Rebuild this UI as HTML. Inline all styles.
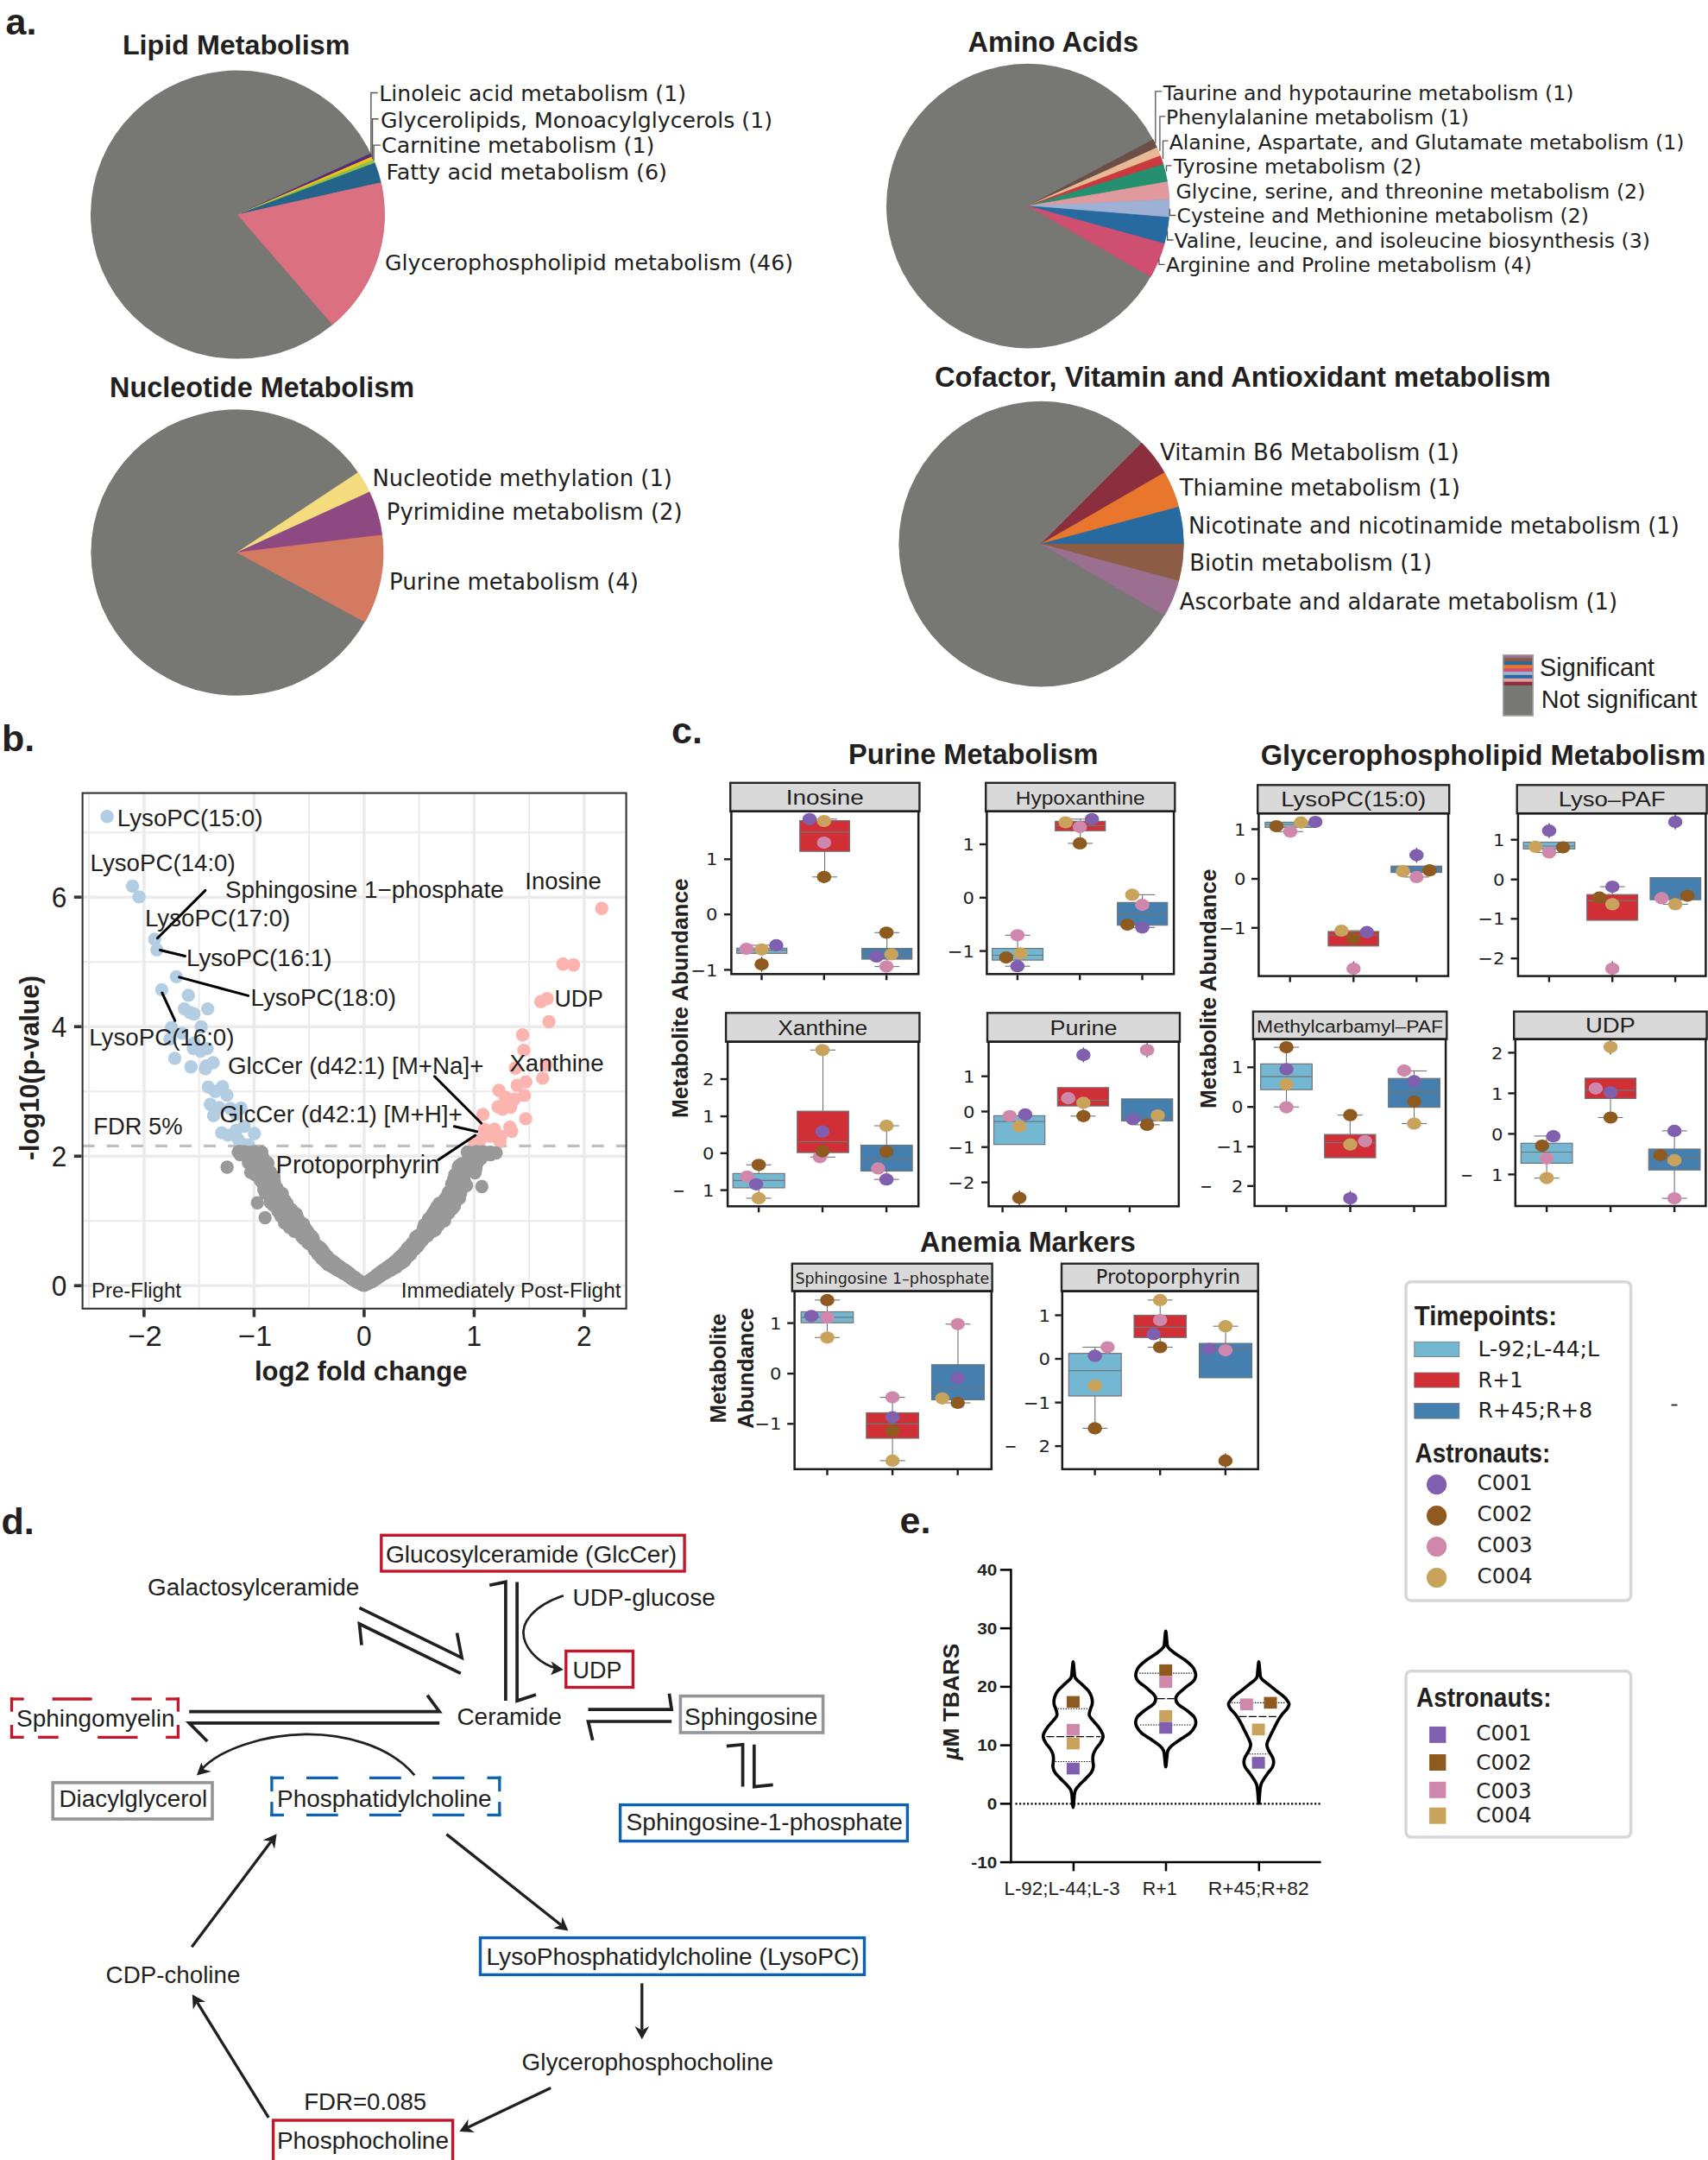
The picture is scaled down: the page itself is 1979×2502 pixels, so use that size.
<!DOCTYPE html>
<html lang="en"><head><meta charset="utf-8"><title>Figure</title>
<style>
html,body{margin:0;padding:0;background:#fff}
svg{display:block}
text{fill:#231f20}
.ls,.lsb,.lsi,.lsbi{font-family:"Liberation Sans",sans-serif}
.dv,.dvb{font-family:"DejaVu Sans",sans-serif}
.lsb,.dvb,.lsbi{font-weight:bold}
.lsi,.lsbi{font-style:italic}
</style></head><body>
<svg width="1979" height="2502" viewBox="0 0 1979 2502">
<rect width="1979" height="2502" fill="#ffffff"/>
<g id="panel-a">
<text class="lsb" x="6.5" y="39.5" font-size="43">a.</text>
<text class="lsb" x="141.9" y="62.8" font-size="32.26" textLength="263.5" lengthAdjust="spacingAndGlyphs">Lipid Metabolism</text>
<ellipse cx="275.3" cy="248.6" rx="170.3" ry="167" fill="#777773"/>
<path d="M275.3 248.6 L429.59 177.92 A170.3 167 0 0 1 431.26 181.53 Z" fill="#56287a" stroke="#56287a" stroke-width="0.6"/>
<path d="M275.3 248.6 L431.26 181.53 A170.3 167 0 0 1 432.84 185.18 Z" fill="#f0c419" stroke="#f0c419" stroke-width="0.6"/>
<path d="M275.3 248.6 L432.84 185.18 A170.3 167 0 0 1 434.33 188.86 Z" fill="#8bc34a" stroke="#8bc34a" stroke-width="0.6"/>
<path d="M275.3 248.6 L434.33 188.86 A170.3 167 0 0 1 441.37 211.6 Z" fill="#24638a" stroke="#24638a" stroke-width="0.6"/>
<path d="M275.3 248.6 L441.37 211.6 A170.3 167 0 0 1 385.31 376.08 Z" fill="#da7080" stroke="#da7080" stroke-width="0.6"/>
<path d="M437.7 107.5 H429.9 V180" fill="none" stroke="#555555" stroke-width="1.4"/>
<path d="M438.6 137.8 H431.5 V184" fill="none" stroke="#555555" stroke-width="1.4"/>
<path d="M440.9 168.1 H433.1 V186" fill="none" stroke="#555555" stroke-width="1.4"/>
<text class="dv" x="439.3" y="117.4" font-size="25.16" textLength="355.7" lengthAdjust="spacingAndGlyphs">Linoleic acid metabolism (1)</text>
<text class="dv" x="441" y="147.5" font-size="25.18" textLength="454" lengthAdjust="spacingAndGlyphs">Glycerolipids, Monoacylglycerols (1)</text>
<text class="dv" x="442" y="177.4" font-size="25.35" textLength="316.4" lengthAdjust="spacingAndGlyphs">Carnitine metabolism (1)</text>
<text class="dv" x="447.5" y="207.5" font-size="25.41" textLength="325.5" lengthAdjust="spacingAndGlyphs">Fatty acid metabolism (6)</text>
<text class="dv" x="446" y="313" font-size="25.19" textLength="473" lengthAdjust="spacingAndGlyphs">Glycerophospholipid metabolism (46)</text>
<text class="lsb" x="1121.5" y="60" font-size="32.51" textLength="197.5" lengthAdjust="spacingAndGlyphs">Amino Acids</text>
<ellipse cx="1191" cy="238.6" rx="164" ry="164.8" fill="#777773"/>
<path d="M1191 238.6 L1336.07 161.74 A164 164.8 0 0 1 1340.59 171.04 Z" fill="#6b4e45" stroke="#6b4e45" stroke-width="0.6"/>
<path d="M1191 238.6 L1340.59 171.04 A164 164.8 0 0 1 1344.51 180.62 Z" fill="#e8b994" stroke="#e8b994" stroke-width="0.6"/>
<path d="M1191 238.6 L1344.51 180.62 A164 164.8 0 0 1 1347.83 190.42 Z" fill="#c9393d" stroke="#c9393d" stroke-width="0.6"/>
<path d="M1191 238.6 L1347.83 190.42 A164 164.8 0 0 1 1352.61 210.55 Z" fill="#25906f" stroke="#25906f" stroke-width="0.6"/>
<path d="M1191 238.6 L1352.61 210.55 A164 164.8 0 0 1 1354.83 231.12 Z" fill="#e09a9e" stroke="#e09a9e" stroke-width="0.6"/>
<path d="M1191 238.6 L1354.83 231.12 A164 164.8 0 0 1 1354.47 251.82 Z" fill="#9eb0d3" stroke="#9eb0d3" stroke-width="0.6"/>
<path d="M1191 238.6 L1354.47 251.82 A164 164.8 0 0 1 1349.11 282.36 Z" fill="#266aa0" stroke="#266aa0" stroke-width="0.6"/>
<path d="M1191 238.6 L1349.11 282.36 A164 164.8 0 0 1 1333.31 320.5 Z" fill="#cf4f70" stroke="#cf4f70" stroke-width="0.6"/>
<text class="dv" x="1347.8" y="115.5" font-size="23.62" textLength="475.7" lengthAdjust="spacingAndGlyphs">Taurine and hypotaurine metabolism (1)</text>
<text class="dv" x="1351" y="144" font-size="23.46" textLength="351" lengthAdjust="spacingAndGlyphs">Phenylalanine metabolism (1)</text>
<text class="dv" x="1354.7" y="172.6" font-size="23.58" textLength="596.8" lengthAdjust="spacingAndGlyphs">Alanine, Aspartate, and Glutamate metabolism (1)</text>
<text class="dv" x="1359.7" y="201" font-size="23.86" textLength="287.3" lengthAdjust="spacingAndGlyphs">Tyrosine metabolism (2)</text>
<text class="dv" x="1362.4" y="229.7" font-size="23.64" textLength="544" lengthAdjust="spacingAndGlyphs">Glycine, serine, and threonine metabolism (2)</text>
<text class="dv" x="1363.6" y="258.3" font-size="23.44" textLength="477.2" lengthAdjust="spacingAndGlyphs">Cysteine and Methionine metabolism (2)</text>
<text class="dv" x="1360.5" y="286.8" font-size="23.57" textLength="551.5" lengthAdjust="spacingAndGlyphs">Valine, leucine, and isoleucine biosynthesis (3)</text>
<text class="dv" x="1351" y="315.4" font-size="23.55" textLength="424" lengthAdjust="spacingAndGlyphs">Arginine and Proline metabolism (4)</text>
<path d="M1346.3 105.9 H1338.8 V166.1" fill="none" stroke="#555555" stroke-width="1.3"/>
<path d="M1350.3 134.8 H1343.9 V175.1" fill="none" stroke="#555555" stroke-width="1.3"/>
<path d="M1353.6 163.1 H1347.5 V184.1" fill="none" stroke="#555555" stroke-width="1.3"/>
<path d="M1357.5 191.9 H1351.5 V198.6" fill="none" stroke="#555555" stroke-width="1.3"/>
<path d="M1362.3 249.5 H1355.4 V241.9" fill="none" stroke="#555555" stroke-width="1.3"/>
<path d="M1359.6 278 H1352.6 V267.8" fill="none" stroke="#555555" stroke-width="1.3"/>
<path d="M1349.6 306.3 H1343 V300.3" fill="none" stroke="#555555" stroke-width="1.3"/>
<text class="lsb" x="127" y="460" font-size="32.41" textLength="353" lengthAdjust="spacingAndGlyphs">Nucleotide Metabolism</text>
<ellipse cx="274.7" cy="640" rx="169.3" ry="165.8" fill="#777773"/>
<path d="M274.7 640 L415.06 547.29 A169.3 165.8 0 0 1 428.14 569.93 Z" fill="#f5dc7e" stroke="#f5dc7e" stroke-width="0.6"/>
<path d="M274.7 640 L428.14 569.93 A169.3 165.8 0 0 1 442.74 619.79 Z" fill="#8e4882" stroke="#8e4882" stroke-width="0.6"/>
<path d="M274.7 640 L442.74 619.79 A169.3 165.8 0 0 1 422.77 720.38 Z" fill="#d47a60" stroke="#d47a60" stroke-width="0.6"/>
<text class="dv" x="431.4" y="563" font-size="25.9" textLength="347.6" lengthAdjust="spacingAndGlyphs">Nucleotide methylation (1)</text>
<text class="dv" x="447.8" y="602" font-size="25.9" textLength="342.9" lengthAdjust="spacingAndGlyphs">Pyrimidine metabolism (2)</text>
<text class="dv" x="451" y="683" font-size="26.03" textLength="289" lengthAdjust="spacingAndGlyphs">Purine metabolism (4)</text>
<text class="lsb" x="1083" y="447.6" font-size="32.68" textLength="713.7" lengthAdjust="spacingAndGlyphs">Cofactor, Vitamin and Antioxidant metabolism</text>
<ellipse cx="1206.4" cy="630.1" rx="165" ry="165.4" fill="#777773"/>
<path d="M1206.4 630.1 L1323.07 513.14 A165 165.4 0 0 1 1349.29 547.4 Z" fill="#8b2e3d" stroke="#8b2e3d" stroke-width="0.6"/>
<path d="M1206.4 630.1 L1349.29 547.4 A165 165.4 0 0 1 1365.78 587.29 Z" fill="#e8762c" stroke="#e8762c" stroke-width="0.6"/>
<path d="M1206.4 630.1 L1365.78 587.29 A165 165.4 0 0 1 1371.4 630.1 Z" fill="#266aa0" stroke="#266aa0" stroke-width="0.6"/>
<path d="M1206.4 630.1 L1371.4 630.1 A165 165.4 0 0 1 1365.78 672.91 Z" fill="#8c5c44" stroke="#8c5c44" stroke-width="0.6"/>
<path d="M1206.4 630.1 L1365.78 672.91 A165 165.4 0 0 1 1349.29 712.8 Z" fill="#9b6f90" stroke="#9b6f90" stroke-width="0.6"/>
<text class="dv" x="1344" y="533" font-size="26.06" textLength="346.7" lengthAdjust="spacingAndGlyphs">Vitamin B6 Metabolism (1)</text>
<text class="dv" x="1366.8" y="573.7" font-size="25.83" textLength="325" lengthAdjust="spacingAndGlyphs">Thiamine metabolism (1)</text>
<text class="dv" x="1377" y="617.8" font-size="25.78" textLength="568.8" lengthAdjust="spacingAndGlyphs">Nicotinate and nicotinamide metabolism (1)</text>
<text class="dv" x="1378.3" y="660.8" font-size="25.93" textLength="280.7" lengthAdjust="spacingAndGlyphs">Biotin metabolism (1)</text>
<text class="dv" x="1366.8" y="705.5" font-size="25.79" textLength="507.2" lengthAdjust="spacingAndGlyphs">Ascorbate and aldarate metabolism (1)</text>
<rect x="1741.2" y="758" width="35.6" height="71.5" fill="#777773"/>
<rect x="1741.2" y="758.5" width="35.6" height="4.2" fill="#9b6f90"/>
<rect x="1741.2" y="762.4" width="35.6" height="4.2" fill="#8c5c44"/>
<rect x="1741.2" y="766.3" width="35.6" height="4.2" fill="#266aa0"/>
<rect x="1741.2" y="770.2" width="35.6" height="4.2" fill="#e8762c"/>
<rect x="1741.2" y="774.1" width="35.6" height="4.2" fill="#cf4f70"/>
<rect x="1741.2" y="778" width="35.6" height="4.2" fill="#9eb0d3"/>
<rect x="1741.2" y="781.9" width="35.6" height="4.2" fill="#266aa0"/>
<rect x="1741.2" y="785.8" width="35.6" height="4.2" fill="#e39da0"/>
<rect x="1741.2" y="789.7" width="35.6" height="4.2" fill="#8b2e3d"/>
<rect x="1741.9" y="758.7" width="34.2" height="70.1" fill="none" stroke="#a3a3a0" stroke-width="1.4"/>
<text class="ls" x="1784" y="782.8" font-size="28.83" textLength="133" lengthAdjust="spacingAndGlyphs">Significant</text>
<text class="ls" x="1785.8" y="820.4" font-size="28.79" textLength="180.8" lengthAdjust="spacingAndGlyphs">Not significant</text>
</g>
<g id="panel-b">
<text class="lsb" x="2" y="870" font-size="43">b.</text>
<line x1="103.15" y1="918.6" x2="103.15" y2="1515.8" stroke="#ebebeb" stroke-width="2"/>
<line x1="230.65" y1="918.6" x2="230.65" y2="1515.8" stroke="#ebebeb" stroke-width="2"/>
<line x1="358.15" y1="918.6" x2="358.15" y2="1515.8" stroke="#ebebeb" stroke-width="2"/>
<line x1="485.65" y1="918.6" x2="485.65" y2="1515.8" stroke="#ebebeb" stroke-width="2"/>
<line x1="613.15" y1="918.6" x2="613.15" y2="1515.8" stroke="#ebebeb" stroke-width="2"/>
<line x1="95.6" y1="1414.2" x2="725.6" y2="1414.2" stroke="#ebebeb" stroke-width="2"/>
<line x1="95.6" y1="1264.2" x2="725.6" y2="1264.2" stroke="#ebebeb" stroke-width="2"/>
<line x1="95.6" y1="1114.2" x2="725.6" y2="1114.2" stroke="#ebebeb" stroke-width="2"/>
<line x1="95.6" y1="964.2" x2="725.6" y2="964.2" stroke="#ebebeb" stroke-width="2"/>
<line x1="166.9" y1="918.6" x2="166.9" y2="1515.8" stroke="#ebebeb" stroke-width="3.6"/>
<line x1="294.4" y1="918.6" x2="294.4" y2="1515.8" stroke="#ebebeb" stroke-width="3.6"/>
<line x1="421.9" y1="918.6" x2="421.9" y2="1515.8" stroke="#ebebeb" stroke-width="3.6"/>
<line x1="549.4" y1="918.6" x2="549.4" y2="1515.8" stroke="#ebebeb" stroke-width="3.6"/>
<line x1="676.9" y1="918.6" x2="676.9" y2="1515.8" stroke="#ebebeb" stroke-width="3.6"/>
<line x1="95.6" y1="1489.2" x2="725.6" y2="1489.2" stroke="#ebebeb" stroke-width="3.6"/>
<line x1="95.6" y1="1339.2" x2="725.6" y2="1339.2" stroke="#ebebeb" stroke-width="3.6"/>
<line x1="95.6" y1="1189.2" x2="725.6" y2="1189.2" stroke="#ebebeb" stroke-width="3.6"/>
<line x1="95.6" y1="1039.2" x2="725.6" y2="1039.2" stroke="#ebebeb" stroke-width="3.6"/>
<line x1="95.6" y1="1327.4" x2="725.6" y2="1327.4" stroke="#bebebe" stroke-width="3.3" stroke-dasharray="14 14.1"/>
<circle cx="124.1" cy="945.7" r="7.7" fill="#b3cde3"/>
<circle cx="153.6" cy="1026.5" r="7.7" fill="#b3cde3"/>
<circle cx="161.1" cy="1038.9" r="7.7" fill="#b3cde3"/>
<circle cx="179.2" cy="1088" r="7.7" fill="#b3cde3"/>
<circle cx="181.7" cy="1100.2" r="7.7" fill="#b3cde3"/>
<circle cx="204.4" cy="1131.4" r="7.7" fill="#b3cde3"/>
<circle cx="187.4" cy="1146.4" r="7.7" fill="#b3cde3"/>
<circle cx="218.3" cy="1152.9" r="7.7" fill="#b3cde3"/>
<circle cx="213.6" cy="1168.6" r="7.7" fill="#b3cde3"/>
<circle cx="240.7" cy="1168.6" r="7.7" fill="#b3cde3"/>
<circle cx="220.1" cy="1172.8" r="7.7" fill="#b3cde3"/>
<circle cx="224.8" cy="1174.5" r="7.7" fill="#b3cde3"/>
<circle cx="198.74" cy="1190.3" r="7.7" fill="#b3cde3"/>
<circle cx="210.91" cy="1196.86" r="7.7" fill="#b3cde3"/>
<circle cx="196.86" cy="1203.42" r="7.7" fill="#b3cde3"/>
<circle cx="233.11" cy="1189.37" r="7.7" fill="#b3cde3"/>
<circle cx="224.03" cy="1214.66" r="7.7" fill="#b3cde3"/>
<circle cx="232.46" cy="1217.47" r="7.7" fill="#b3cde3"/>
<circle cx="239.95" cy="1214.66" r="7.7" fill="#b3cde3"/>
<circle cx="224.96" cy="1208.1" r="7.7" fill="#b3cde3"/>
<circle cx="202.48" cy="1225.9" r="7.7" fill="#b3cde3"/>
<circle cx="221.22" cy="1235.74" r="7.7" fill="#b3cde3"/>
<circle cx="239.02" cy="1234.8" r="7.7" fill="#b3cde3"/>
<circle cx="246.98" cy="1231.05" r="7.7" fill="#b3cde3"/>
<circle cx="238.08" cy="1238.08" r="7.7" fill="#b3cde3"/>
<circle cx="241.36" cy="1259.16" r="7.7" fill="#b3cde3"/>
<circle cx="257.75" cy="1258.69" r="7.7" fill="#b3cde3"/>
<circle cx="249.32" cy="1264.31" r="7.7" fill="#b3cde3"/>
<circle cx="262.9" cy="1268.52" r="7.7" fill="#b3cde3"/>
<circle cx="243.7" cy="1279.3" r="7.7" fill="#b3cde3"/>
<circle cx="247.45" cy="1292.41" r="7.7" fill="#b3cde3"/>
<circle cx="254" cy="1283.04" r="7.7" fill="#b3cde3"/>
<circle cx="267.12" cy="1283.98" r="7.7" fill="#b3cde3"/>
<circle cx="279.3" cy="1283.51" r="7.7" fill="#b3cde3"/>
<circle cx="273.68" cy="1290.54" r="7.7" fill="#b3cde3"/>
<circle cx="256.81" cy="1312.08" r="7.7" fill="#b3cde3"/>
<circle cx="264.31" cy="1314.89" r="7.7" fill="#b3cde3"/>
<circle cx="273.68" cy="1309.27" r="7.7" fill="#b3cde3"/>
<circle cx="283.04" cy="1304.59" r="7.7" fill="#b3cde3"/>
<circle cx="276.49" cy="1320.52" r="7.7" fill="#b3cde3"/>
<circle cx="287.73" cy="1326.14" r="7.7" fill="#b3cde3"/>
<circle cx="294.75" cy="1313.02" r="7.7" fill="#b3cde3"/>
<circle cx="283.04" cy="1326.14" r="7.7" fill="#b3cde3"/>
<circle cx="697.2" cy="1052.2" r="7.7" fill="#fbb4ae"/>
<circle cx="652.3" cy="1116.7" r="7.7" fill="#fbb4ae"/>
<circle cx="664.5" cy="1117.7" r="7.7" fill="#fbb4ae"/>
<circle cx="634" cy="1156.7" r="7.7" fill="#fbb4ae"/>
<circle cx="626.6" cy="1160.3" r="7.7" fill="#fbb4ae"/>
<circle cx="636.1" cy="1183.5" r="7.7" fill="#fbb4ae"/>
<circle cx="605.5" cy="1198.7" r="7.7" fill="#fbb4ae"/>
<circle cx="607" cy="1216.6" r="7.7" fill="#fbb4ae"/>
<circle cx="632.9" cy="1233.5" r="7.7" fill="#fbb4ae"/>
<circle cx="597.1" cy="1237.3" r="7.7" fill="#fbb4ae"/>
<circle cx="628.7" cy="1248.9" r="7.7" fill="#fbb4ae"/>
<circle cx="609.3" cy="1253.1" r="7.7" fill="#fbb4ae"/>
<circle cx="599.2" cy="1257.3" r="7.7" fill="#fbb4ae"/>
<circle cx="578.1" cy="1263" r="7.7" fill="#fbb4ae"/>
<circle cx="607.6" cy="1268.9" r="7.7" fill="#fbb4ae"/>
<circle cx="585.5" cy="1271" r="7.7" fill="#fbb4ae"/>
<circle cx="596" cy="1273.1" r="7.7" fill="#fbb4ae"/>
<circle cx="577.1" cy="1282" r="7.7" fill="#fbb4ae"/>
<circle cx="591.8" cy="1282.6" r="7.7" fill="#fbb4ae"/>
<circle cx="582.3" cy="1284.7" r="7.7" fill="#fbb4ae"/>
<circle cx="559.6" cy="1291" r="7.7" fill="#fbb4ae"/>
<circle cx="609.1" cy="1295.9" r="7.7" fill="#fbb4ae"/>
<circle cx="590.8" cy="1305.8" r="7.7" fill="#fbb4ae"/>
<circle cx="561.3" cy="1307.9" r="7.7" fill="#fbb4ae"/>
<circle cx="572.9" cy="1307.9" r="7.7" fill="#fbb4ae"/>
<circle cx="592.9" cy="1310.6" r="7.7" fill="#fbb4ae"/>
<circle cx="560.2" cy="1316.3" r="7.7" fill="#fbb4ae"/>
<circle cx="568.6" cy="1316.3" r="7.7" fill="#fbb4ae"/>
<circle cx="580.2" cy="1316.3" r="7.7" fill="#fbb4ae"/>
<circle cx="549.7" cy="1323.7" r="7.7" fill="#fbb4ae"/>
<circle cx="556" cy="1321.6" r="7.7" fill="#fbb4ae"/>
<circle cx="579.2" cy="1322.6" r="7.7" fill="#fbb4ae"/>
<circle cx="299.22" cy="1344.09" r="7.7" fill="#999999"/>
<circle cx="441.96" cy="1473.55" r="7.7" fill="#999999"/>
<circle cx="387.92" cy="1467.96" r="7.7" fill="#999999"/>
<circle cx="422.48" cy="1487.3" r="7.7" fill="#999999"/>
<circle cx="399.49" cy="1472.86" r="7.7" fill="#999999"/>
<circle cx="459.53" cy="1463.58" r="7.7" fill="#999999"/>
<circle cx="399.78" cy="1473.85" r="7.7" fill="#999999"/>
<circle cx="451.43" cy="1466.4" r="7.7" fill="#999999"/>
<circle cx="496.63" cy="1412.76" r="7.7" fill="#999999"/>
<circle cx="359.75" cy="1438.97" r="7.7" fill="#999999"/>
<circle cx="388.54" cy="1465.51" r="7.7" fill="#999999"/>
<circle cx="470.26" cy="1451.97" r="7.7" fill="#999999"/>
<circle cx="382.55" cy="1463.39" r="7.7" fill="#999999"/>
<circle cx="513.45" cy="1393.42" r="7.7" fill="#999999"/>
<circle cx="500.4" cy="1425.54" r="7.7" fill="#999999"/>
<circle cx="473.57" cy="1446.89" r="7.7" fill="#999999"/>
<circle cx="311.48" cy="1384.62" r="7.7" fill="#999999"/>
<circle cx="419.72" cy="1487.44" r="7.7" fill="#999999"/>
<circle cx="373.97" cy="1448.46" r="7.7" fill="#999999"/>
<circle cx="345.07" cy="1419.55" r="7.7" fill="#999999"/>
<circle cx="443.61" cy="1473.4" r="7.7" fill="#999999"/>
<circle cx="472.79" cy="1455.38" r="7.7" fill="#999999"/>
<circle cx="313.27" cy="1392.79" r="7.7" fill="#999999"/>
<circle cx="466.08" cy="1453.53" r="7.7" fill="#999999"/>
<circle cx="427.05" cy="1484.85" r="7.7" fill="#999999"/>
<circle cx="473.25" cy="1449.94" r="7.7" fill="#999999"/>
<circle cx="376.84" cy="1455.23" r="7.7" fill="#999999"/>
<circle cx="434.39" cy="1481.29" r="7.7" fill="#999999"/>
<circle cx="462.15" cy="1461.39" r="7.7" fill="#999999"/>
<circle cx="407.57" cy="1480.43" r="7.7" fill="#999999"/>
<circle cx="387.78" cy="1468.08" r="7.7" fill="#999999"/>
<circle cx="434.93" cy="1481.18" r="7.7" fill="#999999"/>
<circle cx="395.21" cy="1472.24" r="7.7" fill="#999999"/>
<circle cx="415.66" cy="1485.66" r="7.7" fill="#999999"/>
<circle cx="426.36" cy="1485.53" r="7.7" fill="#999999"/>
<circle cx="442.68" cy="1475.45" r="7.7" fill="#999999"/>
<circle cx="520.27" cy="1393.6" r="7.7" fill="#999999"/>
<circle cx="313.43" cy="1362.56" r="7.7" fill="#999999"/>
<circle cx="512.76" cy="1400.88" r="7.7" fill="#999999"/>
<circle cx="438.54" cy="1477.04" r="7.7" fill="#999999"/>
<circle cx="335.48" cy="1421.74" r="7.7" fill="#999999"/>
<circle cx="409.81" cy="1480.03" r="7.7" fill="#999999"/>
<circle cx="415.46" cy="1484" r="7.7" fill="#999999"/>
<circle cx="496.76" cy="1412.58" r="7.7" fill="#999999"/>
<circle cx="347.45" cy="1426.85" r="7.7" fill="#999999"/>
<circle cx="437.14" cy="1477.81" r="7.7" fill="#999999"/>
<circle cx="413.64" cy="1484.79" r="7.7" fill="#999999"/>
<circle cx="303.8" cy="1367.05" r="7.7" fill="#999999"/>
<circle cx="505.05" cy="1411.28" r="7.7" fill="#999999"/>
<circle cx="379.82" cy="1463.23" r="7.7" fill="#999999"/>
<circle cx="470.68" cy="1449.29" r="7.7" fill="#999999"/>
<circle cx="345.62" cy="1415.22" r="7.7" fill="#999999"/>
<circle cx="459.33" cy="1464.62" r="7.7" fill="#999999"/>
<circle cx="449.61" cy="1469.28" r="7.7" fill="#999999"/>
<circle cx="430.52" cy="1484.4" r="7.7" fill="#999999"/>
<circle cx="506.69" cy="1400.88" r="7.7" fill="#999999"/>
<circle cx="362.78" cy="1443.63" r="7.7" fill="#999999"/>
<circle cx="411.95" cy="1482.22" r="7.7" fill="#999999"/>
<circle cx="448.92" cy="1469.21" r="7.7" fill="#999999"/>
<circle cx="532.52" cy="1356.6" r="7.7" fill="#999999"/>
<circle cx="329.97" cy="1413.11" r="7.7" fill="#999999"/>
<circle cx="477.5" cy="1440.31" r="7.7" fill="#999999"/>
<circle cx="426.93" cy="1484.42" r="7.7" fill="#999999"/>
<circle cx="480.06" cy="1440.24" r="7.7" fill="#999999"/>
<circle cx="384.78" cy="1464.65" r="7.7" fill="#999999"/>
<circle cx="531.41" cy="1367.55" r="7.7" fill="#999999"/>
<circle cx="497.65" cy="1416.87" r="7.7" fill="#999999"/>
<circle cx="391.6" cy="1466.57" r="7.7" fill="#999999"/>
<circle cx="385.71" cy="1467.91" r="7.7" fill="#999999"/>
<circle cx="453.83" cy="1465.22" r="7.7" fill="#999999"/>
<circle cx="380.27" cy="1458.4" r="7.7" fill="#999999"/>
<circle cx="447.88" cy="1470.73" r="7.7" fill="#999999"/>
<circle cx="516.24" cy="1398.53" r="7.7" fill="#999999"/>
<circle cx="493.14" cy="1425.14" r="7.7" fill="#999999"/>
<circle cx="463.64" cy="1460.8" r="7.7" fill="#999999"/>
<circle cx="374.02" cy="1455.77" r="7.7" fill="#999999"/>
<circle cx="471.94" cy="1448.47" r="7.7" fill="#999999"/>
<circle cx="288.08" cy="1343.54" r="7.7" fill="#999999"/>
<circle cx="470.1" cy="1453.15" r="7.7" fill="#999999"/>
<circle cx="549.74" cy="1335.76" r="7.7" fill="#999999"/>
<circle cx="483.55" cy="1438.47" r="7.7" fill="#999999"/>
<circle cx="551.38" cy="1353.9" r="7.7" fill="#999999"/>
<circle cx="496.35" cy="1427.24" r="7.7" fill="#999999"/>
<circle cx="373.9" cy="1457.64" r="7.7" fill="#999999"/>
<circle cx="388.51" cy="1464.02" r="7.7" fill="#999999"/>
<circle cx="363.67" cy="1441.1" r="7.7" fill="#999999"/>
<circle cx="482.44" cy="1440.87" r="7.7" fill="#999999"/>
<circle cx="431.05" cy="1481.61" r="7.7" fill="#999999"/>
<circle cx="385.22" cy="1460.75" r="7.7" fill="#999999"/>
<circle cx="404.28" cy="1478.41" r="7.7" fill="#999999"/>
<circle cx="512.45" cy="1409.26" r="7.7" fill="#999999"/>
<circle cx="354.29" cy="1425.89" r="7.7" fill="#999999"/>
<circle cx="426.93" cy="1484.78" r="7.7" fill="#999999"/>
<circle cx="402.85" cy="1474.62" r="7.7" fill="#999999"/>
<circle cx="482.11" cy="1439.38" r="7.7" fill="#999999"/>
<circle cx="510.54" cy="1403.32" r="7.7" fill="#999999"/>
<circle cx="343.72" cy="1417" r="7.7" fill="#999999"/>
<circle cx="452.39" cy="1469.2" r="7.7" fill="#999999"/>
<circle cx="483.21" cy="1442.67" r="7.7" fill="#999999"/>
<circle cx="416.88" cy="1484.01" r="7.7" fill="#999999"/>
<circle cx="536.84" cy="1371.26" r="7.7" fill="#999999"/>
<circle cx="376.51" cy="1456.28" r="7.7" fill="#999999"/>
<circle cx="364.55" cy="1446.65" r="7.7" fill="#999999"/>
<circle cx="424.48" cy="1486.29" r="7.7" fill="#999999"/>
<circle cx="418.48" cy="1486.97" r="7.7" fill="#999999"/>
<circle cx="296.27" cy="1338.5" r="7.7" fill="#999999"/>
<circle cx="424.5" cy="1487.21" r="7.7" fill="#999999"/>
<circle cx="286.36" cy="1339.46" r="7.7" fill="#999999"/>
<circle cx="282.1" cy="1335.98" r="7.7" fill="#999999"/>
<circle cx="278.21" cy="1337.59" r="7.7" fill="#999999"/>
<circle cx="361.1" cy="1431.99" r="7.7" fill="#999999"/>
<circle cx="403.53" cy="1474.82" r="7.7" fill="#999999"/>
<circle cx="381.3" cy="1462.91" r="7.7" fill="#999999"/>
<circle cx="385.68" cy="1467.15" r="7.7" fill="#999999"/>
<circle cx="415.63" cy="1484.78" r="7.7" fill="#999999"/>
<circle cx="469.73" cy="1456.28" r="7.7" fill="#999999"/>
<circle cx="432.47" cy="1480.38" r="7.7" fill="#999999"/>
<circle cx="314.46" cy="1368.95" r="7.7" fill="#999999"/>
<circle cx="437.25" cy="1477.1" r="7.7" fill="#999999"/>
<circle cx="408.88" cy="1481.62" r="7.7" fill="#999999"/>
<circle cx="550.42" cy="1358.58" r="7.7" fill="#999999"/>
<circle cx="342.74" cy="1419.16" r="7.7" fill="#999999"/>
<circle cx="423.09" cy="1487.68" r="7.7" fill="#999999"/>
<circle cx="451.66" cy="1465.94" r="7.7" fill="#999999"/>
<circle cx="412.58" cy="1481.72" r="7.7" fill="#999999"/>
<circle cx="538.25" cy="1372.41" r="7.7" fill="#999999"/>
<circle cx="395.35" cy="1468.59" r="7.7" fill="#999999"/>
<circle cx="454.48" cy="1464.08" r="7.7" fill="#999999"/>
<circle cx="432.69" cy="1481.32" r="7.7" fill="#999999"/>
<circle cx="475.63" cy="1449.47" r="7.7" fill="#999999"/>
<circle cx="491.61" cy="1429.98" r="7.7" fill="#999999"/>
<circle cx="440.44" cy="1478.18" r="7.7" fill="#999999"/>
<circle cx="313.75" cy="1379.91" r="7.7" fill="#999999"/>
<circle cx="481.94" cy="1436.26" r="7.7" fill="#999999"/>
<circle cx="425.04" cy="1485.99" r="7.7" fill="#999999"/>
<circle cx="388.42" cy="1464.04" r="7.7" fill="#999999"/>
<circle cx="432.7" cy="1481.27" r="7.7" fill="#999999"/>
<circle cx="313.13" cy="1357.31" r="7.7" fill="#999999"/>
<circle cx="488.03" cy="1437.46" r="7.7" fill="#999999"/>
<circle cx="445.82" cy="1471.23" r="7.7" fill="#999999"/>
<circle cx="431.6" cy="1483.11" r="7.7" fill="#999999"/>
<circle cx="512.88" cy="1411.49" r="7.7" fill="#999999"/>
<circle cx="371.76" cy="1446.46" r="7.7" fill="#999999"/>
<circle cx="457.98" cy="1464.78" r="7.7" fill="#999999"/>
<circle cx="403.83" cy="1477.55" r="7.7" fill="#999999"/>
<circle cx="387.07" cy="1465.7" r="7.7" fill="#999999"/>
<circle cx="457.31" cy="1468.02" r="7.7" fill="#999999"/>
<circle cx="356.07" cy="1438.88" r="7.7" fill="#999999"/>
<circle cx="469.24" cy="1454.03" r="7.7" fill="#999999"/>
<circle cx="384.67" cy="1466.73" r="7.7" fill="#999999"/>
<circle cx="360.9" cy="1434.66" r="7.7" fill="#999999"/>
<circle cx="502.91" cy="1412.59" r="7.7" fill="#999999"/>
<circle cx="477.77" cy="1440.55" r="7.7" fill="#999999"/>
<circle cx="457.67" cy="1468.21" r="7.7" fill="#999999"/>
<circle cx="445.65" cy="1474.75" r="7.7" fill="#999999"/>
<circle cx="339.71" cy="1419.15" r="7.7" fill="#999999"/>
<circle cx="495.25" cy="1429.19" r="7.7" fill="#999999"/>
<circle cx="417.15" cy="1485.06" r="7.7" fill="#999999"/>
<circle cx="450.88" cy="1469.27" r="7.7" fill="#999999"/>
<circle cx="430.32" cy="1484.79" r="7.7" fill="#999999"/>
<circle cx="470.92" cy="1449.7" r="7.7" fill="#999999"/>
<circle cx="467.76" cy="1458.14" r="7.7" fill="#999999"/>
<circle cx="295.71" cy="1360.82" r="7.7" fill="#999999"/>
<circle cx="530.36" cy="1377.19" r="7.7" fill="#999999"/>
<circle cx="309.01" cy="1349.52" r="7.7" fill="#999999"/>
<circle cx="416.92" cy="1484.74" r="7.7" fill="#999999"/>
<circle cx="486.53" cy="1434.33" r="7.7" fill="#999999"/>
<circle cx="448.33" cy="1468.94" r="7.7" fill="#999999"/>
<circle cx="486.41" cy="1434.01" r="7.7" fill="#999999"/>
<circle cx="448.44" cy="1468.65" r="7.7" fill="#999999"/>
<circle cx="456.19" cy="1466.58" r="7.7" fill="#999999"/>
<circle cx="467.09" cy="1460.63" r="7.7" fill="#999999"/>
<circle cx="470.93" cy="1454.82" r="7.7" fill="#999999"/>
<circle cx="402.59" cy="1477.59" r="7.7" fill="#999999"/>
<circle cx="408.83" cy="1478.61" r="7.7" fill="#999999"/>
<circle cx="341.97" cy="1413.44" r="7.7" fill="#999999"/>
<circle cx="411.96" cy="1481.24" r="7.7" fill="#999999"/>
<circle cx="320.87" cy="1394.54" r="7.7" fill="#999999"/>
<circle cx="525.44" cy="1366.3" r="7.7" fill="#999999"/>
<circle cx="412.67" cy="1481.27" r="7.7" fill="#999999"/>
<circle cx="435.53" cy="1481" r="7.7" fill="#999999"/>
<circle cx="414.53" cy="1483.3" r="7.7" fill="#999999"/>
<circle cx="310.82" cy="1379.93" r="7.7" fill="#999999"/>
<circle cx="518.1" cy="1384.84" r="7.7" fill="#999999"/>
<circle cx="419.91" cy="1487.94" r="7.7" fill="#999999"/>
<circle cx="526.56" cy="1396.77" r="7.7" fill="#999999"/>
<circle cx="500.11" cy="1408.72" r="7.7" fill="#999999"/>
<circle cx="471.37" cy="1447.49" r="7.7" fill="#999999"/>
<circle cx="425.21" cy="1487.01" r="7.7" fill="#999999"/>
<circle cx="303.58" cy="1365.81" r="7.7" fill="#999999"/>
<circle cx="302.87" cy="1368.43" r="7.7" fill="#999999"/>
<circle cx="393.05" cy="1472.1" r="7.7" fill="#999999"/>
<circle cx="418.73" cy="1485.68" r="7.7" fill="#999999"/>
<circle cx="394.47" cy="1469.54" r="7.7" fill="#999999"/>
<circle cx="314.31" cy="1373.05" r="7.7" fill="#999999"/>
<circle cx="410.39" cy="1479.37" r="7.7" fill="#999999"/>
<circle cx="396.63" cy="1471.83" r="7.7" fill="#999999"/>
<circle cx="533.96" cy="1358.38" r="7.7" fill="#999999"/>
<circle cx="541.37" cy="1334.48" r="7.7" fill="#999999"/>
<circle cx="310.43" cy="1347.07" r="7.7" fill="#999999"/>
<circle cx="395.45" cy="1471.47" r="7.7" fill="#999999"/>
<circle cx="503.42" cy="1409.5" r="7.7" fill="#999999"/>
<circle cx="325.21" cy="1408.61" r="7.7" fill="#999999"/>
<circle cx="486.7" cy="1433.58" r="7.7" fill="#999999"/>
<circle cx="330.91" cy="1400.54" r="7.7" fill="#999999"/>
<circle cx="326.39" cy="1399.95" r="7.7" fill="#999999"/>
<circle cx="342.37" cy="1418.76" r="7.7" fill="#999999"/>
<circle cx="409.5" cy="1482.4" r="7.7" fill="#999999"/>
<circle cx="510.88" cy="1408.53" r="7.7" fill="#999999"/>
<circle cx="529.05" cy="1365.58" r="7.7" fill="#999999"/>
<circle cx="421.07" cy="1487.98" r="7.7" fill="#999999"/>
<circle cx="560.09" cy="1334.31" r="7.7" fill="#999999"/>
<circle cx="425.87" cy="1486.61" r="7.7" fill="#999999"/>
<circle cx="445.69" cy="1474.8" r="7.7" fill="#999999"/>
<circle cx="446.61" cy="1470.23" r="7.7" fill="#999999"/>
<circle cx="430.9" cy="1484.28" r="7.7" fill="#999999"/>
<circle cx="295.95" cy="1338.28" r="7.7" fill="#999999"/>
<circle cx="450.88" cy="1468.49" r="7.7" fill="#999999"/>
<circle cx="566.91" cy="1334.85" r="7.7" fill="#999999"/>
<circle cx="373.51" cy="1458.5" r="7.7" fill="#999999"/>
<circle cx="443.76" cy="1474.93" r="7.7" fill="#999999"/>
<circle cx="446.47" cy="1470.08" r="7.7" fill="#999999"/>
<circle cx="311.71" cy="1358.16" r="7.7" fill="#999999"/>
<circle cx="445.74" cy="1472.47" r="7.7" fill="#999999"/>
<circle cx="373.56" cy="1449.99" r="7.7" fill="#999999"/>
<circle cx="398.95" cy="1474.27" r="7.7" fill="#999999"/>
<circle cx="377.16" cy="1461.87" r="7.7" fill="#999999"/>
<circle cx="344.62" cy="1424.54" r="7.7" fill="#999999"/>
<circle cx="467.97" cy="1460.68" r="7.7" fill="#999999"/>
<circle cx="459.64" cy="1460.21" r="7.7" fill="#999999"/>
<circle cx="490.74" cy="1432.02" r="7.7" fill="#999999"/>
<circle cx="468.65" cy="1457.22" r="7.7" fill="#999999"/>
<circle cx="435.21" cy="1479.63" r="7.7" fill="#999999"/>
<circle cx="467.91" cy="1458.43" r="7.7" fill="#999999"/>
<circle cx="348.66" cy="1419.21" r="7.7" fill="#999999"/>
<circle cx="434.18" cy="1479.31" r="7.7" fill="#999999"/>
<circle cx="329.7" cy="1402.97" r="7.7" fill="#999999"/>
<circle cx="339.49" cy="1419.47" r="7.7" fill="#999999"/>
<circle cx="417.63" cy="1486.35" r="7.7" fill="#999999"/>
<circle cx="435.44" cy="1480.94" r="7.7" fill="#999999"/>
<circle cx="488.28" cy="1431.34" r="7.7" fill="#999999"/>
<circle cx="365.48" cy="1441.5" r="7.7" fill="#999999"/>
<circle cx="478.08" cy="1443.4" r="7.7" fill="#999999"/>
<circle cx="397.51" cy="1472.67" r="7.7" fill="#999999"/>
<circle cx="359.93" cy="1439.66" r="7.7" fill="#999999"/>
<circle cx="427.42" cy="1486.08" r="7.7" fill="#999999"/>
<circle cx="435.41" cy="1481.42" r="7.7" fill="#999999"/>
<circle cx="387.1" cy="1467.57" r="7.7" fill="#999999"/>
<circle cx="408.84" cy="1479.55" r="7.7" fill="#999999"/>
<circle cx="523.26" cy="1371.54" r="7.7" fill="#999999"/>
<circle cx="534.94" cy="1347.91" r="7.7" fill="#999999"/>
<circle cx="367.02" cy="1443.44" r="7.7" fill="#999999"/>
<circle cx="435.55" cy="1479.83" r="7.7" fill="#999999"/>
<circle cx="448" cy="1469.19" r="7.7" fill="#999999"/>
<circle cx="402.56" cy="1475.32" r="7.7" fill="#999999"/>
<circle cx="314.25" cy="1386.06" r="7.7" fill="#999999"/>
<circle cx="470.04" cy="1455.03" r="7.7" fill="#999999"/>
<circle cx="510.25" cy="1407.45" r="7.7" fill="#999999"/>
<circle cx="546.5" cy="1355.03" r="7.7" fill="#999999"/>
<circle cx="391.02" cy="1467.62" r="7.7" fill="#999999"/>
<circle cx="435.03" cy="1480.5" r="7.7" fill="#999999"/>
<circle cx="419.07" cy="1486.56" r="7.7" fill="#999999"/>
<circle cx="493.85" cy="1429.82" r="7.7" fill="#999999"/>
<circle cx="428.28" cy="1485.41" r="7.7" fill="#999999"/>
<circle cx="467.19" cy="1455.51" r="7.7" fill="#999999"/>
<circle cx="503.83" cy="1414.4" r="7.7" fill="#999999"/>
<circle cx="340.33" cy="1417.82" r="7.7" fill="#999999"/>
<circle cx="453.22" cy="1466.31" r="7.7" fill="#999999"/>
<circle cx="366.59" cy="1445.14" r="7.7" fill="#999999"/>
<circle cx="530.88" cy="1352.03" r="7.7" fill="#999999"/>
<circle cx="343.25" cy="1413.39" r="7.7" fill="#999999"/>
<circle cx="453.92" cy="1468.52" r="7.7" fill="#999999"/>
<circle cx="487.64" cy="1435.74" r="7.7" fill="#999999"/>
<circle cx="386.48" cy="1462.18" r="7.7" fill="#999999"/>
<circle cx="390.43" cy="1470.29" r="7.7" fill="#999999"/>
<circle cx="304.44" cy="1361.81" r="7.7" fill="#999999"/>
<circle cx="404.26" cy="1475.03" r="7.7" fill="#999999"/>
<circle cx="366.71" cy="1442.89" r="7.7" fill="#999999"/>
<circle cx="442.55" cy="1473.56" r="7.7" fill="#999999"/>
<circle cx="473.77" cy="1453.72" r="7.7" fill="#999999"/>
<circle cx="415.19" cy="1485.5" r="7.7" fill="#999999"/>
<circle cx="383.82" cy="1464.92" r="7.7" fill="#999999"/>
<circle cx="451.52" cy="1469.36" r="7.7" fill="#999999"/>
<circle cx="419.68" cy="1487.8" r="7.7" fill="#999999"/>
<circle cx="418.48" cy="1486.68" r="7.7" fill="#999999"/>
<circle cx="552.45" cy="1347.71" r="7.7" fill="#999999"/>
<circle cx="409.93" cy="1482.35" r="7.7" fill="#999999"/>
<circle cx="307.76" cy="1380.81" r="7.7" fill="#999999"/>
<circle cx="485.99" cy="1433.93" r="7.7" fill="#999999"/>
<circle cx="370.75" cy="1451.13" r="7.7" fill="#999999"/>
<circle cx="433.88" cy="1479.67" r="7.7" fill="#999999"/>
<circle cx="473.04" cy="1444.95" r="7.7" fill="#999999"/>
<circle cx="533.74" cy="1352.2" r="7.7" fill="#999999"/>
<circle cx="340.89" cy="1413.82" r="7.7" fill="#999999"/>
<circle cx="354.37" cy="1423.55" r="7.7" fill="#999999"/>
<circle cx="412.81" cy="1482.58" r="7.7" fill="#999999"/>
<circle cx="425.91" cy="1485.71" r="7.7" fill="#999999"/>
<circle cx="441.45" cy="1476.44" r="7.7" fill="#999999"/>
<circle cx="404.08" cy="1477.57" r="7.7" fill="#999999"/>
<circle cx="316.74" cy="1396.03" r="7.7" fill="#999999"/>
<circle cx="482.7" cy="1433.24" r="7.7" fill="#999999"/>
<circle cx="358.46" cy="1429.48" r="7.7" fill="#999999"/>
<circle cx="437.56" cy="1479.65" r="7.7" fill="#999999"/>
<circle cx="381.62" cy="1458.59" r="7.7" fill="#999999"/>
<circle cx="339" cy="1403.45" r="7.7" fill="#999999"/>
<circle cx="437.18" cy="1476.32" r="7.7" fill="#999999"/>
<circle cx="400.48" cy="1471.7" r="7.7" fill="#999999"/>
<circle cx="438.26" cy="1476.39" r="7.7" fill="#999999"/>
<circle cx="292.27" cy="1349.21" r="7.7" fill="#999999"/>
<circle cx="474.83" cy="1443.54" r="7.7" fill="#999999"/>
<circle cx="351.47" cy="1425.07" r="7.7" fill="#999999"/>
<circle cx="341.27" cy="1423.39" r="7.7" fill="#999999"/>
<circle cx="433.66" cy="1480.6" r="7.7" fill="#999999"/>
<circle cx="443.74" cy="1471.55" r="7.7" fill="#999999"/>
<circle cx="309.96" cy="1368.43" r="7.7" fill="#999999"/>
<circle cx="526.31" cy="1393.44" r="7.7" fill="#999999"/>
<circle cx="289.89" cy="1343.22" r="7.7" fill="#999999"/>
<circle cx="430.5" cy="1481.74" r="7.7" fill="#999999"/>
<circle cx="351.69" cy="1417.93" r="7.7" fill="#999999"/>
<circle cx="382.9" cy="1464.56" r="7.7" fill="#999999"/>
<circle cx="410.81" cy="1481.99" r="7.7" fill="#999999"/>
<circle cx="487.15" cy="1434.34" r="7.7" fill="#999999"/>
<circle cx="400.1" cy="1473.45" r="7.7" fill="#999999"/>
<circle cx="368.52" cy="1447.91" r="7.7" fill="#999999"/>
<circle cx="442.84" cy="1474.81" r="7.7" fill="#999999"/>
<circle cx="338.8" cy="1407.36" r="7.7" fill="#999999"/>
<circle cx="361.95" cy="1438.01" r="7.7" fill="#999999"/>
<circle cx="456.27" cy="1463.56" r="7.7" fill="#999999"/>
<circle cx="492.88" cy="1424.57" r="7.7" fill="#999999"/>
<circle cx="536.43" cy="1371.17" r="7.7" fill="#999999"/>
<circle cx="410.11" cy="1481.2" r="7.7" fill="#999999"/>
<circle cx="331.01" cy="1394.35" r="7.7" fill="#999999"/>
<circle cx="445.62" cy="1473.19" r="7.7" fill="#999999"/>
<circle cx="537.91" cy="1367.11" r="7.7" fill="#999999"/>
<circle cx="506.07" cy="1407.97" r="7.7" fill="#999999"/>
<circle cx="379.85" cy="1462.2" r="7.7" fill="#999999"/>
<circle cx="328.64" cy="1395.83" r="7.7" fill="#999999"/>
<circle cx="452.9" cy="1468.54" r="7.7" fill="#999999"/>
<circle cx="533.17" cy="1380.82" r="7.7" fill="#999999"/>
<circle cx="307.32" cy="1381.7" r="7.7" fill="#999999"/>
<circle cx="360.75" cy="1440.11" r="7.7" fill="#999999"/>
<circle cx="439.1" cy="1478.18" r="7.7" fill="#999999"/>
<circle cx="434.94" cy="1478.47" r="7.7" fill="#999999"/>
<circle cx="517.9" cy="1406.36" r="7.7" fill="#999999"/>
<circle cx="503.01" cy="1417.31" r="7.7" fill="#999999"/>
<circle cx="418.23" cy="1485.02" r="7.7" fill="#999999"/>
<circle cx="512.61" cy="1400.84" r="7.7" fill="#999999"/>
<circle cx="444.24" cy="1471.79" r="7.7" fill="#999999"/>
<circle cx="341.02" cy="1426.25" r="7.7" fill="#999999"/>
<circle cx="388.15" cy="1463.54" r="7.7" fill="#999999"/>
<circle cx="518.82" cy="1393.51" r="7.7" fill="#999999"/>
<circle cx="519.08" cy="1391.94" r="7.7" fill="#999999"/>
<circle cx="454.56" cy="1468.89" r="7.7" fill="#999999"/>
<circle cx="464.02" cy="1459.07" r="7.7" fill="#999999"/>
<circle cx="350.72" cy="1423.45" r="7.7" fill="#999999"/>
<circle cx="479.92" cy="1442.25" r="7.7" fill="#999999"/>
<circle cx="525.28" cy="1372.52" r="7.7" fill="#999999"/>
<circle cx="568.21" cy="1335.93" r="7.7" fill="#999999"/>
<circle cx="433.45" cy="1480.79" r="7.7" fill="#999999"/>
<circle cx="421.04" cy="1487.28" r="7.7" fill="#999999"/>
<circle cx="422.11" cy="1487.87" r="7.7" fill="#999999"/>
<circle cx="438.17" cy="1478.17" r="7.7" fill="#999999"/>
<circle cx="489.72" cy="1432.8" r="7.7" fill="#999999"/>
<circle cx="398.97" cy="1473.49" r="7.7" fill="#999999"/>
<circle cx="514.63" cy="1406.27" r="7.7" fill="#999999"/>
<circle cx="326.38" cy="1402.83" r="7.7" fill="#999999"/>
<circle cx="459.41" cy="1464.01" r="7.7" fill="#999999"/>
<circle cx="445.58" cy="1471.12" r="7.7" fill="#999999"/>
<circle cx="370.86" cy="1455.21" r="7.7" fill="#999999"/>
<circle cx="543.02" cy="1337.94" r="7.7" fill="#999999"/>
<circle cx="472.76" cy="1449.42" r="7.7" fill="#999999"/>
<circle cx="434.32" cy="1481.7" r="7.7" fill="#999999"/>
<circle cx="386.66" cy="1464.5" r="7.7" fill="#999999"/>
<circle cx="335.53" cy="1400.25" r="7.7" fill="#999999"/>
<circle cx="493.84" cy="1425.63" r="7.7" fill="#999999"/>
<circle cx="481.02" cy="1439.58" r="7.7" fill="#999999"/>
<circle cx="325.3" cy="1403.11" r="7.7" fill="#999999"/>
<circle cx="441.02" cy="1474.7" r="7.7" fill="#999999"/>
<circle cx="535" cy="1356.4" r="7.7" fill="#999999"/>
<circle cx="499.71" cy="1426.65" r="7.7" fill="#999999"/>
<circle cx="449.58" cy="1470.87" r="7.7" fill="#999999"/>
<circle cx="446.87" cy="1469.99" r="7.7" fill="#999999"/>
<circle cx="484.31" cy="1441.09" r="7.7" fill="#999999"/>
<circle cx="315.06" cy="1362.73" r="7.7" fill="#999999"/>
<circle cx="401.71" cy="1475.97" r="7.7" fill="#999999"/>
<circle cx="450.82" cy="1471.21" r="7.7" fill="#999999"/>
<circle cx="379.02" cy="1457.57" r="7.7" fill="#999999"/>
<circle cx="427.89" cy="1483.64" r="7.7" fill="#999999"/>
<circle cx="380.28" cy="1460.23" r="7.7" fill="#999999"/>
<circle cx="514.38" cy="1401.06" r="7.7" fill="#999999"/>
<circle cx="403.32" cy="1476.5" r="7.7" fill="#999999"/>
<circle cx="457.81" cy="1461.5" r="7.7" fill="#999999"/>
<circle cx="455.41" cy="1464.47" r="7.7" fill="#999999"/>
<circle cx="342.36" cy="1410.61" r="7.7" fill="#999999"/>
<circle cx="380.22" cy="1464.97" r="7.7" fill="#999999"/>
<circle cx="419.64" cy="1486.99" r="7.7" fill="#999999"/>
<circle cx="376.82" cy="1453.79" r="7.7" fill="#999999"/>
<circle cx="442.56" cy="1475.03" r="7.7" fill="#999999"/>
<circle cx="348.52" cy="1423.54" r="7.7" fill="#999999"/>
<circle cx="376.01" cy="1455.87" r="7.7" fill="#999999"/>
<circle cx="417.74" cy="1486.12" r="7.7" fill="#999999"/>
<circle cx="383.41" cy="1460.92" r="7.7" fill="#999999"/>
<circle cx="385.45" cy="1465.45" r="7.7" fill="#999999"/>
<circle cx="478.13" cy="1441.14" r="7.7" fill="#999999"/>
<circle cx="357.84" cy="1439.97" r="7.7" fill="#999999"/>
<circle cx="499.51" cy="1413.03" r="7.7" fill="#999999"/>
<circle cx="437.26" cy="1477.86" r="7.7" fill="#999999"/>
<circle cx="405.75" cy="1479.66" r="7.7" fill="#999999"/>
<circle cx="296.4" cy="1339.95" r="7.7" fill="#999999"/>
<circle cx="425.91" cy="1485.19" r="7.7" fill="#999999"/>
<circle cx="517.42" cy="1406.7" r="7.7" fill="#999999"/>
<circle cx="404.95" cy="1476.85" r="7.7" fill="#999999"/>
<circle cx="420.43" cy="1488.11" r="7.7" fill="#999999"/>
<circle cx="522.08" cy="1392.21" r="7.7" fill="#999999"/>
<circle cx="498.75" cy="1424.42" r="7.7" fill="#999999"/>
<circle cx="464.3" cy="1462.55" r="7.7" fill="#999999"/>
<circle cx="436.52" cy="1480.75" r="7.7" fill="#999999"/>
<circle cx="391.8" cy="1469.4" r="7.7" fill="#999999"/>
<circle cx="332.78" cy="1394.28" r="7.7" fill="#999999"/>
<circle cx="468.41" cy="1454.85" r="7.7" fill="#999999"/>
<circle cx="555.06" cy="1334.57" r="7.7" fill="#999999"/>
<circle cx="490.94" cy="1434.23" r="7.7" fill="#999999"/>
<circle cx="501.54" cy="1414.11" r="7.7" fill="#999999"/>
<circle cx="358.09" cy="1431.56" r="7.7" fill="#999999"/>
<circle cx="276.02" cy="1334.32" r="7.7" fill="#999999"/>
<circle cx="565.78" cy="1336.2" r="7.7" fill="#999999"/>
<circle cx="474.06" cy="1451.74" r="7.7" fill="#999999"/>
<circle cx="379.97" cy="1463.33" r="7.7" fill="#999999"/>
<circle cx="385.69" cy="1465.66" r="7.7" fill="#999999"/>
<circle cx="444.67" cy="1475.02" r="7.7" fill="#999999"/>
<circle cx="322.22" cy="1402.67" r="7.7" fill="#999999"/>
<circle cx="293.79" cy="1351.15" r="7.7" fill="#999999"/>
<circle cx="519.49" cy="1381.31" r="7.7" fill="#999999"/>
<circle cx="404.42" cy="1478.73" r="7.7" fill="#999999"/>
<circle cx="441.12" cy="1474.83" r="7.7" fill="#999999"/>
<circle cx="352.49" cy="1430.9" r="7.7" fill="#999999"/>
<circle cx="475.75" cy="1452.74" r="7.7" fill="#999999"/>
<circle cx="498.12" cy="1415.1" r="7.7" fill="#999999"/>
<circle cx="330.13" cy="1391.03" r="7.7" fill="#999999"/>
<circle cx="393.8" cy="1468.25" r="7.7" fill="#999999"/>
<circle cx="421.26" cy="1487.61" r="7.7" fill="#999999"/>
<circle cx="406.07" cy="1476.15" r="7.7" fill="#999999"/>
<circle cx="418.03" cy="1486.93" r="7.7" fill="#999999"/>
<circle cx="350.49" cy="1424.1" r="7.7" fill="#999999"/>
<circle cx="456.49" cy="1462.18" r="7.7" fill="#999999"/>
<circle cx="447.7" cy="1472.9" r="7.7" fill="#999999"/>
<circle cx="369.1" cy="1443.98" r="7.7" fill="#999999"/>
<circle cx="307.07" cy="1354.12" r="7.7" fill="#999999"/>
<circle cx="419.88" cy="1487.01" r="7.7" fill="#999999"/>
<circle cx="349.32" cy="1421.23" r="7.7" fill="#999999"/>
<circle cx="305.2" cy="1341.86" r="7.7" fill="#999999"/>
<circle cx="445.41" cy="1473.44" r="7.7" fill="#999999"/>
<circle cx="530.18" cy="1364.62" r="7.7" fill="#999999"/>
<circle cx="399.67" cy="1475.86" r="7.7" fill="#999999"/>
<circle cx="385.38" cy="1464.17" r="7.7" fill="#999999"/>
<circle cx="518.16" cy="1406.42" r="7.7" fill="#999999"/>
<circle cx="362.39" cy="1434.29" r="7.7" fill="#999999"/>
<circle cx="463.08" cy="1458.7" r="7.7" fill="#999999"/>
<circle cx="427.15" cy="1485.13" r="7.7" fill="#999999"/>
<circle cx="430.22" cy="1482.94" r="7.7" fill="#999999"/>
<circle cx="396.71" cy="1474.09" r="7.7" fill="#999999"/>
<circle cx="401.13" cy="1474.91" r="7.7" fill="#999999"/>
<circle cx="405.03" cy="1475.94" r="7.7" fill="#999999"/>
<circle cx="515.36" cy="1388.86" r="7.7" fill="#999999"/>
<circle cx="469.65" cy="1456.87" r="7.7" fill="#999999"/>
<circle cx="536.41" cy="1360.71" r="7.7" fill="#999999"/>
<circle cx="439.76" cy="1477.71" r="7.7" fill="#999999"/>
<circle cx="448.11" cy="1472" r="7.7" fill="#999999"/>
<circle cx="326.91" cy="1385.08" r="7.7" fill="#999999"/>
<circle cx="417.87" cy="1485.41" r="7.7" fill="#999999"/>
<circle cx="424.01" cy="1486.44" r="7.7" fill="#999999"/>
<circle cx="467.77" cy="1453.71" r="7.7" fill="#999999"/>
<circle cx="359.46" cy="1431.19" r="7.7" fill="#999999"/>
<circle cx="463.29" cy="1458.15" r="7.7" fill="#999999"/>
<circle cx="433.81" cy="1481.59" r="7.7" fill="#999999"/>
<circle cx="362.9" cy="1434.36" r="7.7" fill="#999999"/>
<circle cx="437.53" cy="1480.19" r="7.7" fill="#999999"/>
<circle cx="500.55" cy="1409.72" r="7.7" fill="#999999"/>
<circle cx="438.07" cy="1478.45" r="7.7" fill="#999999"/>
<circle cx="391.49" cy="1468.72" r="7.7" fill="#999999"/>
<circle cx="389.15" cy="1467.85" r="7.7" fill="#999999"/>
<circle cx="436.88" cy="1479.18" r="7.7" fill="#999999"/>
<circle cx="338.82" cy="1422.96" r="7.7" fill="#999999"/>
<circle cx="450.32" cy="1467.55" r="7.7" fill="#999999"/>
<circle cx="423.79" cy="1486.49" r="7.7" fill="#999999"/>
<circle cx="453.38" cy="1468.43" r="7.7" fill="#999999"/>
<circle cx="375.99" cy="1452.69" r="7.7" fill="#999999"/>
<circle cx="500.53" cy="1415.97" r="7.7" fill="#999999"/>
<circle cx="431.96" cy="1480.38" r="7.7" fill="#999999"/>
<circle cx="445.36" cy="1474.82" r="7.7" fill="#999999"/>
<circle cx="506.06" cy="1397.9" r="7.7" fill="#999999"/>
<circle cx="455.92" cy="1464.07" r="7.7" fill="#999999"/>
<circle cx="496.48" cy="1426.57" r="7.7" fill="#999999"/>
<circle cx="510.61" cy="1402.61" r="7.7" fill="#999999"/>
<circle cx="418.01" cy="1487.06" r="7.7" fill="#999999"/>
<circle cx="496.73" cy="1411.65" r="7.7" fill="#999999"/>
<circle cx="440.19" cy="1477.46" r="7.7" fill="#999999"/>
<circle cx="502.72" cy="1410.36" r="7.7" fill="#999999"/>
<circle cx="564.06" cy="1336.67" r="7.7" fill="#999999"/>
<circle cx="423.81" cy="1487.61" r="7.7" fill="#999999"/>
<circle cx="410.59" cy="1481.04" r="7.7" fill="#999999"/>
<circle cx="430.7" cy="1483.75" r="7.7" fill="#999999"/>
<circle cx="316.12" cy="1386.57" r="7.7" fill="#999999"/>
<circle cx="375.19" cy="1451.04" r="7.7" fill="#999999"/>
<circle cx="488.41" cy="1432.1" r="7.7" fill="#999999"/>
<circle cx="442.36" cy="1475.51" r="7.7" fill="#999999"/>
<circle cx="491.12" cy="1424.47" r="7.7" fill="#999999"/>
<circle cx="404.1" cy="1475.55" r="7.7" fill="#999999"/>
<circle cx="343.99" cy="1408.65" r="7.7" fill="#999999"/>
<circle cx="385.72" cy="1465.58" r="7.7" fill="#999999"/>
<circle cx="454.43" cy="1467.05" r="7.7" fill="#999999"/>
<circle cx="463.88" cy="1459.46" r="7.7" fill="#999999"/>
<circle cx="443.71" cy="1476.07" r="7.7" fill="#999999"/>
<circle cx="392.78" cy="1471.73" r="7.7" fill="#999999"/>
<circle cx="387.88" cy="1468.88" r="7.7" fill="#999999"/>
<circle cx="521.66" cy="1397.27" r="7.7" fill="#999999"/>
<circle cx="282.67" cy="1333.99" r="7.7" fill="#999999"/>
<circle cx="450" cy="1470.18" r="7.7" fill="#999999"/>
<circle cx="373.34" cy="1453.88" r="7.7" fill="#999999"/>
<circle cx="373.13" cy="1448.45" r="7.7" fill="#999999"/>
<circle cx="383.13" cy="1462.45" r="7.7" fill="#999999"/>
<circle cx="403.96" cy="1476.76" r="7.7" fill="#999999"/>
<circle cx="427.78" cy="1485.43" r="7.7" fill="#999999"/>
<circle cx="411.95" cy="1482.46" r="7.7" fill="#999999"/>
<circle cx="383.26" cy="1465.23" r="7.7" fill="#999999"/>
<circle cx="466.06" cy="1461.8" r="7.7" fill="#999999"/>
<circle cx="499.31" cy="1413.4" r="7.7" fill="#999999"/>
<circle cx="396.29" cy="1469.64" r="7.7" fill="#999999"/>
<circle cx="520.21" cy="1398.91" r="7.7" fill="#999999"/>
<circle cx="356.55" cy="1427.59" r="7.7" fill="#999999"/>
<circle cx="490.6" cy="1431.65" r="7.7" fill="#999999"/>
<circle cx="284.68" cy="1337.34" r="7.7" fill="#999999"/>
<circle cx="437.58" cy="1478.83" r="7.7" fill="#999999"/>
<circle cx="430.05" cy="1483.61" r="7.7" fill="#999999"/>
<circle cx="540.56" cy="1373.29" r="7.7" fill="#999999"/>
<circle cx="423.26" cy="1487.61" r="7.7" fill="#999999"/>
<circle cx="504.8" cy="1404.54" r="7.7" fill="#999999"/>
<circle cx="395.42" cy="1470.23" r="7.7" fill="#999999"/>
<circle cx="287.47" cy="1339.66" r="7.7" fill="#999999"/>
<circle cx="460.79" cy="1460.12" r="7.7" fill="#999999"/>
<circle cx="385.79" cy="1461.21" r="7.7" fill="#999999"/>
<circle cx="489.17" cy="1436.45" r="7.7" fill="#999999"/>
<circle cx="362.53" cy="1438.3" r="7.7" fill="#999999"/>
<circle cx="456.5" cy="1463.74" r="7.7" fill="#999999"/>
<circle cx="432.06" cy="1483.75" r="7.7" fill="#999999"/>
<circle cx="379.45" cy="1455.4" r="7.7" fill="#999999"/>
<circle cx="329.78" cy="1416.68" r="7.7" fill="#999999"/>
<circle cx="501.56" cy="1420.26" r="7.7" fill="#999999"/>
<circle cx="467.01" cy="1458.54" r="7.7" fill="#999999"/>
<circle cx="428.18" cy="1485.08" r="7.7" fill="#999999"/>
<circle cx="441.28" cy="1475.03" r="7.7" fill="#999999"/>
<circle cx="391.56" cy="1466.45" r="7.7" fill="#999999"/>
<circle cx="456.19" cy="1468.41" r="7.7" fill="#999999"/>
<circle cx="385.08" cy="1464.46" r="7.7" fill="#999999"/>
<circle cx="439.22" cy="1479.16" r="7.7" fill="#999999"/>
<circle cx="429.09" cy="1483.04" r="7.7" fill="#999999"/>
<circle cx="479.3" cy="1444.06" r="7.7" fill="#999999"/>
<circle cx="339.17" cy="1414.76" r="7.7" fill="#999999"/>
<circle cx="310.15" cy="1364.25" r="7.7" fill="#999999"/>
<circle cx="437.84" cy="1477.96" r="7.7" fill="#999999"/>
<circle cx="464.48" cy="1456.18" r="7.7" fill="#999999"/>
<circle cx="459.53" cy="1460.73" r="7.7" fill="#999999"/>
<circle cx="494.73" cy="1421.64" r="7.7" fill="#999999"/>
<circle cx="453.15" cy="1470.68" r="7.7" fill="#999999"/>
<circle cx="382.2" cy="1463.56" r="7.7" fill="#999999"/>
<circle cx="440.01" cy="1477.19" r="7.7" fill="#999999"/>
<circle cx="370.25" cy="1449.83" r="7.7" fill="#999999"/>
<circle cx="458.43" cy="1466.61" r="7.7" fill="#999999"/>
<circle cx="446.43" cy="1471.65" r="7.7" fill="#999999"/>
<circle cx="328.2" cy="1402.69" r="7.7" fill="#999999"/>
<circle cx="389.01" cy="1464.78" r="7.7" fill="#999999"/>
<circle cx="406.67" cy="1477.68" r="7.7" fill="#999999"/>
<circle cx="336.06" cy="1405.09" r="7.7" fill="#999999"/>
<circle cx="454.4" cy="1465.79" r="7.7" fill="#999999"/>
<circle cx="441.03" cy="1473.82" r="7.7" fill="#999999"/>
<circle cx="376.08" cy="1459.54" r="7.7" fill="#999999"/>
<circle cx="480.7" cy="1438.46" r="7.7" fill="#999999"/>
<circle cx="381.72" cy="1463.37" r="7.7" fill="#999999"/>
<circle cx="283.06" cy="1334.45" r="7.7" fill="#999999"/>
<circle cx="480.55" cy="1437.4" r="7.7" fill="#999999"/>
<circle cx="434.66" cy="1481.8" r="7.7" fill="#999999"/>
<circle cx="434.24" cy="1481.79" r="7.7" fill="#999999"/>
<circle cx="447.83" cy="1472.22" r="7.7" fill="#999999"/>
<circle cx="426.23" cy="1485.74" r="7.7" fill="#999999"/>
<circle cx="350.56" cy="1432.25" r="7.7" fill="#999999"/>
<circle cx="368.19" cy="1452.51" r="7.7" fill="#999999"/>
<circle cx="402.66" cy="1476.86" r="7.7" fill="#999999"/>
<circle cx="382.04" cy="1464.25" r="7.7" fill="#999999"/>
<circle cx="413.15" cy="1484.55" r="7.7" fill="#999999"/>
<circle cx="413.04" cy="1482.1" r="7.7" fill="#999999"/>
<circle cx="467.86" cy="1458.35" r="7.7" fill="#999999"/>
<circle cx="468.55" cy="1450.75" r="7.7" fill="#999999"/>
<circle cx="422.06" cy="1487.84" r="7.7" fill="#999999"/>
<circle cx="428.31" cy="1485.53" r="7.7" fill="#999999"/>
<circle cx="453.55" cy="1469.14" r="7.7" fill="#999999"/>
<circle cx="375.65" cy="1459.77" r="7.7" fill="#999999"/>
<circle cx="423.1" cy="1487.5" r="7.7" fill="#999999"/>
<circle cx="524.54" cy="1395.15" r="7.7" fill="#999999"/>
<circle cx="407.11" cy="1480.69" r="7.7" fill="#999999"/>
<circle cx="471.79" cy="1451.88" r="7.7" fill="#999999"/>
<circle cx="448.33" cy="1468.9" r="7.7" fill="#999999"/>
<circle cx="366.27" cy="1448.3" r="7.7" fill="#999999"/>
<circle cx="364.07" cy="1447.45" r="7.7" fill="#999999"/>
<circle cx="373.31" cy="1457.63" r="7.7" fill="#999999"/>
<circle cx="373.22" cy="1454.1" r="7.7" fill="#999999"/>
<circle cx="309.18" cy="1363.07" r="7.7" fill="#999999"/>
<circle cx="439.44" cy="1474.98" r="7.7" fill="#999999"/>
<circle cx="469.66" cy="1457.39" r="7.7" fill="#999999"/>
<circle cx="434.48" cy="1479.85" r="7.7" fill="#999999"/>
<circle cx="347.56" cy="1415.73" r="7.7" fill="#999999"/>
<circle cx="508.25" cy="1414.27" r="7.7" fill="#999999"/>
<circle cx="382.74" cy="1461.16" r="7.7" fill="#999999"/>
<circle cx="364.97" cy="1447.63" r="7.7" fill="#999999"/>
<circle cx="474.07" cy="1445.19" r="7.7" fill="#999999"/>
<circle cx="470.03" cy="1454.79" r="7.7" fill="#999999"/>
<circle cx="500.89" cy="1407.65" r="7.7" fill="#999999"/>
<circle cx="506.63" cy="1420.18" r="7.7" fill="#999999"/>
<circle cx="318.42" cy="1378.75" r="7.7" fill="#999999"/>
<circle cx="516.14" cy="1402.9" r="7.7" fill="#999999"/>
<circle cx="478.95" cy="1439.4" r="7.7" fill="#999999"/>
<circle cx="462.62" cy="1460.69" r="7.7" fill="#999999"/>
<circle cx="510.44" cy="1395.23" r="7.7" fill="#999999"/>
<circle cx="414.71" cy="1482.9" r="7.7" fill="#999999"/>
<circle cx="378.68" cy="1457.6" r="7.7" fill="#999999"/>
<circle cx="378.11" cy="1462" r="7.7" fill="#999999"/>
<circle cx="443.57" cy="1471.71" r="7.7" fill="#999999"/>
<circle cx="316.11" cy="1387.62" r="7.7" fill="#999999"/>
<circle cx="473.46" cy="1448.94" r="7.7" fill="#999999"/>
<circle cx="513.05" cy="1392.63" r="7.7" fill="#999999"/>
<circle cx="422.12" cy="1488.73" r="7.7" fill="#999999"/>
<circle cx="459.7" cy="1466.18" r="7.7" fill="#999999"/>
<circle cx="532.31" cy="1388.18" r="7.7" fill="#999999"/>
<circle cx="543.6" cy="1352.72" r="7.7" fill="#999999"/>
<circle cx="347.18" cy="1418.34" r="7.7" fill="#999999"/>
<circle cx="336.86" cy="1410.07" r="7.7" fill="#999999"/>
<circle cx="444.79" cy="1472.98" r="7.7" fill="#999999"/>
<circle cx="443.49" cy="1474.53" r="7.7" fill="#999999"/>
<circle cx="359.54" cy="1438.48" r="7.7" fill="#999999"/>
<circle cx="436.83" cy="1478.04" r="7.7" fill="#999999"/>
<circle cx="520.01" cy="1405.16" r="7.7" fill="#999999"/>
<circle cx="504.55" cy="1424.6" r="7.7" fill="#999999"/>
<circle cx="487.21" cy="1433.24" r="7.7" fill="#999999"/>
<circle cx="477.65" cy="1443.5" r="7.7" fill="#999999"/>
<circle cx="369.36" cy="1447.5" r="7.7" fill="#999999"/>
<circle cx="468.85" cy="1457.01" r="7.7" fill="#999999"/>
<circle cx="528.67" cy="1391" r="7.7" fill="#999999"/>
<circle cx="389.62" cy="1470.22" r="7.7" fill="#999999"/>
<circle cx="549.94" cy="1357.82" r="7.7" fill="#999999"/>
<circle cx="467.1" cy="1453.14" r="7.7" fill="#999999"/>
<circle cx="450.45" cy="1468.55" r="7.7" fill="#999999"/>
<circle cx="508.26" cy="1418.81" r="7.7" fill="#999999"/>
<circle cx="397.47" cy="1471.04" r="7.7" fill="#999999"/>
<circle cx="387.89" cy="1462.72" r="7.7" fill="#999999"/>
<circle cx="391.22" cy="1468.76" r="7.7" fill="#999999"/>
<circle cx="446.83" cy="1472.44" r="7.7" fill="#999999"/>
<circle cx="383.36" cy="1459.63" r="7.7" fill="#999999"/>
<circle cx="411.12" cy="1482.02" r="7.7" fill="#999999"/>
<circle cx="344.13" cy="1410.02" r="7.7" fill="#999999"/>
<circle cx="398.38" cy="1473.57" r="7.7" fill="#999999"/>
<circle cx="491.72" cy="1418.68" r="7.7" fill="#999999"/>
<circle cx="422.65" cy="1487.18" r="7.7" fill="#999999"/>
<circle cx="471.84" cy="1449.46" r="7.7" fill="#999999"/>
<circle cx="432.53" cy="1481.14" r="7.7" fill="#999999"/>
<circle cx="376.76" cy="1453.45" r="7.7" fill="#999999"/>
<circle cx="406.19" cy="1479.8" r="7.7" fill="#999999"/>
<circle cx="430.59" cy="1484.52" r="7.7" fill="#999999"/>
<circle cx="392.48" cy="1468.37" r="7.7" fill="#999999"/>
<circle cx="402.71" cy="1476.56" r="7.7" fill="#999999"/>
<circle cx="455.11" cy="1468.15" r="7.7" fill="#999999"/>
<circle cx="334.89" cy="1405.48" r="7.7" fill="#999999"/>
<circle cx="408.6" cy="1480.79" r="7.7" fill="#999999"/>
<circle cx="398.79" cy="1472.2" r="7.7" fill="#999999"/>
<circle cx="473.75" cy="1451.74" r="7.7" fill="#999999"/>
<circle cx="405.37" cy="1476.01" r="7.7" fill="#999999"/>
<circle cx="418.87" cy="1485.68" r="7.7" fill="#999999"/>
<circle cx="416.02" cy="1483.74" r="7.7" fill="#999999"/>
<circle cx="355.54" cy="1429.18" r="7.7" fill="#999999"/>
<circle cx="448.34" cy="1472.06" r="7.7" fill="#999999"/>
<circle cx="277.49" cy="1334.07" r="7.7" fill="#999999"/>
<circle cx="451.3" cy="1466.32" r="7.7" fill="#999999"/>
<circle cx="392.47" cy="1469.01" r="7.7" fill="#999999"/>
<circle cx="475.58" cy="1445.23" r="7.7" fill="#999999"/>
<circle cx="447.99" cy="1469.07" r="7.7" fill="#999999"/>
<circle cx="382.69" cy="1463.63" r="7.7" fill="#999999"/>
<circle cx="399.23" cy="1470.96" r="7.7" fill="#999999"/>
<circle cx="514.74" cy="1390.44" r="7.7" fill="#999999"/>
<circle cx="355.48" cy="1435.21" r="7.7" fill="#999999"/>
<circle cx="329.61" cy="1393.25" r="7.7" fill="#999999"/>
<circle cx="440.59" cy="1475.91" r="7.7" fill="#999999"/>
<circle cx="329" cy="1398" r="7.7" fill="#999999"/>
<circle cx="329.42" cy="1396" r="7.7" fill="#999999"/>
<circle cx="397.75" cy="1474" r="7.7" fill="#999999"/>
<circle cx="304.78" cy="1344.52" r="7.7" fill="#999999"/>
<circle cx="403.63" cy="1474.64" r="7.7" fill="#999999"/>
<circle cx="495.44" cy="1420.05" r="7.7" fill="#999999"/>
<circle cx="462.72" cy="1461.22" r="7.7" fill="#999999"/>
<circle cx="480.56" cy="1447.01" r="7.7" fill="#999999"/>
<circle cx="531.93" cy="1350.16" r="7.7" fill="#999999"/>
<circle cx="466.32" cy="1458.09" r="7.7" fill="#999999"/>
<circle cx="524.21" cy="1399.99" r="7.7" fill="#999999"/>
<circle cx="340.66" cy="1419.87" r="7.7" fill="#999999"/>
<circle cx="331.63" cy="1404.87" r="7.7" fill="#999999"/>
<circle cx="415.98" cy="1483.77" r="7.7" fill="#999999"/>
<circle cx="452.74" cy="1470.57" r="7.7" fill="#999999"/>
<circle cx="392.08" cy="1470.69" r="7.7" fill="#999999"/>
<circle cx="472.09" cy="1449.19" r="7.7" fill="#999999"/>
<circle cx="337.34" cy="1414.77" r="7.7" fill="#999999"/>
<circle cx="341.47" cy="1416.69" r="7.7" fill="#999999"/>
<circle cx="360.33" cy="1439.22" r="7.7" fill="#999999"/>
<circle cx="481.39" cy="1441.84" r="7.7" fill="#999999"/>
<circle cx="372.51" cy="1454.58" r="7.7" fill="#999999"/>
<circle cx="319.51" cy="1388.44" r="7.7" fill="#999999"/>
<circle cx="387.47" cy="1465.94" r="7.7" fill="#999999"/>
<circle cx="456.97" cy="1467.93" r="7.7" fill="#999999"/>
<circle cx="509.16" cy="1401.48" r="7.7" fill="#999999"/>
<circle cx="431.36" cy="1482.68" r="7.7" fill="#999999"/>
<circle cx="553.41" cy="1345.89" r="7.7" fill="#999999"/>
<circle cx="343.71" cy="1423.08" r="7.7" fill="#999999"/>
<circle cx="434.15" cy="1481.39" r="7.7" fill="#999999"/>
<circle cx="328.93" cy="1410.83" r="7.7" fill="#999999"/>
<circle cx="367.33" cy="1445.44" r="7.7" fill="#999999"/>
<circle cx="360.43" cy="1437.08" r="7.7" fill="#999999"/>
<circle cx="310.14" cy="1379.89" r="7.7" fill="#999999"/>
<circle cx="450.59" cy="1469.62" r="7.7" fill="#999999"/>
<circle cx="460.23" cy="1461.83" r="7.7" fill="#999999"/>
<circle cx="446.84" cy="1473.89" r="7.7" fill="#999999"/>
<circle cx="417.6" cy="1486.15" r="7.7" fill="#999999"/>
<circle cx="305.64" cy="1377.98" r="7.7" fill="#999999"/>
<circle cx="515.04" cy="1414.13" r="7.7" fill="#999999"/>
<circle cx="468.33" cy="1458.74" r="7.7" fill="#999999"/>
<circle cx="502.17" cy="1421.38" r="7.7" fill="#999999"/>
<circle cx="342.54" cy="1409.62" r="7.7" fill="#999999"/>
<circle cx="395.22" cy="1472.01" r="7.7" fill="#999999"/>
<circle cx="394.36" cy="1467.66" r="7.7" fill="#999999"/>
<circle cx="481.19" cy="1442.04" r="7.7" fill="#999999"/>
<circle cx="450.54" cy="1468.13" r="7.7" fill="#999999"/>
<circle cx="461.64" cy="1458.02" r="7.7" fill="#999999"/>
<circle cx="545.44" cy="1344.29" r="7.7" fill="#999999"/>
<circle cx="434.05" cy="1482.2" r="7.7" fill="#999999"/>
<circle cx="495.59" cy="1431.22" r="7.7" fill="#999999"/>
<circle cx="464.84" cy="1457.45" r="7.7" fill="#999999"/>
<circle cx="322.1" cy="1403.27" r="7.7" fill="#999999"/>
<circle cx="473.65" cy="1446.68" r="7.7" fill="#999999"/>
<circle cx="502.24" cy="1404.38" r="7.7" fill="#999999"/>
<circle cx="411.55" cy="1481.32" r="7.7" fill="#999999"/>
<circle cx="363.06" cy="1438.13" r="7.7" fill="#999999"/>
<circle cx="406.21" cy="1478.26" r="7.7" fill="#999999"/>
<circle cx="296.51" cy="1348.37" r="7.7" fill="#999999"/>
<circle cx="338.19" cy="1401.61" r="7.7" fill="#999999"/>
<circle cx="508.12" cy="1405.97" r="7.7" fill="#999999"/>
<circle cx="491.41" cy="1431.37" r="7.7" fill="#999999"/>
<circle cx="484.15" cy="1443.46" r="7.7" fill="#999999"/>
<circle cx="542.06" cy="1345.37" r="7.7" fill="#999999"/>
<circle cx="442.81" cy="1474.79" r="7.7" fill="#999999"/>
<circle cx="450.94" cy="1469.22" r="7.7" fill="#999999"/>
<circle cx="371.73" cy="1453" r="7.7" fill="#999999"/>
<circle cx="497.59" cy="1415.68" r="7.7" fill="#999999"/>
<circle cx="402.94" cy="1473.46" r="7.7" fill="#999999"/>
<circle cx="399.5" cy="1474.05" r="7.7" fill="#999999"/>
<circle cx="534.25" cy="1368.11" r="7.7" fill="#999999"/>
<circle cx="533.79" cy="1381.75" r="7.7" fill="#999999"/>
<circle cx="453.27" cy="1470.59" r="7.7" fill="#999999"/>
<circle cx="460.4" cy="1466.54" r="7.7" fill="#999999"/>
<circle cx="478.79" cy="1440.81" r="7.7" fill="#999999"/>
<circle cx="532.76" cy="1360.97" r="7.7" fill="#999999"/>
<circle cx="355.77" cy="1431.83" r="7.7" fill="#999999"/>
<circle cx="389.24" cy="1464.39" r="7.7" fill="#999999"/>
<circle cx="464.96" cy="1461.74" r="7.7" fill="#999999"/>
<circle cx="397.35" cy="1473.29" r="7.7" fill="#999999"/>
<circle cx="370.85" cy="1448.98" r="7.7" fill="#999999"/>
<circle cx="483.1" cy="1435.57" r="7.7" fill="#999999"/>
<circle cx="417.34" cy="1486.26" r="7.7" fill="#999999"/>
<circle cx="568.36" cy="1337.56" r="7.7" fill="#999999"/>
<circle cx="409.98" cy="1480.43" r="7.7" fill="#999999"/>
<circle cx="481.69" cy="1433.26" r="7.7" fill="#999999"/>
<circle cx="336.75" cy="1400.63" r="7.7" fill="#999999"/>
<circle cx="463.97" cy="1455.47" r="7.7" fill="#999999"/>
<circle cx="549.41" cy="1353.55" r="7.7" fill="#999999"/>
<circle cx="480.64" cy="1445.86" r="7.7" fill="#999999"/>
<circle cx="375.76" cy="1452.27" r="7.7" fill="#999999"/>
<circle cx="333.76" cy="1413.57" r="7.7" fill="#999999"/>
<circle cx="484.58" cy="1434.01" r="7.7" fill="#999999"/>
<circle cx="526.43" cy="1367.44" r="7.7" fill="#999999"/>
<circle cx="401.06" cy="1474.9" r="7.7" fill="#999999"/>
<circle cx="346.34" cy="1413.63" r="7.7" fill="#999999"/>
<circle cx="548.41" cy="1356.45" r="7.7" fill="#999999"/>
<circle cx="484.83" cy="1431.13" r="7.7" fill="#999999"/>
<circle cx="443.04" cy="1472.97" r="7.7" fill="#999999"/>
<circle cx="486.94" cy="1435.89" r="7.7" fill="#999999"/>
<circle cx="393.88" cy="1471.37" r="7.7" fill="#999999"/>
<circle cx="449.16" cy="1472.59" r="7.7" fill="#999999"/>
<circle cx="306.23" cy="1354.28" r="7.7" fill="#999999"/>
<circle cx="457.66" cy="1465.86" r="7.7" fill="#999999"/>
<circle cx="477.91" cy="1439.84" r="7.7" fill="#999999"/>
<circle cx="456.36" cy="1465.76" r="7.7" fill="#999999"/>
<circle cx="443.24" cy="1473.65" r="7.7" fill="#999999"/>
<circle cx="433.96" cy="1479.36" r="7.7" fill="#999999"/>
<circle cx="430.62" cy="1481.5" r="7.7" fill="#999999"/>
<circle cx="483.89" cy="1442.26" r="7.7" fill="#999999"/>
<circle cx="468.34" cy="1458.1" r="7.7" fill="#999999"/>
<circle cx="448.04" cy="1473.3" r="7.7" fill="#999999"/>
<circle cx="528.82" cy="1372.3" r="7.7" fill="#999999"/>
<circle cx="500.44" cy="1407.1" r="7.7" fill="#999999"/>
<circle cx="402.23" cy="1474.43" r="7.7" fill="#999999"/>
<circle cx="370.37" cy="1453.04" r="7.7" fill="#999999"/>
<circle cx="318.97" cy="1384.79" r="7.7" fill="#999999"/>
<circle cx="433.34" cy="1479.96" r="7.7" fill="#999999"/>
<circle cx="455.63" cy="1467.38" r="7.7" fill="#999999"/>
<circle cx="413.14" cy="1483.86" r="7.7" fill="#999999"/>
<circle cx="407.79" cy="1478.07" r="7.7" fill="#999999"/>
<circle cx="359.73" cy="1432.52" r="7.7" fill="#999999"/>
<circle cx="325.96" cy="1382.84" r="7.7" fill="#999999"/>
<circle cx="493.4" cy="1427.99" r="7.7" fill="#999999"/>
<circle cx="369.07" cy="1446.92" r="7.7" fill="#999999"/>
<circle cx="452.93" cy="1469.79" r="7.7" fill="#999999"/>
<circle cx="412.07" cy="1483.2" r="7.7" fill="#999999"/>
<circle cx="472.66" cy="1446.09" r="7.7" fill="#999999"/>
<circle cx="524.08" cy="1375.4" r="7.7" fill="#999999"/>
<circle cx="376.57" cy="1455.78" r="7.7" fill="#999999"/>
<circle cx="372.83" cy="1457.93" r="7.7" fill="#999999"/>
<circle cx="503.46" cy="1424.18" r="7.7" fill="#999999"/>
<circle cx="466.3" cy="1461.96" r="7.7" fill="#999999"/>
<circle cx="305.67" cy="1373.19" r="7.7" fill="#999999"/>
<circle cx="452.41" cy="1470.24" r="7.7" fill="#999999"/>
<circle cx="406.26" cy="1477.19" r="7.7" fill="#999999"/>
<circle cx="427.16" cy="1485.3" r="7.7" fill="#999999"/>
<circle cx="482.45" cy="1438.07" r="7.7" fill="#999999"/>
<circle cx="370.67" cy="1445.58" r="7.7" fill="#999999"/>
<circle cx="327.07" cy="1382.37" r="7.7" fill="#999999"/>
<circle cx="403.34" cy="1478.15" r="7.7" fill="#999999"/>
<circle cx="469.88" cy="1457.5" r="7.7" fill="#999999"/>
<circle cx="408" cy="1478.68" r="7.7" fill="#999999"/>
<circle cx="415.86" cy="1484.35" r="7.7" fill="#999999"/>
<circle cx="277.07" cy="1333.98" r="7.7" fill="#999999"/>
<circle cx="341.18" cy="1407.8" r="7.7" fill="#999999"/>
<circle cx="438.88" cy="1476.1" r="7.7" fill="#999999"/>
<circle cx="295.76" cy="1352.47" r="7.7" fill="#999999"/>
<circle cx="501.9" cy="1426.12" r="7.7" fill="#999999"/>
<circle cx="415.07" cy="1485.01" r="7.7" fill="#999999"/>
<circle cx="390.15" cy="1466.98" r="7.7" fill="#999999"/>
<circle cx="421.97" cy="1487.73" r="7.7" fill="#999999"/>
<circle cx="412.66" cy="1483.36" r="7.7" fill="#999999"/>
<circle cx="383.26" cy="1460.59" r="7.7" fill="#999999"/>
<circle cx="300.07" cy="1362.18" r="7.7" fill="#999999"/>
<circle cx="468.95" cy="1456.93" r="7.7" fill="#999999"/>
<circle cx="411.88" cy="1481.99" r="7.7" fill="#999999"/>
<circle cx="422.15" cy="1488.26" r="7.7" fill="#999999"/>
<circle cx="378.42" cy="1458.39" r="7.7" fill="#999999"/>
<circle cx="411.81" cy="1480.29" r="7.7" fill="#999999"/>
<circle cx="373.01" cy="1454.85" r="7.7" fill="#999999"/>
<circle cx="483.5" cy="1437.64" r="7.7" fill="#999999"/>
<circle cx="321.96" cy="1391.47" r="7.7" fill="#999999"/>
<circle cx="448.88" cy="1472.09" r="7.7" fill="#999999"/>
<circle cx="523.69" cy="1384.72" r="7.7" fill="#999999"/>
<circle cx="400.52" cy="1474.1" r="7.7" fill="#999999"/>
<circle cx="351.31" cy="1418.23" r="7.7" fill="#999999"/>
<circle cx="287.79" cy="1346.85" r="7.7" fill="#999999"/>
<circle cx="444.47" cy="1473.36" r="7.7" fill="#999999"/>
<circle cx="466.5" cy="1459.2" r="7.7" fill="#999999"/>
<circle cx="473.56" cy="1453.89" r="7.7" fill="#999999"/>
<circle cx="489.1" cy="1429.09" r="7.7" fill="#999999"/>
<circle cx="362.59" cy="1437.39" r="7.7" fill="#999999"/>
<circle cx="393.1" cy="1469.32" r="7.7" fill="#999999"/>
<circle cx="424.15" cy="1486.73" r="7.7" fill="#999999"/>
<circle cx="508.83" cy="1393.88" r="7.7" fill="#999999"/>
<circle cx="457.48" cy="1464.18" r="7.7" fill="#999999"/>
<circle cx="413.26" cy="1484.22" r="7.7" fill="#999999"/>
<circle cx="396.16" cy="1472.63" r="7.7" fill="#999999"/>
<circle cx="483.7" cy="1443.58" r="7.7" fill="#999999"/>
<circle cx="386.07" cy="1463.05" r="7.7" fill="#999999"/>
<circle cx="358.13" cy="1440.67" r="7.7" fill="#999999"/>
<circle cx="431.33" cy="1481.64" r="7.7" fill="#999999"/>
<circle cx="330.3" cy="1414.69" r="7.7" fill="#999999"/>
<circle cx="290.72" cy="1339.19" r="7.7" fill="#999999"/>
<circle cx="393.49" cy="1467.3" r="7.7" fill="#999999"/>
<circle cx="538.4" cy="1347.98" r="7.7" fill="#999999"/>
<circle cx="429.97" cy="1482.03" r="7.7" fill="#999999"/>
<circle cx="376.33" cy="1452.24" r="7.7" fill="#999999"/>
<circle cx="427.75" cy="1483.8" r="7.7" fill="#999999"/>
<circle cx="558.37" cy="1337.76" r="7.7" fill="#999999"/>
<circle cx="294.83" cy="1339.59" r="7.7" fill="#999999"/>
<circle cx="381.22" cy="1463.28" r="7.7" fill="#999999"/>
<circle cx="405.96" cy="1477.21" r="7.7" fill="#999999"/>
<circle cx="468.84" cy="1457.69" r="7.7" fill="#999999"/>
<circle cx="439.56" cy="1478.24" r="7.7" fill="#999999"/>
<circle cx="447.32" cy="1469.64" r="7.7" fill="#999999"/>
<circle cx="359.67" cy="1437.54" r="7.7" fill="#999999"/>
<circle cx="564.6" cy="1336.26" r="7.7" fill="#999999"/>
<circle cx="492.33" cy="1423.2" r="7.7" fill="#999999"/>
<circle cx="449.39" cy="1471.68" r="7.7" fill="#999999"/>
<circle cx="368.46" cy="1452.93" r="7.7" fill="#999999"/>
<circle cx="486.47" cy="1431.67" r="7.7" fill="#999999"/>
<circle cx="532.58" cy="1367.05" r="7.7" fill="#999999"/>
<circle cx="319.17" cy="1393.8" r="7.7" fill="#999999"/>
<circle cx="485" cy="1435.79" r="7.7" fill="#999999"/>
<circle cx="449.36" cy="1470.52" r="7.7" fill="#999999"/>
<circle cx="372.36" cy="1454.35" r="7.7" fill="#999999"/>
<circle cx="455.59" cy="1468.93" r="7.7" fill="#999999"/>
<circle cx="489.47" cy="1436.08" r="7.7" fill="#999999"/>
<circle cx="455.35" cy="1463.68" r="7.7" fill="#999999"/>
<circle cx="448.53" cy="1471.13" r="7.7" fill="#999999"/>
<circle cx="508.14" cy="1400.17" r="7.7" fill="#999999"/>
<circle cx="377.75" cy="1457.22" r="7.7" fill="#999999"/>
<circle cx="372.39" cy="1453.32" r="7.7" fill="#999999"/>
<circle cx="431.7" cy="1482.71" r="7.7" fill="#999999"/>
<circle cx="314.25" cy="1385.55" r="7.7" fill="#999999"/>
<circle cx="482.28" cy="1441.59" r="7.7" fill="#999999"/>
<circle cx="448.11" cy="1468.66" r="7.7" fill="#999999"/>
<circle cx="446.26" cy="1473.14" r="7.7" fill="#999999"/>
<circle cx="423.16" cy="1487.55" r="7.7" fill="#999999"/>
<circle cx="488.69" cy="1431.04" r="7.7" fill="#999999"/>
<circle cx="429.39" cy="1482.91" r="7.7" fill="#999999"/>
<circle cx="371.38" cy="1445.47" r="7.7" fill="#999999"/>
<circle cx="433.01" cy="1482.03" r="7.7" fill="#999999"/>
<circle cx="394.67" cy="1468.59" r="7.7" fill="#999999"/>
<circle cx="473.92" cy="1447.78" r="7.7" fill="#999999"/>
<circle cx="306.04" cy="1372.1" r="7.7" fill="#999999"/>
<circle cx="468.9" cy="1456.92" r="7.7" fill="#999999"/>
<circle cx="426.03" cy="1485.35" r="7.7" fill="#999999"/>
<circle cx="466.58" cy="1455.49" r="7.7" fill="#999999"/>
<circle cx="411.71" cy="1483.57" r="7.7" fill="#999999"/>
<circle cx="365.1" cy="1448.13" r="7.7" fill="#999999"/>
<circle cx="405.27" cy="1476.29" r="7.7" fill="#999999"/>
<circle cx="297.65" cy="1345.07" r="7.7" fill="#999999"/>
<circle cx="464.01" cy="1462.45" r="7.7" fill="#999999"/>
<circle cx="453.14" cy="1470.78" r="7.7" fill="#999999"/>
<circle cx="367.3" cy="1443.08" r="7.7" fill="#999999"/>
<circle cx="457.73" cy="1465.12" r="7.7" fill="#999999"/>
<circle cx="347.54" cy="1427.84" r="7.7" fill="#999999"/>
<circle cx="454.3" cy="1466.69" r="7.7" fill="#999999"/>
<circle cx="358.46" cy="1438.27" r="7.7" fill="#999999"/>
<circle cx="385.71" cy="1464.07" r="7.7" fill="#999999"/>
<circle cx="435.78" cy="1480.54" r="7.7" fill="#999999"/>
<circle cx="417.94" cy="1486.35" r="7.7" fill="#999999"/>
<circle cx="517.87" cy="1392.74" r="7.7" fill="#999999"/>
<circle cx="557.4" cy="1342.09" r="7.7" fill="#999999"/>
<circle cx="426.66" cy="1484.9" r="7.7" fill="#999999"/>
<circle cx="411.56" cy="1483.31" r="7.7" fill="#999999"/>
<circle cx="392.72" cy="1470.54" r="7.7" fill="#999999"/>
<circle cx="422.8" cy="1487.72" r="7.7" fill="#999999"/>
<circle cx="283.63" cy="1336.89" r="7.7" fill="#999999"/>
<circle cx="356.54" cy="1426.46" r="7.7" fill="#999999"/>
<circle cx="386.91" cy="1465.25" r="7.7" fill="#999999"/>
<circle cx="493.61" cy="1431.84" r="7.7" fill="#999999"/>
<circle cx="459.28" cy="1467.51" r="7.7" fill="#999999"/>
<circle cx="532.01" cy="1376.18" r="7.7" fill="#999999"/>
<circle cx="465" cy="1458.37" r="7.7" fill="#999999"/>
<circle cx="390.99" cy="1465.48" r="7.7" fill="#999999"/>
<circle cx="295.12" cy="1351.39" r="7.7" fill="#999999"/>
<circle cx="446.06" cy="1474.69" r="7.7" fill="#999999"/>
<circle cx="439.34" cy="1478.24" r="7.7" fill="#999999"/>
<circle cx="455.18" cy="1466.71" r="7.7" fill="#999999"/>
<circle cx="448.77" cy="1473.39" r="7.7" fill="#999999"/>
<circle cx="363.97" cy="1443.57" r="7.7" fill="#999999"/>
<circle cx="383.19" cy="1461.21" r="7.7" fill="#999999"/>
<circle cx="415.96" cy="1486.03" r="7.7" fill="#999999"/>
<circle cx="367.9" cy="1448.71" r="7.7" fill="#999999"/>
<circle cx="527" cy="1360.65" r="7.7" fill="#999999"/>
<circle cx="301.59" cy="1367.38" r="7.7" fill="#999999"/>
<circle cx="529.89" cy="1369.76" r="7.7" fill="#999999"/>
<circle cx="469" cy="1460.22" r="7.7" fill="#999999"/>
<circle cx="409.39" cy="1482.35" r="7.7" fill="#999999"/>
<circle cx="472.29" cy="1455.17" r="7.7" fill="#999999"/>
<circle cx="485.87" cy="1440.78" r="7.7" fill="#999999"/>
<circle cx="371.05" cy="1451.89" r="7.7" fill="#999999"/>
<circle cx="331.32" cy="1404.71" r="7.7" fill="#999999"/>
<circle cx="493.04" cy="1427.27" r="7.7" fill="#999999"/>
<circle cx="385.49" cy="1462.71" r="7.7" fill="#999999"/>
<circle cx="330.17" cy="1390.79" r="7.7" fill="#999999"/>
<circle cx="488.65" cy="1428.86" r="7.7" fill="#999999"/>
<circle cx="483.95" cy="1431.53" r="7.7" fill="#999999"/>
<circle cx="521.64" cy="1379" r="7.7" fill="#999999"/>
<circle cx="558.3" cy="1336.21" r="7.7" fill="#999999"/>
<circle cx="405.11" cy="1475.21" r="7.7" fill="#999999"/>
<circle cx="433.9" cy="1479.35" r="7.7" fill="#999999"/>
<circle cx="394" cy="1467.71" r="7.7" fill="#999999"/>
<circle cx="289.55" cy="1340.59" r="7.7" fill="#999999"/>
<circle cx="409.3" cy="1480.54" r="7.7" fill="#999999"/>
<circle cx="489.42" cy="1430.47" r="7.7" fill="#999999"/>
<circle cx="459.07" cy="1463.32" r="7.7" fill="#999999"/>
<circle cx="502.03" cy="1410.05" r="7.7" fill="#999999"/>
<circle cx="558.61" cy="1334.19" r="7.7" fill="#999999"/>
<circle cx="547.95" cy="1349.4" r="7.7" fill="#999999"/>
<circle cx="470.19" cy="1457.92" r="7.7" fill="#999999"/>
<circle cx="468.06" cy="1456.15" r="7.7" fill="#999999"/>
<circle cx="450.37" cy="1468.75" r="7.7" fill="#999999"/>
<circle cx="485.18" cy="1435.12" r="7.7" fill="#999999"/>
<circle cx="343.25" cy="1406.08" r="7.7" fill="#999999"/>
<circle cx="472.14" cy="1449.41" r="7.7" fill="#999999"/>
<circle cx="300.71" cy="1340.99" r="7.7" fill="#999999"/>
<circle cx="356.03" cy="1430.32" r="7.7" fill="#999999"/>
<circle cx="382.33" cy="1460.18" r="7.7" fill="#999999"/>
<circle cx="353.23" cy="1429.19" r="7.7" fill="#999999"/>
<circle cx="439.55" cy="1474.72" r="7.7" fill="#999999"/>
<circle cx="490.62" cy="1422.12" r="7.7" fill="#999999"/>
<circle cx="524.34" cy="1386.03" r="7.7" fill="#999999"/>
<circle cx="396.82" cy="1471.02" r="7.7" fill="#999999"/>
<circle cx="468.84" cy="1455.29" r="7.7" fill="#999999"/>
<circle cx="447.37" cy="1473.75" r="7.7" fill="#999999"/>
<circle cx="489.32" cy="1436.75" r="7.7" fill="#999999"/>
<circle cx="397.97" cy="1474.19" r="7.7" fill="#999999"/>
<circle cx="401.68" cy="1473.16" r="7.7" fill="#999999"/>
<circle cx="486.74" cy="1431.54" r="7.7" fill="#999999"/>
<circle cx="349.38" cy="1420.12" r="7.7" fill="#999999"/>
<circle cx="294.41" cy="1344.8" r="7.7" fill="#999999"/>
<circle cx="389.83" cy="1468.2" r="7.7" fill="#999999"/>
<circle cx="400.79" cy="1473.38" r="7.7" fill="#999999"/>
<circle cx="412.09" cy="1482.27" r="7.7" fill="#999999"/>
<circle cx="478.95" cy="1443.81" r="7.7" fill="#999999"/>
<circle cx="507.12" cy="1402.98" r="7.7" fill="#999999"/>
<circle cx="450.96" cy="1470.68" r="7.7" fill="#999999"/>
<circle cx="346.91" cy="1426.58" r="7.7" fill="#999999"/>
<circle cx="438.67" cy="1478.48" r="7.7" fill="#999999"/>
<circle cx="383" cy="1459.79" r="7.7" fill="#999999"/>
<circle cx="547.25" cy="1351.18" r="7.7" fill="#999999"/>
<circle cx="450.68" cy="1470.9" r="7.7" fill="#999999"/>
<circle cx="414.4" cy="1483.77" r="7.7" fill="#999999"/>
<circle cx="348.09" cy="1428.28" r="7.7" fill="#999999"/>
<circle cx="464.51" cy="1456.8" r="7.7" fill="#999999"/>
<circle cx="442.31" cy="1476.28" r="7.7" fill="#999999"/>
<circle cx="430.49" cy="1482.53" r="7.7" fill="#999999"/>
<circle cx="372.11" cy="1450.35" r="7.7" fill="#999999"/>
<circle cx="517.51" cy="1386.95" r="7.7" fill="#999999"/>
<circle cx="481.4" cy="1434.28" r="7.7" fill="#999999"/>
<circle cx="479.2" cy="1441.42" r="7.7" fill="#999999"/>
<circle cx="410.08" cy="1479.25" r="7.7" fill="#999999"/>
<circle cx="391.57" cy="1467.6" r="7.7" fill="#999999"/>
<circle cx="434.2" cy="1481.29" r="7.7" fill="#999999"/>
<circle cx="507.41" cy="1409.64" r="7.7" fill="#999999"/>
<circle cx="462.11" cy="1457.05" r="7.7" fill="#999999"/>
<circle cx="420.84" cy="1487.1" r="7.7" fill="#999999"/>
<circle cx="400.93" cy="1473.16" r="7.7" fill="#999999"/>
<circle cx="362.59" cy="1439.08" r="7.7" fill="#999999"/>
<circle cx="469.04" cy="1454.39" r="7.7" fill="#999999"/>
<circle cx="409.72" cy="1481.02" r="7.7" fill="#999999"/>
<circle cx="368.01" cy="1446.87" r="7.7" fill="#999999"/>
<circle cx="331.36" cy="1406.2" r="7.7" fill="#999999"/>
<circle cx="341.4" cy="1406.37" r="7.7" fill="#999999"/>
<circle cx="458.13" cy="1461.05" r="7.7" fill="#999999"/>
<circle cx="523.64" cy="1375.47" r="7.7" fill="#999999"/>
<circle cx="486.76" cy="1429.96" r="7.7" fill="#999999"/>
<circle cx="464.84" cy="1459.28" r="7.7" fill="#999999"/>
<circle cx="460.91" cy="1460.57" r="7.7" fill="#999999"/>
<circle cx="351.5" cy="1434.55" r="7.7" fill="#999999"/>
<circle cx="513.53" cy="1399.75" r="7.7" fill="#999999"/>
<circle cx="452.48" cy="1471.19" r="7.7" fill="#999999"/>
<circle cx="444.5" cy="1473.11" r="7.7" fill="#999999"/>
<circle cx="464.95" cy="1463.29" r="7.7" fill="#999999"/>
<circle cx="375.18" cy="1452.88" r="7.7" fill="#999999"/>
<circle cx="417.12" cy="1486.5" r="7.7" fill="#999999"/>
<circle cx="436.46" cy="1477.01" r="7.7" fill="#999999"/>
<circle cx="366.4" cy="1448.67" r="7.7" fill="#999999"/>
<circle cx="470.91" cy="1453.85" r="7.7" fill="#999999"/>
<circle cx="501.16" cy="1417.45" r="7.7" fill="#999999"/>
<circle cx="448.88" cy="1468.08" r="7.7" fill="#999999"/>
<circle cx="292.75" cy="1350.93" r="7.7" fill="#999999"/>
<circle cx="440.36" cy="1476.86" r="7.7" fill="#999999"/>
<circle cx="387.19" cy="1464.25" r="7.7" fill="#999999"/>
<circle cx="456.78" cy="1463.23" r="7.7" fill="#999999"/>
<circle cx="344.93" cy="1426.62" r="7.7" fill="#999999"/>
<circle cx="423.99" cy="1486.43" r="7.7" fill="#999999"/>
<circle cx="419.67" cy="1486.96" r="7.7" fill="#999999"/>
<circle cx="487.09" cy="1438.4" r="7.7" fill="#999999"/>
<circle cx="429.97" cy="1483.31" r="7.7" fill="#999999"/>
<circle cx="479.21" cy="1444.83" r="7.7" fill="#999999"/>
<circle cx="496.01" cy="1417.09" r="7.7" fill="#999999"/>
<circle cx="393.39" cy="1470.05" r="7.7" fill="#999999"/>
<circle cx="401.31" cy="1474.84" r="7.7" fill="#999999"/>
<circle cx="317.51" cy="1362.96" r="7.7" fill="#999999"/>
<circle cx="513.1" cy="1395.86" r="7.7" fill="#999999"/>
<circle cx="471.87" cy="1446.29" r="7.7" fill="#999999"/>
<circle cx="428.55" cy="1484.73" r="7.7" fill="#999999"/>
<circle cx="517.68" cy="1390.24" r="7.7" fill="#999999"/>
<circle cx="351.27" cy="1430.66" r="7.7" fill="#999999"/>
<circle cx="461.31" cy="1460.75" r="7.7" fill="#999999"/>
<circle cx="485.5" cy="1431.07" r="7.7" fill="#999999"/>
<circle cx="401.93" cy="1473.49" r="7.7" fill="#999999"/>
<circle cx="321.18" cy="1376.47" r="7.7" fill="#999999"/>
<circle cx="377.41" cy="1460.11" r="7.7" fill="#999999"/>
<circle cx="395.09" cy="1468.71" r="7.7" fill="#999999"/>
<circle cx="388.59" cy="1466.22" r="7.7" fill="#999999"/>
<circle cx="504.31" cy="1401.18" r="7.7" fill="#999999"/>
<circle cx="476.72" cy="1443.87" r="7.7" fill="#999999"/>
<circle cx="440.38" cy="1474.24" r="7.7" fill="#999999"/>
<circle cx="447.96" cy="1469.56" r="7.7" fill="#999999"/>
<circle cx="510.83" cy="1406.74" r="7.7" fill="#999999"/>
<circle cx="404.74" cy="1477.51" r="7.7" fill="#999999"/>
<circle cx="548.39" cy="1339.27" r="7.7" fill="#999999"/>
<circle cx="415.32" cy="1485.11" r="7.7" fill="#999999"/>
<circle cx="454.9" cy="1467.3" r="7.7" fill="#999999"/>
<circle cx="492.24" cy="1427.92" r="7.7" fill="#999999"/>
<circle cx="434.82" cy="1479.13" r="7.7" fill="#999999"/>
<circle cx="317.96" cy="1369.02" r="7.7" fill="#999999"/>
<circle cx="400.79" cy="1474.03" r="7.7" fill="#999999"/>
<circle cx="428.92" cy="1484.61" r="7.7" fill="#999999"/>
<circle cx="428.29" cy="1485.1" r="7.7" fill="#999999"/>
<circle cx="349.53" cy="1432.49" r="7.7" fill="#999999"/>
<circle cx="384.56" cy="1463.47" r="7.7" fill="#999999"/>
<circle cx="497.12" cy="1423.41" r="7.7" fill="#999999"/>
<circle cx="396.96" cy="1474.35" r="7.7" fill="#999999"/>
<circle cx="263.16" cy="1351.95" r="7.7" fill="#999999"/>
<circle cx="307.15" cy="1410.45" r="7.7" fill="#999999"/>
<circle cx="298.22" cy="1393.2" r="7.7" fill="#999999"/>
<circle cx="558.33" cy="1374.45" r="7.7" fill="#999999"/>
<circle cx="574.9" cy="1335.45" r="7.7" fill="#999999"/>
<circle cx="279.1" cy="1335.45" r="7.7" fill="#999999"/>
<circle cx="288.02" cy="1334.7" r="7.7" fill="#999999"/>
<circle cx="562.15" cy="1335.45" r="7.7" fill="#999999"/>
<circle cx="568.52" cy="1334.7" r="7.7" fill="#999999"/>
<circle cx="543.02" cy="1334.7" r="7.7" fill="#999999"/>
<circle cx="303.32" cy="1334.7" r="7.7" fill="#999999"/>
<circle cx="294.4" cy="1333.95" r="7.7" fill="#999999"/>
<circle cx="551.95" cy="1333.95" r="7.7" fill="#999999"/>
<circle cx="290.57" cy="1357.95" r="7.7" fill="#999999"/>
<rect x="95.6" y="918.6" width="630" height="597.2" fill="none" stroke="#333333" stroke-width="2.1"/>
<line x1="85.8" y1="1489.2" x2="94.5" y2="1489.2" stroke="#333333" stroke-width="3.6"/>
<text class="ls" x="59.7" y="1500.9" font-size="33.5" textLength="17.6" lengthAdjust="spacingAndGlyphs">0</text>
<line x1="85.8" y1="1339.2" x2="94.5" y2="1339.2" stroke="#333333" stroke-width="3.6"/>
<text class="ls" x="59.7" y="1350.9" font-size="33.5" textLength="17.6" lengthAdjust="spacingAndGlyphs">2</text>
<line x1="85.8" y1="1189.2" x2="94.5" y2="1189.2" stroke="#333333" stroke-width="3.6"/>
<text class="ls" x="59.7" y="1200.9" font-size="33.5" textLength="17.6" lengthAdjust="spacingAndGlyphs">4</text>
<line x1="85.8" y1="1039.2" x2="94.5" y2="1039.2" stroke="#333333" stroke-width="3.6"/>
<text class="ls" x="59.7" y="1050.9" font-size="33.5" textLength="17.6" lengthAdjust="spacingAndGlyphs">6</text>
<line x1="166.9" y1="1516.9" x2="166.9" y2="1525.6" stroke="#333333" stroke-width="3.6"/>
<text class="ls" x="148.35" y="1558.6" font-size="33.5" textLength="39.5" lengthAdjust="spacingAndGlyphs">−2</text>
<line x1="294.4" y1="1516.9" x2="294.4" y2="1525.6" stroke="#333333" stroke-width="3.6"/>
<text class="ls" x="275.85" y="1558.6" font-size="33.5" textLength="39.5" lengthAdjust="spacingAndGlyphs">−1</text>
<line x1="421.9" y1="1516.9" x2="421.9" y2="1525.6" stroke="#333333" stroke-width="3.6"/>
<text class="ls" x="413.1" y="1558.6" font-size="33.5" textLength="17.6" lengthAdjust="spacingAndGlyphs">0</text>
<line x1="549.4" y1="1516.9" x2="549.4" y2="1525.6" stroke="#333333" stroke-width="3.6"/>
<text class="ls" x="540.6" y="1558.6" font-size="33.5" textLength="17.6" lengthAdjust="spacingAndGlyphs">1</text>
<line x1="676.9" y1="1516.9" x2="676.9" y2="1525.6" stroke="#333333" stroke-width="3.6"/>
<text class="ls" x="668.1" y="1558.6" font-size="33.5" textLength="17.6" lengthAdjust="spacingAndGlyphs">2</text>
<text class="lsb" x="295" y="1599" font-size="31.03" textLength="246.5" lengthAdjust="spacingAndGlyphs">log2 fold change</text>
<text class="lsb" font-size="30.5" textLength="214" lengthAdjust="spacingAndGlyphs" transform="translate(45 1344) rotate(-90)">-log10(p-value)</text>
<line x1="237.9" y1="1031.4" x2="182.4" y2="1086.7" stroke="#000000" stroke-width="3" stroke-linecap="round"/>
<line x1="185.5" y1="1100.5" x2="214.5" y2="1107.5" stroke="#000000" stroke-width="3" stroke-linecap="round"/>
<line x1="207.7" y1="1131.9" x2="287.7" y2="1153.4" stroke="#000000" stroke-width="3" stroke-linecap="round"/>
<line x1="187.8" y1="1150" x2="202.8" y2="1182.3" stroke="#000000" stroke-width="3" stroke-linecap="round"/>
<line x1="503.5" y1="1246.8" x2="557.6" y2="1301" stroke="#000000" stroke-width="3" stroke-linecap="round"/>
<line x1="526.3" y1="1304.8" x2="552.6" y2="1310.7" stroke="#000000" stroke-width="3" stroke-linecap="round"/>
<line x1="507.9" y1="1343.4" x2="550.9" y2="1315" stroke="#000000" stroke-width="3" stroke-linecap="round"/>
<text class="ls" x="135.8" y="957" font-size="27.74" textLength="168.6" lengthAdjust="spacingAndGlyphs">LysoPC(15:0)</text>
<text class="ls" x="104.6" y="1008.7" font-size="27.66" textLength="168.1" lengthAdjust="spacingAndGlyphs">LysoPC(14:0)</text>
<text class="ls" x="260.9" y="1040.2" font-size="27.85" textLength="322.9" lengthAdjust="spacingAndGlyphs">Sphingosine 1−phosphate</text>
<text class="ls" x="168" y="1072.8" font-size="27.7" textLength="168.3" lengthAdjust="spacingAndGlyphs">LysoPC(17:0)</text>
<text class="ls" x="216" y="1118.8" font-size="27.73" textLength="168.5" lengthAdjust="spacingAndGlyphs">LysoPC(16:1)</text>
<text class="ls" x="290.5" y="1164.8" font-size="27.73" textLength="168.5" lengthAdjust="spacingAndGlyphs">LysoPC(18:0)</text>
<text class="ls" x="103.2" y="1210.8" font-size="27.7" textLength="168.3" lengthAdjust="spacingAndGlyphs">LysoPC(16:0)</text>
<text class="ls" x="608.3" y="1029.9" font-size="27.44" textLength="88.5" lengthAdjust="spacingAndGlyphs">Inosine</text>
<text class="ls" x="642.4" y="1165.8" font-size="26.76" textLength="56.5" lengthAdjust="spacingAndGlyphs">UDP</text>
<text class="ls" x="590.4" y="1240.8" font-size="27.66" textLength="109.2" lengthAdjust="spacingAndGlyphs">Xanthine</text>
<text class="ls" x="264" y="1243.7" font-size="27.79" textLength="296.5" lengthAdjust="spacingAndGlyphs">GlcCer (d42:1) [M+Na]+</text>
<text class="ls" x="254.6" y="1300.3" font-size="27.79" textLength="281.1" lengthAdjust="spacingAndGlyphs">GlcCer (d42:1) [M+H]+</text>
<text class="ls" x="319.6" y="1359.3" font-size="28.92" textLength="189.7" lengthAdjust="spacingAndGlyphs">Protoporphyrin</text>
<text class="ls" x="108.2" y="1313.7" font-size="27.34" textLength="103.3" lengthAdjust="spacingAndGlyphs">FDR 5%</text>
<text class="ls" x="105.9" y="1502.9" font-size="24.02" textLength="104.1" lengthAdjust="spacingAndGlyphs">Pre-Flight</text>
<text class="ls" x="464.8" y="1502.8" font-size="24.38" textLength="254.7" lengthAdjust="spacingAndGlyphs">Immediately Post-Flight</text>
</g>
<g id="panel-c">
<text class="lsb" x="778" y="861" font-size="43">c.</text>
<text class="lsb" x="983" y="885" font-size="32.56" textLength="289.5" lengthAdjust="spacingAndGlyphs">Purine Metabolism</text>
<text class="lsb" x="1460.7" y="886.1" font-size="32.67" textLength="515.5" lengthAdjust="spacingAndGlyphs">Glycerophospholipid Metabolism</text>
<text class="lsb" x="1066" y="1449.8" font-size="32.31" textLength="249.6" lengthAdjust="spacingAndGlyphs">Anemia Markers</text>
<text class="lsb" font-size="25.7" textLength="277.5" lengthAdjust="spacingAndGlyphs" transform="translate(797 1295) rotate(-90)">Metabolite Abundance</text>
<text class="lsb" font-size="25.7" textLength="277.5" lengthAdjust="spacingAndGlyphs" transform="translate(1408.5 1284) rotate(-90)">Metabolite Abundance</text>
<text class="lsb" font-size="25.7" text-anchor="middle" transform="translate(840.5 1585) rotate(-90)">Metabolite</text>
<text class="lsb" font-size="25.7" text-anchor="middle" transform="translate(872.5 1585) rotate(-90)">Abundance</text>
<rect x="846.2" y="906.8" width="219.2" height="33" fill="#d9d9d9" stroke="#262626" stroke-width="2.4"/>
<text class="ls" x="910.8" y="931.9" font-size="24.84" textLength="90" lengthAdjust="spacingAndGlyphs">Inosine</text>
<line x1="882.7" y1="1098.3" x2="882.7" y2="1094.9" stroke="#6f7476" stroke-width="1.1"/>
<line x1="868.2" y1="1094.9" x2="897.2" y2="1094.9" stroke="#6f7476" stroke-width="1.1"/>
<rect x="853.7" y="1098.3" width="58" height="6" fill="#74b7d3" stroke="#6f7476" stroke-width="1.2"/>
<line x1="853.7" y1="1100.6" x2="911.7" y2="1100.6" stroke="#6f7476" stroke-width="1.2"/>
<line x1="955.55" y1="950.6" x2="955.55" y2="948.8" stroke="#6f7476" stroke-width="1.1"/>
<line x1="941.05" y1="948.8" x2="970.05" y2="948.8" stroke="#6f7476" stroke-width="1.1"/>
<line x1="955.55" y1="986.2" x2="955.55" y2="1015.8" stroke="#6f7476" stroke-width="1.1"/>
<line x1="941.05" y1="1015.8" x2="970.05" y2="1015.8" stroke="#6f7476" stroke-width="1.1"/>
<rect x="926.7" y="950.6" width="57.7" height="35.6" fill="#d12f36" stroke="#6f7476" stroke-width="1.2"/>
<line x1="926.7" y1="963.8" x2="984.4" y2="963.8" stroke="#6f7476" stroke-width="1.2"/>
<line x1="1027.7" y1="1098.6" x2="1027.7" y2="1080.3" stroke="#6f7476" stroke-width="1.1"/>
<line x1="1013.2" y1="1080.3" x2="1042.2" y2="1080.3" stroke="#6f7476" stroke-width="1.1"/>
<line x1="1027.7" y1="1111" x2="1027.7" y2="1119.6" stroke="#6f7476" stroke-width="1.1"/>
<line x1="1013.2" y1="1119.6" x2="1042.2" y2="1119.6" stroke="#6f7476" stroke-width="1.1"/>
<rect x="998.7" y="1098.6" width="58" height="12.4" fill="#457fb0" stroke="#6f7476" stroke-width="1.2"/>
<line x1="998.7" y1="1106.1" x2="1056.7" y2="1106.1" stroke="#6f7476" stroke-width="1.2"/>
<path d="M882.5 1107.6 l3.6 9.4 l-3.6 9.4 l-3.6 -9.4 Z" fill="#4d4d4d"/>
<ellipse cx="864.9" cy="1099" rx="8.3" ry="7.1" fill="#cf88ab"/>
<ellipse cx="899.4" cy="1094.9" rx="8.3" ry="7.1" fill="#7f5fae"/>
<ellipse cx="882.5" cy="1117" rx="8.3" ry="7.1" fill="#8e5a1f"/>
<ellipse cx="882.5" cy="1099.8" rx="8.3" ry="7.1" fill="#c9a25b"/>
<ellipse cx="938" cy="948.8" rx="8.3" ry="7.1" fill="#7f5fae"/>
<ellipse cx="954.8" cy="951" rx="8.3" ry="7.1" fill="#c9a25b"/>
<ellipse cx="954.8" cy="976.1" rx="8.3" ry="7.1" fill="#cf88ab"/>
<ellipse cx="954.8" cy="1015.8" rx="8.3" ry="7.1" fill="#8e5a1f"/>
<ellipse cx="1027.1" cy="1080.3" rx="8.3" ry="7.1" fill="#8e5a1f"/>
<ellipse cx="1015.5" cy="1108" rx="8.3" ry="7.1" fill="#7f5fae"/>
<ellipse cx="1032.8" cy="1105.4" rx="8.3" ry="7.1" fill="#c9a25b"/>
<ellipse cx="1027.1" cy="1119.6" rx="8.3" ry="7.1" fill="#cf88ab"/>
<rect x="847.4" y="939.8" width="216.8" height="188.5" fill="none" stroke="#1c1c1c" stroke-width="2.5"/>
<line x1="839" y1="995.3" x2="846.4" y2="995.3" stroke="#1c1c1c" stroke-width="2.4"/>
<text class="dv" x="817.94" y="1002.4" font-size="19.5" textLength="13.46" lengthAdjust="spacingAndGlyphs">1</text>
<line x1="839" y1="1059.2" x2="846.4" y2="1059.2" stroke="#1c1c1c" stroke-width="2.4"/>
<text class="dv" x="817.94" y="1066.3" font-size="19.5" textLength="13.46" lengthAdjust="spacingAndGlyphs">0</text>
<line x1="839" y1="1123.4" x2="846.4" y2="1123.4" stroke="#1c1c1c" stroke-width="2.4"/>
<text class="dv" x="800.21" y="1130.5" font-size="19.5" textLength="31.19" lengthAdjust="spacingAndGlyphs">−1</text>
<line x1="882.5" y1="1129.3" x2="882.5" y2="1135.3" stroke="#1c1c1c" stroke-width="2.4"/>
<line x1="954.8" y1="1129.3" x2="954.8" y2="1135.3" stroke="#1c1c1c" stroke-width="2.4"/>
<line x1="1027.1" y1="1129.3" x2="1027.1" y2="1135.3" stroke="#1c1c1c" stroke-width="2.4"/>
<rect x="1142.2" y="906.8" width="219.1" height="33" fill="#d9d9d9" stroke="#262626" stroke-width="2.4"/>
<text class="ls" x="1176.75" y="931.9" font-size="21.83" textLength="150" lengthAdjust="spacingAndGlyphs">Hypoxanthine</text>
<line x1="1179.1" y1="1098.6" x2="1179.1" y2="1083.3" stroke="#6f7476" stroke-width="1.1"/>
<line x1="1164.6" y1="1083.3" x2="1193.6" y2="1083.3" stroke="#6f7476" stroke-width="1.1"/>
<line x1="1179.1" y1="1112.1" x2="1179.1" y2="1119.2" stroke="#6f7476" stroke-width="1.1"/>
<line x1="1164.6" y1="1119.2" x2="1193.6" y2="1119.2" stroke="#6f7476" stroke-width="1.1"/>
<rect x="1149.7" y="1098.6" width="58.8" height="13.5" fill="#74b7d3" stroke="#6f7476" stroke-width="1.2"/>
<line x1="1149.7" y1="1106.5" x2="1208.5" y2="1106.5" stroke="#6f7476" stroke-width="1.2"/>
<line x1="1251.75" y1="951.4" x2="1251.75" y2="948.8" stroke="#6f7476" stroke-width="1.1"/>
<line x1="1237.25" y1="948.8" x2="1266.25" y2="948.8" stroke="#6f7476" stroke-width="1.1"/>
<line x1="1251.75" y1="962.3" x2="1251.75" y2="976.9" stroke="#6f7476" stroke-width="1.1"/>
<line x1="1237.25" y1="976.9" x2="1266.25" y2="976.9" stroke="#6f7476" stroke-width="1.1"/>
<rect x="1222.7" y="951.4" width="58.1" height="10.9" fill="#d12f36" stroke="#6f7476" stroke-width="1.2"/>
<line x1="1222.7" y1="956.3" x2="1280.8" y2="956.3" stroke="#6f7476" stroke-width="1.2"/>
<line x1="1323.7" y1="1045.4" x2="1323.7" y2="1036.4" stroke="#6f7476" stroke-width="1.1"/>
<line x1="1309.2" y1="1036.4" x2="1338.2" y2="1036.4" stroke="#6f7476" stroke-width="1.1"/>
<line x1="1323.7" y1="1071.7" x2="1323.7" y2="1074.3" stroke="#6f7476" stroke-width="1.1"/>
<line x1="1309.2" y1="1074.3" x2="1338.2" y2="1074.3" stroke="#6f7476" stroke-width="1.1"/>
<rect x="1294.7" y="1045.4" width="58" height="26.3" fill="#457fb0" stroke="#6f7476" stroke-width="1.2"/>
<line x1="1294.7" y1="1059.3" x2="1352.7" y2="1059.3" stroke="#6f7476" stroke-width="1.2"/>
<ellipse cx="1178.9" cy="1083.3" rx="8.3" ry="7.1" fill="#cf88ab"/>
<ellipse cx="1165.8" cy="1109.1" rx="8.3" ry="7.1" fill="#8e5a1f"/>
<ellipse cx="1182.6" cy="1104.3" rx="8.3" ry="7.1" fill="#c9a25b"/>
<ellipse cx="1178.9" cy="1119.2" rx="8.3" ry="7.1" fill="#7f5fae"/>
<ellipse cx="1234.7" cy="952.5" rx="8.3" ry="7.1" fill="#c9a25b"/>
<ellipse cx="1265.1" cy="948.8" rx="8.3" ry="7.1" fill="#7f5fae"/>
<ellipse cx="1251.2" cy="958.1" rx="8.3" ry="7.1" fill="#cf88ab"/>
<ellipse cx="1251.2" cy="976.9" rx="8.3" ry="7.1" fill="#8e5a1f"/>
<ellipse cx="1311.9" cy="1036.4" rx="8.3" ry="7.1" fill="#c9a25b"/>
<ellipse cx="1323.5" cy="1048.1" rx="8.3" ry="7.1" fill="#cf88ab"/>
<ellipse cx="1306.3" cy="1070.9" rx="8.3" ry="7.1" fill="#8e5a1f"/>
<ellipse cx="1323.5" cy="1074.3" rx="8.3" ry="7.1" fill="#7f5fae"/>
<rect x="1143.4" y="939.8" width="216.7" height="188.5" fill="none" stroke="#1c1c1c" stroke-width="2.5"/>
<line x1="1135" y1="978" x2="1142.4" y2="978" stroke="#1c1c1c" stroke-width="2.4"/>
<text class="dv" x="1115.54" y="985.1" font-size="19.5" textLength="13.46" lengthAdjust="spacingAndGlyphs">1</text>
<line x1="1135" y1="1039.8" x2="1142.4" y2="1039.8" stroke="#1c1c1c" stroke-width="2.4"/>
<text class="dv" x="1115.54" y="1046.9" font-size="19.5" textLength="13.46" lengthAdjust="spacingAndGlyphs">0</text>
<line x1="1135" y1="1101.6" x2="1142.4" y2="1101.6" stroke="#1c1c1c" stroke-width="2.4"/>
<text class="dv" x="1097.81" y="1108.7" font-size="19.5" textLength="31.19" lengthAdjust="spacingAndGlyphs">−1</text>
<line x1="1178.9" y1="1129.3" x2="1178.9" y2="1135.3" stroke="#1c1c1c" stroke-width="2.4"/>
<line x1="1251.2" y1="1129.3" x2="1251.2" y2="1135.3" stroke="#1c1c1c" stroke-width="2.4"/>
<line x1="1323.5" y1="1129.3" x2="1323.5" y2="1135.3" stroke="#1c1c1c" stroke-width="2.4"/>
<rect x="1457.2" y="909.3" width="222" height="32.9" fill="#d9d9d9" stroke="#262626" stroke-width="2.4"/>
<text class="ls" x="1484.2" y="934.35" font-size="24.6" textLength="168" lengthAdjust="spacingAndGlyphs">LysoPC(15:0)</text>
<line x1="1495.2" y1="958.4" x2="1495.2" y2="963.3" stroke="#6f7476" stroke-width="1.1"/>
<line x1="1480.7" y1="963.3" x2="1509.7" y2="963.3" stroke="#6f7476" stroke-width="1.1"/>
<rect x="1465.9" y="952.4" width="58.6" height="6" fill="#74b7d3" stroke="#6f7476" stroke-width="1.2"/>
<line x1="1465.9" y1="955" x2="1524.5" y2="955" stroke="#6f7476" stroke-width="1.2"/>
<line x1="1568.15" y1="1079" x2="1568.15" y2="1078" stroke="#6f7476" stroke-width="1.1"/>
<line x1="1553.65" y1="1078" x2="1582.65" y2="1078" stroke="#6f7476" stroke-width="1.1"/>
<rect x="1538.9" y="1079" width="58.5" height="16.8" fill="#d12f36" stroke="#6f7476" stroke-width="1.2"/>
<line x1="1538.9" y1="1083.2" x2="1597.4" y2="1083.2" stroke="#6f7476" stroke-width="1.2"/>
<line x1="1641.1" y1="1010.6" x2="1641.1" y2="1015.9" stroke="#6f7476" stroke-width="1.1"/>
<line x1="1626.6" y1="1015.9" x2="1655.6" y2="1015.9" stroke="#6f7476" stroke-width="1.1"/>
<rect x="1611.8" y="1003.2" width="58.6" height="7.4" fill="#457fb0" stroke="#6f7476" stroke-width="1.2"/>
<line x1="1611.8" y1="1007.5" x2="1670.4" y2="1007.5" stroke="#6f7476" stroke-width="1.2"/>
<path d="M1568.3 1112.7 l3.6 9.4 l-3.6 9.4 l-3.6 -9.4 Z" fill="#4d4d4d"/>
<path d="M1641.3 981.2 l3.6 9.4 l-3.6 9.4 l-3.6 -9.4 Z" fill="#4d4d4d"/>
<ellipse cx="1478.9" cy="957" rx="8.3" ry="7.1" fill="#8e5a1f"/>
<ellipse cx="1495" cy="963.3" rx="8.3" ry="7.1" fill="#cf88ab"/>
<ellipse cx="1507.3" cy="952.7" rx="8.3" ry="7.1" fill="#c9a25b"/>
<ellipse cx="1524.1" cy="952" rx="8.3" ry="7.1" fill="#7f5fae"/>
<ellipse cx="1554.3" cy="1078" rx="8.3" ry="7.1" fill="#c9a25b"/>
<ellipse cx="1583.8" cy="1079.7" rx="8.3" ry="7.1" fill="#7f5fae"/>
<ellipse cx="1568.3" cy="1087.1" rx="8.3" ry="7.1" fill="#8e5a1f"/>
<ellipse cx="1568.3" cy="1122.1" rx="8.3" ry="7.1" fill="#cf88ab"/>
<ellipse cx="1641.3" cy="990.6" rx="8.3" ry="7.1" fill="#7f5fae"/>
<ellipse cx="1625.5" cy="1009.2" rx="8.3" ry="7.1" fill="#c9a25b"/>
<ellipse cx="1656.4" cy="1008.2" rx="8.3" ry="7.1" fill="#8e5a1f"/>
<ellipse cx="1641.3" cy="1015.9" rx="8.3" ry="7.1" fill="#cf88ab"/>
<rect x="1458.4" y="942.2" width="219.6" height="188.4" fill="none" stroke="#1c1c1c" stroke-width="2.5"/>
<line x1="1450" y1="960.5" x2="1457.4" y2="960.5" stroke="#1c1c1c" stroke-width="2.4"/>
<text class="dv" x="1430.04" y="967.6" font-size="19.5" textLength="13.46" lengthAdjust="spacingAndGlyphs">1</text>
<line x1="1450" y1="1018" x2="1457.4" y2="1018" stroke="#1c1c1c" stroke-width="2.4"/>
<text class="dv" x="1430.04" y="1025.1" font-size="19.5" textLength="13.46" lengthAdjust="spacingAndGlyphs">0</text>
<line x1="1450" y1="1074.8" x2="1457.4" y2="1074.8" stroke="#1c1c1c" stroke-width="2.4"/>
<text class="dv" x="1412.31" y="1081.9" font-size="19.5" textLength="31.19" lengthAdjust="spacingAndGlyphs">−1</text>
<line x1="1494.7" y1="1131.6" x2="1494.7" y2="1137.6" stroke="#1c1c1c" stroke-width="2.4"/>
<line x1="1568.3" y1="1131.6" x2="1568.3" y2="1137.6" stroke="#1c1c1c" stroke-width="2.4"/>
<line x1="1641.3" y1="1131.6" x2="1641.3" y2="1137.6" stroke="#1c1c1c" stroke-width="2.4"/>
<rect x="1757.7" y="909.3" width="219.9" height="32.9" fill="#d9d9d9" stroke="#262626" stroke-width="2.4"/>
<text class="ls" x="1805.65" y="934.35" font-size="24.51" textLength="124" lengthAdjust="spacingAndGlyphs">Lyso–PAF</text>
<line x1="1794.9" y1="983.3" x2="1794.9" y2="987.5" stroke="#6f7476" stroke-width="1.1"/>
<line x1="1780.4" y1="987.5" x2="1809.4" y2="987.5" stroke="#6f7476" stroke-width="1.1"/>
<rect x="1765.1" y="975.5" width="59.6" height="7.8" fill="#74b7d3" stroke="#6f7476" stroke-width="1.2"/>
<line x1="1765.1" y1="980" x2="1824.7" y2="980" stroke="#6f7476" stroke-width="1.2"/>
<line x1="1868.15" y1="1036.2" x2="1868.15" y2="1027.1" stroke="#6f7476" stroke-width="1.1"/>
<line x1="1853.65" y1="1027.1" x2="1882.65" y2="1027.1" stroke="#6f7476" stroke-width="1.1"/>
<rect x="1838.7" y="1036.2" width="58.9" height="29.8" fill="#d12f36" stroke="#6f7476" stroke-width="1.2"/>
<line x1="1838.7" y1="1043.2" x2="1897.6" y2="1043.2" stroke="#6f7476" stroke-width="1.2"/>
<line x1="1941.3" y1="1042.2" x2="1941.3" y2="1047.4" stroke="#6f7476" stroke-width="1.1"/>
<line x1="1926.8" y1="1047.4" x2="1955.8" y2="1047.4" stroke="#6f7476" stroke-width="1.1"/>
<rect x="1912" y="1016.6" width="58.6" height="25.6" fill="#457fb0" stroke="#6f7476" stroke-width="1.2"/>
<line x1="1912" y1="1039.4" x2="1970.6" y2="1039.4" stroke="#6f7476" stroke-width="1.2"/>
<path d="M1794.9 952.8 l3.6 9.4 l-3.6 9.4 l-3.6 -9.4 Z" fill="#4d4d4d"/>
<path d="M1868.2 1112.7 l3.6 9.4 l-3.6 9.4 l-3.6 -9.4 Z" fill="#4d4d4d"/>
<path d="M1941.1 942.6 l3.6 9.4 l-3.6 9.4 l-3.6 -9.4 Z" fill="#4d4d4d"/>
<ellipse cx="1794.9" cy="962.2" rx="8.3" ry="7.1" fill="#7f5fae"/>
<ellipse cx="1779.1" cy="980.8" rx="8.3" ry="7.1" fill="#c9a25b"/>
<ellipse cx="1794.9" cy="987.5" rx="8.3" ry="7.1" fill="#cf88ab"/>
<ellipse cx="1811" cy="981.5" rx="8.3" ry="7.1" fill="#8e5a1f"/>
<ellipse cx="1868.2" cy="1027.1" rx="8.3" ry="7.1" fill="#7f5fae"/>
<ellipse cx="1853.1" cy="1039.7" rx="8.3" ry="7.1" fill="#8e5a1f"/>
<ellipse cx="1868.2" cy="1047.4" rx="8.3" ry="7.1" fill="#c9a25b"/>
<ellipse cx="1868.2" cy="1122.1" rx="8.3" ry="7.1" fill="#cf88ab"/>
<ellipse cx="1941.1" cy="952" rx="8.3" ry="7.1" fill="#7f5fae"/>
<ellipse cx="1925.3" cy="1040.4" rx="8.3" ry="7.1" fill="#cf88ab"/>
<ellipse cx="1941.1" cy="1047.4" rx="8.3" ry="7.1" fill="#c9a25b"/>
<ellipse cx="1955.2" cy="1037.6" rx="8.3" ry="7.1" fill="#8e5a1f"/>
<rect x="1758.9" y="942.2" width="217.5" height="188.4" fill="none" stroke="#1c1c1c" stroke-width="2.5"/>
<line x1="1750.5" y1="972.7" x2="1757.9" y2="972.7" stroke="#1c1c1c" stroke-width="2.4"/>
<text class="dv" x="1730.04" y="979.8" font-size="19.5" textLength="13.46" lengthAdjust="spacingAndGlyphs">1</text>
<line x1="1750.5" y1="1018.7" x2="1757.9" y2="1018.7" stroke="#1c1c1c" stroke-width="2.4"/>
<text class="dv" x="1730.04" y="1025.8" font-size="19.5" textLength="13.46" lengthAdjust="spacingAndGlyphs">0</text>
<line x1="1750.5" y1="1064.3" x2="1757.9" y2="1064.3" stroke="#1c1c1c" stroke-width="2.4"/>
<text class="dv" x="1712.31" y="1071.4" font-size="19.5" textLength="31.19" lengthAdjust="spacingAndGlyphs">−1</text>
<line x1="1750.5" y1="1110.2" x2="1757.9" y2="1110.2" stroke="#1c1c1c" stroke-width="2.4"/>
<text class="dv" x="1712.31" y="1117.3" font-size="19.5" textLength="31.19" lengthAdjust="spacingAndGlyphs">−2</text>
<line x1="1794.9" y1="1131.6" x2="1794.9" y2="1137.6" stroke="#1c1c1c" stroke-width="2.4"/>
<line x1="1868.2" y1="1131.6" x2="1868.2" y2="1137.6" stroke="#1c1c1c" stroke-width="2.4"/>
<line x1="1941.1" y1="1131.6" x2="1941.1" y2="1137.6" stroke="#1c1c1c" stroke-width="2.4"/>
<rect x="841.1" y="1173.3" width="224.3" height="33.4" fill="#d9d9d9" stroke="#262626" stroke-width="2.4"/>
<text class="ls" x="901.25" y="1198.6" font-size="23.45" textLength="104" lengthAdjust="spacingAndGlyphs">Xanthine</text>
<line x1="879.15" y1="1359.4" x2="879.15" y2="1349.3" stroke="#6f7476" stroke-width="1.1"/>
<line x1="864.65" y1="1349.3" x2="893.65" y2="1349.3" stroke="#6f7476" stroke-width="1.1"/>
<line x1="879.15" y1="1375.9" x2="879.15" y2="1387.9" stroke="#6f7476" stroke-width="1.1"/>
<line x1="864.65" y1="1387.9" x2="893.65" y2="1387.9" stroke="#6f7476" stroke-width="1.1"/>
<rect x="849.2" y="1359.4" width="59.9" height="16.5" fill="#74b7d3" stroke="#6f7476" stroke-width="1.2"/>
<line x1="849.2" y1="1367.3" x2="909.1" y2="1367.3" stroke="#6f7476" stroke-width="1.2"/>
<line x1="953.5" y1="1287.1" x2="953.5" y2="1216.3" stroke="#6f7476" stroke-width="1.1"/>
<line x1="939" y1="1216.3" x2="968" y2="1216.3" stroke="#6f7476" stroke-width="1.1"/>
<line x1="953.5" y1="1335.1" x2="953.5" y2="1340.3" stroke="#6f7476" stroke-width="1.1"/>
<line x1="939" y1="1340.3" x2="968" y2="1340.3" stroke="#6f7476" stroke-width="1.1"/>
<rect x="923.7" y="1287.1" width="59.6" height="48" fill="#d12f36" stroke="#6f7476" stroke-width="1.2"/>
<line x1="923.7" y1="1322.3" x2="983.3" y2="1322.3" stroke="#6f7476" stroke-width="1.2"/>
<line x1="1027.3" y1="1326.5" x2="1027.3" y2="1304" stroke="#6f7476" stroke-width="1.1"/>
<line x1="1012.8" y1="1304" x2="1041.8" y2="1304" stroke="#6f7476" stroke-width="1.1"/>
<line x1="1027.3" y1="1356.4" x2="1027.3" y2="1366.2" stroke="#6f7476" stroke-width="1.1"/>
<line x1="1012.8" y1="1366.2" x2="1041.8" y2="1366.2" stroke="#6f7476" stroke-width="1.1"/>
<rect x="997.5" y="1326.5" width="59.6" height="29.9" fill="#457fb0" stroke="#6f7476" stroke-width="1.2"/>
<line x1="997.5" y1="1343.7" x2="1057.1" y2="1343.7" stroke="#6f7476" stroke-width="1.2"/>
<ellipse cx="879.1" cy="1349.3" rx="8.3" ry="7.1" fill="#8e5a1f"/>
<ellipse cx="865.7" cy="1362.8" rx="8.3" ry="7.1" fill="#cf88ab"/>
<ellipse cx="876.1" cy="1371.8" rx="8.3" ry="7.1" fill="#7f5fae"/>
<ellipse cx="879.1" cy="1387.9" rx="8.3" ry="7.1" fill="#c9a25b"/>
<ellipse cx="953" cy="1216.3" rx="8.3" ry="7.1" fill="#c9a25b"/>
<ellipse cx="953" cy="1310.7" rx="8.3" ry="7.1" fill="#7f5fae"/>
<ellipse cx="950" cy="1340.3" rx="8.3" ry="7.1" fill="#cf88ab"/>
<ellipse cx="953" cy="1333.6" rx="8.3" ry="7.1" fill="#8e5a1f"/>
<ellipse cx="1027.1" cy="1304" rx="8.3" ry="7.1" fill="#c9a25b"/>
<ellipse cx="1027.1" cy="1334" rx="8.3" ry="7.1" fill="#8e5a1f"/>
<ellipse cx="1017.4" cy="1353.4" rx="8.3" ry="7.1" fill="#cf88ab"/>
<ellipse cx="1027.1" cy="1366.2" rx="8.3" ry="7.1" fill="#7f5fae"/>
<rect x="843.1" y="1206.7" width="221.1" height="190.6" fill="none" stroke="#1c1c1c" stroke-width="2.5"/>
<line x1="834.7" y1="1250" x2="842.1" y2="1250" stroke="#1c1c1c" stroke-width="2.4"/>
<text class="dv" x="814.04" y="1257.1" font-size="19.5" textLength="13.46" lengthAdjust="spacingAndGlyphs">2</text>
<line x1="834.7" y1="1293.1" x2="842.1" y2="1293.1" stroke="#1c1c1c" stroke-width="2.4"/>
<text class="dv" x="814.04" y="1300.2" font-size="19.5" textLength="13.46" lengthAdjust="spacingAndGlyphs">1</text>
<line x1="834.7" y1="1335.8" x2="842.1" y2="1335.8" stroke="#1c1c1c" stroke-width="2.4"/>
<text class="dv" x="814.04" y="1342.9" font-size="19.5" textLength="13.46" lengthAdjust="spacingAndGlyphs">0</text>
<line x1="834.7" y1="1378.6" x2="842.1" y2="1378.6" stroke="#1c1c1c" stroke-width="2.4"/>
<text class="dv" x="814.04" y="1385.7" font-size="19.5" textLength="13.46" lengthAdjust="spacingAndGlyphs">1</text>
<text class="dv" x="779.2" y="1385.7" font-size="19.5" textLength="14.6" lengthAdjust="spacingAndGlyphs">−</text>
<line x1="879.1" y1="1398.3" x2="879.1" y2="1404.3" stroke="#1c1c1c" stroke-width="2.4"/>
<line x1="953" y1="1398.3" x2="953" y2="1404.3" stroke="#1c1c1c" stroke-width="2.4"/>
<line x1="1027.1" y1="1398.3" x2="1027.1" y2="1404.3" stroke="#1c1c1c" stroke-width="2.4"/>
<rect x="1144" y="1173.3" width="223" height="33.4" fill="#d9d9d9" stroke="#262626" stroke-width="2.4"/>
<text class="ls" x="1216.5" y="1198.6" font-size="24.01" textLength="78" lengthAdjust="spacingAndGlyphs">Purine</text>
<rect x="1151.5" y="1292.4" width="59.2" height="33.3" fill="#74b7d3" stroke="#6f7476" stroke-width="1.2"/>
<line x1="1151.5" y1="1299.1" x2="1210.7" y2="1299.1" stroke="#6f7476" stroke-width="1.2"/>
<line x1="1254.9" y1="1281.1" x2="1254.9" y2="1292.8" stroke="#6f7476" stroke-width="1.1"/>
<line x1="1240.4" y1="1292.8" x2="1269.4" y2="1292.8" stroke="#6f7476" stroke-width="1.1"/>
<rect x="1225.3" y="1259.8" width="59.2" height="21.3" fill="#d12f36" stroke="#6f7476" stroke-width="1.2"/>
<line x1="1225.3" y1="1274.4" x2="1284.5" y2="1274.4" stroke="#6f7476" stroke-width="1.2"/>
<line x1="1329.1" y1="1298.4" x2="1329.1" y2="1302.9" stroke="#6f7476" stroke-width="1.1"/>
<line x1="1314.6" y1="1302.9" x2="1343.6" y2="1302.9" stroke="#6f7476" stroke-width="1.1"/>
<rect x="1299.5" y="1272.9" width="59.2" height="25.5" fill="#457fb0" stroke="#6f7476" stroke-width="1.2"/>
<line x1="1299.5" y1="1294.2" x2="1358.7" y2="1294.2" stroke="#6f7476" stroke-width="1.2"/>
<path d="M1181.1 1378.1 l3.6 9.4 l-3.6 9.4 l-3.6 -9.4 Z" fill="#4d4d4d"/>
<path d="M1255.3 1212.5 l3.6 9.4 l-3.6 9.4 l-3.6 -9.4 Z" fill="#4d4d4d"/>
<path d="M1329.1 1206.9 l3.6 9.4 l-3.6 9.4 l-3.6 -9.4 Z" fill="#4d4d4d"/>
<ellipse cx="1169.9" cy="1292.8" rx="8.3" ry="7.1" fill="#cf88ab"/>
<ellipse cx="1187.9" cy="1290.9" rx="8.3" ry="7.1" fill="#7f5fae"/>
<ellipse cx="1181.1" cy="1304.7" rx="8.3" ry="7.1" fill="#c9a25b"/>
<ellipse cx="1181.1" cy="1387.5" rx="8.3" ry="7.1" fill="#8e5a1f"/>
<ellipse cx="1255.3" cy="1221.9" rx="8.3" ry="7.1" fill="#7f5fae"/>
<ellipse cx="1237.7" cy="1272.1" rx="8.3" ry="7.1" fill="#cf88ab"/>
<ellipse cx="1255.3" cy="1277.4" rx="8.3" ry="7.1" fill="#c9a25b"/>
<ellipse cx="1255.3" cy="1292.8" rx="8.3" ry="7.1" fill="#8e5a1f"/>
<ellipse cx="1329.1" cy="1216.3" rx="8.3" ry="7.1" fill="#cf88ab"/>
<ellipse cx="1312.6" cy="1296.5" rx="8.3" ry="7.1" fill="#7f5fae"/>
<ellipse cx="1341.5" cy="1292" rx="8.3" ry="7.1" fill="#c9a25b"/>
<ellipse cx="1329.1" cy="1302.9" rx="8.3" ry="7.1" fill="#8e5a1f"/>
<rect x="1145.5" y="1206.7" width="220.3" height="190.6" fill="none" stroke="#1c1c1c" stroke-width="2.5"/>
<line x1="1137.1" y1="1246.7" x2="1144.5" y2="1246.7" stroke="#1c1c1c" stroke-width="2.4"/>
<text class="dv" x="1116.04" y="1253.8" font-size="19.5" textLength="13.46" lengthAdjust="spacingAndGlyphs">1</text>
<line x1="1137.1" y1="1287.5" x2="1144.5" y2="1287.5" stroke="#1c1c1c" stroke-width="2.4"/>
<text class="dv" x="1116.04" y="1294.6" font-size="19.5" textLength="13.46" lengthAdjust="spacingAndGlyphs">0</text>
<line x1="1137.1" y1="1328.7" x2="1144.5" y2="1328.7" stroke="#1c1c1c" stroke-width="2.4"/>
<text class="dv" x="1098.31" y="1335.8" font-size="19.5" textLength="31.19" lengthAdjust="spacingAndGlyphs">−1</text>
<line x1="1137.1" y1="1369.6" x2="1144.5" y2="1369.6" stroke="#1c1c1c" stroke-width="2.4"/>
<text class="dv" x="1098.31" y="1376.7" font-size="19.5" textLength="31.19" lengthAdjust="spacingAndGlyphs">−2</text>
<line x1="1161.6" y1="1398.3" x2="1161.6" y2="1404.3" stroke="#1c1c1c" stroke-width="2.4"/>
<line x1="1235.1" y1="1398.3" x2="1235.1" y2="1404.3" stroke="#1c1c1c" stroke-width="2.4"/>
<line x1="1308.9" y1="1398.3" x2="1308.9" y2="1404.3" stroke="#1c1c1c" stroke-width="2.4"/>
<rect x="1451.9" y="1171.7" width="224.4" height="32" fill="#d9d9d9" stroke="#262626" stroke-width="2.4"/>
<text class="ls" x="1456.1" y="1196.3" font-size="20.39" textLength="216" lengthAdjust="spacingAndGlyphs">Methylcarbamyl–PAF</text>
<line x1="1490.5" y1="1232.4" x2="1490.5" y2="1213.1" stroke="#6f7476" stroke-width="1.1"/>
<line x1="1476" y1="1213.1" x2="1505" y2="1213.1" stroke="#6f7476" stroke-width="1.1"/>
<line x1="1490.5" y1="1262.2" x2="1490.5" y2="1282.2" stroke="#6f7476" stroke-width="1.1"/>
<line x1="1476" y1="1282.2" x2="1505" y2="1282.2" stroke="#6f7476" stroke-width="1.1"/>
<rect x="1460.7" y="1232.4" width="59.6" height="29.8" fill="#74b7d3" stroke="#6f7476" stroke-width="1.2"/>
<line x1="1460.7" y1="1247.1" x2="1520.3" y2="1247.1" stroke="#6f7476" stroke-width="1.2"/>
<line x1="1564.3" y1="1314.1" x2="1564.3" y2="1291.7" stroke="#6f7476" stroke-width="1.1"/>
<line x1="1549.8" y1="1291.7" x2="1578.8" y2="1291.7" stroke="#6f7476" stroke-width="1.1"/>
<rect x="1534.7" y="1314.1" width="59.2" height="27" fill="#d12f36" stroke="#6f7476" stroke-width="1.2"/>
<line x1="1534.7" y1="1323.6" x2="1593.9" y2="1323.6" stroke="#6f7476" stroke-width="1.2"/>
<line x1="1638.5" y1="1249.2" x2="1638.5" y2="1240.5" stroke="#6f7476" stroke-width="1.1"/>
<line x1="1624" y1="1240.5" x2="1653" y2="1240.5" stroke="#6f7476" stroke-width="1.1"/>
<line x1="1638.5" y1="1282.6" x2="1638.5" y2="1301.5" stroke="#6f7476" stroke-width="1.1"/>
<line x1="1624" y1="1301.5" x2="1653" y2="1301.5" stroke="#6f7476" stroke-width="1.1"/>
<rect x="1608.7" y="1249.2" width="59.6" height="33.4" fill="#457fb0" stroke="#6f7476" stroke-width="1.2"/>
<line x1="1608.7" y1="1264.3" x2="1668.3" y2="1264.3" stroke="#6f7476" stroke-width="1.2"/>
<path d="M1564.5 1378.7 l3.6 9.4 l-3.6 9.4 l-3.6 -9.4 Z" fill="#4d4d4d"/>
<ellipse cx="1490.5" cy="1213.1" rx="8.3" ry="7.1" fill="#8e5a1f"/>
<ellipse cx="1490.5" cy="1238.4" rx="8.3" ry="7.1" fill="#7f5fae"/>
<ellipse cx="1490.5" cy="1255.9" rx="8.3" ry="7.1" fill="#c9a25b"/>
<ellipse cx="1490.5" cy="1282.6" rx="8.3" ry="7.1" fill="#cf88ab"/>
<ellipse cx="1564.5" cy="1291.7" rx="8.3" ry="7.1" fill="#8e5a1f"/>
<ellipse cx="1581.7" cy="1321.8" rx="8.3" ry="7.1" fill="#cf88ab"/>
<ellipse cx="1564.5" cy="1325.7" rx="8.3" ry="7.1" fill="#c9a25b"/>
<ellipse cx="1564.5" cy="1388.1" rx="8.3" ry="7.1" fill="#7f5fae"/>
<ellipse cx="1626.9" cy="1240.1" rx="8.3" ry="7.1" fill="#cf88ab"/>
<ellipse cx="1638.5" cy="1252.4" rx="8.3" ry="7.1" fill="#7f5fae"/>
<ellipse cx="1638.5" cy="1275.9" rx="8.3" ry="7.1" fill="#8e5a1f"/>
<ellipse cx="1638.5" cy="1301.5" rx="8.3" ry="7.1" fill="#c9a25b"/>
<rect x="1453.6" y="1203.7" width="221.5" height="193.3" fill="none" stroke="#1c1c1c" stroke-width="2.5"/>
<line x1="1445.2" y1="1236.3" x2="1452.6" y2="1236.3" stroke="#1c1c1c" stroke-width="2.4"/>
<text class="dv" x="1427.04" y="1243.4" font-size="19.5" textLength="13.46" lengthAdjust="spacingAndGlyphs">1</text>
<line x1="1445.2" y1="1282.2" x2="1452.6" y2="1282.2" stroke="#1c1c1c" stroke-width="2.4"/>
<text class="dv" x="1427.04" y="1289.3" font-size="19.5" textLength="13.46" lengthAdjust="spacingAndGlyphs">0</text>
<line x1="1445.2" y1="1328.2" x2="1452.6" y2="1328.2" stroke="#1c1c1c" stroke-width="2.4"/>
<text class="dv" x="1409.31" y="1335.3" font-size="19.5" textLength="31.19" lengthAdjust="spacingAndGlyphs">−1</text>
<line x1="1445.2" y1="1373.8" x2="1452.6" y2="1373.8" stroke="#1c1c1c" stroke-width="2.4"/>
<text class="dv" x="1427.04" y="1380.9" font-size="19.5" textLength="13.46" lengthAdjust="spacingAndGlyphs">2</text>
<text class="dv" x="1390.2" y="1380.9" font-size="19.5" textLength="14.6" lengthAdjust="spacingAndGlyphs">−</text>
<line x1="1490.5" y1="1398" x2="1490.5" y2="1404" stroke="#1c1c1c" stroke-width="2.4"/>
<line x1="1564.5" y1="1398" x2="1564.5" y2="1404" stroke="#1c1c1c" stroke-width="2.4"/>
<line x1="1638.5" y1="1398" x2="1638.5" y2="1404" stroke="#1c1c1c" stroke-width="2.4"/>
<rect x="1754.2" y="1171.7" width="223.4" height="32" fill="#d9d9d9" stroke="#262626" stroke-width="2.4"/>
<text class="ls" x="1836.9" y="1196.3" font-size="24.45" textLength="58" lengthAdjust="spacingAndGlyphs">UDP</text>
<line x1="1792.1" y1="1324.3" x2="1792.1" y2="1315.9" stroke="#6f7476" stroke-width="1.1"/>
<line x1="1777.6" y1="1315.9" x2="1806.6" y2="1315.9" stroke="#6f7476" stroke-width="1.1"/>
<line x1="1792.1" y1="1347.4" x2="1792.1" y2="1364.6" stroke="#6f7476" stroke-width="1.1"/>
<line x1="1777.6" y1="1364.6" x2="1806.6" y2="1364.6" stroke="#6f7476" stroke-width="1.1"/>
<rect x="1762.3" y="1324.3" width="59.6" height="23.1" fill="#74b7d3" stroke="#6f7476" stroke-width="1.2"/>
<line x1="1762.3" y1="1334.5" x2="1821.9" y2="1334.5" stroke="#6f7476" stroke-width="1.2"/>
<line x1="1866.05" y1="1272.4" x2="1866.05" y2="1294.5" stroke="#6f7476" stroke-width="1.1"/>
<line x1="1851.55" y1="1294.5" x2="1880.55" y2="1294.5" stroke="#6f7476" stroke-width="1.1"/>
<rect x="1836.6" y="1248.9" width="58.9" height="23.5" fill="#d12f36" stroke="#6f7476" stroke-width="1.2"/>
<line x1="1836.6" y1="1262.9" x2="1895.5" y2="1262.9" stroke="#6f7476" stroke-width="1.2"/>
<line x1="1940.1" y1="1331" x2="1940.1" y2="1309.9" stroke="#6f7476" stroke-width="1.1"/>
<line x1="1925.6" y1="1309.9" x2="1954.6" y2="1309.9" stroke="#6f7476" stroke-width="1.1"/>
<line x1="1940.1" y1="1355.2" x2="1940.1" y2="1388.1" stroke="#6f7476" stroke-width="1.1"/>
<line x1="1925.6" y1="1388.1" x2="1954.6" y2="1388.1" stroke="#6f7476" stroke-width="1.1"/>
<rect x="1910.3" y="1331" width="59.6" height="24.2" fill="#457fb0" stroke="#6f7476" stroke-width="1.2"/>
<line x1="1910.3" y1="1341.1" x2="1969.9" y2="1341.1" stroke="#6f7476" stroke-width="1.2"/>
<path d="M1866.1 1203.4 l3.6 9.4 l-3.6 9.4 l-3.6 -9.4 Z" fill="#4d4d4d"/>
<ellipse cx="1799.8" cy="1316.2" rx="8.3" ry="7.1" fill="#7f5fae"/>
<ellipse cx="1786.8" cy="1327.1" rx="8.3" ry="7.1" fill="#8e5a1f"/>
<ellipse cx="1792.1" cy="1341.8" rx="8.3" ry="7.1" fill="#cf88ab"/>
<ellipse cx="1792.1" cy="1364.6" rx="8.3" ry="7.1" fill="#c9a25b"/>
<ellipse cx="1866.1" cy="1212.8" rx="8.3" ry="7.1" fill="#c9a25b"/>
<ellipse cx="1848.9" cy="1260.8" rx="8.3" ry="7.1" fill="#cf88ab"/>
<ellipse cx="1866.1" cy="1265" rx="8.3" ry="7.1" fill="#7f5fae"/>
<ellipse cx="1866.1" cy="1294.5" rx="8.3" ry="7.1" fill="#8e5a1f"/>
<ellipse cx="1940.1" cy="1309.9" rx="8.3" ry="7.1" fill="#7f5fae"/>
<ellipse cx="1923.6" cy="1338" rx="8.3" ry="7.1" fill="#8e5a1f"/>
<ellipse cx="1940.1" cy="1343.9" rx="8.3" ry="7.1" fill="#c9a25b"/>
<ellipse cx="1940.1" cy="1388.1" rx="8.3" ry="7.1" fill="#cf88ab"/>
<rect x="1755.8" y="1203.7" width="220.6" height="193.3" fill="none" stroke="#1c1c1c" stroke-width="2.5"/>
<line x1="1747.4" y1="1219.4" x2="1754.8" y2="1219.4" stroke="#1c1c1c" stroke-width="2.4"/>
<text class="dv" x="1728.04" y="1226.5" font-size="19.5" textLength="13.46" lengthAdjust="spacingAndGlyphs">2</text>
<line x1="1747.4" y1="1266.4" x2="1754.8" y2="1266.4" stroke="#1c1c1c" stroke-width="2.4"/>
<text class="dv" x="1728.04" y="1273.5" font-size="19.5" textLength="13.46" lengthAdjust="spacingAndGlyphs">1</text>
<line x1="1747.4" y1="1313.4" x2="1754.8" y2="1313.4" stroke="#1c1c1c" stroke-width="2.4"/>
<text class="dv" x="1728.04" y="1320.5" font-size="19.5" textLength="13.46" lengthAdjust="spacingAndGlyphs">0</text>
<line x1="1747.4" y1="1360.4" x2="1754.8" y2="1360.4" stroke="#1c1c1c" stroke-width="2.4"/>
<text class="dv" x="1728.04" y="1367.5" font-size="19.5" textLength="13.46" lengthAdjust="spacingAndGlyphs">1</text>
<text class="dv" x="1692.2" y="1367.5" font-size="19.5" textLength="14.6" lengthAdjust="spacingAndGlyphs">−</text>
<line x1="1792.1" y1="1398" x2="1792.1" y2="1404" stroke="#1c1c1c" stroke-width="2.4"/>
<line x1="1866.1" y1="1398" x2="1866.1" y2="1404" stroke="#1c1c1c" stroke-width="2.4"/>
<line x1="1940.1" y1="1398" x2="1940.1" y2="1404" stroke="#1c1c1c" stroke-width="2.4"/>
<rect x="917.8" y="1463.7" width="231.8" height="31.9" fill="#d9d9d9" stroke="#262626" stroke-width="2.4"/>
<text class="dv" x="921.4" y="1486.8" font-size="17.6" textLength="225" lengthAdjust="spacingAndGlyphs">Sphingosine 1–phosphate</text>
<line x1="958.45" y1="1519.5" x2="958.45" y2="1505.9" stroke="#6f7476" stroke-width="1.1"/>
<line x1="943.95" y1="1505.9" x2="972.95" y2="1505.9" stroke="#6f7476" stroke-width="1.1"/>
<line x1="958.45" y1="1532.2" x2="958.45" y2="1549.3" stroke="#6f7476" stroke-width="1.1"/>
<line x1="943.95" y1="1549.3" x2="972.95" y2="1549.3" stroke="#6f7476" stroke-width="1.1"/>
<rect x="928.2" y="1519.5" width="60.5" height="12.7" fill="#74b7d3" stroke="#6f7476" stroke-width="1.2"/>
<line x1="928.2" y1="1525.9" x2="988.7" y2="1525.9" stroke="#6f7476" stroke-width="1.2"/>
<line x1="1034.1" y1="1636.5" x2="1034.1" y2="1618.6" stroke="#6f7476" stroke-width="1.1"/>
<line x1="1019.6" y1="1618.6" x2="1048.6" y2="1618.6" stroke="#6f7476" stroke-width="1.1"/>
<line x1="1034.1" y1="1666" x2="1034.1" y2="1691.9" stroke="#6f7476" stroke-width="1.1"/>
<line x1="1019.6" y1="1691.9" x2="1048.6" y2="1691.9" stroke="#6f7476" stroke-width="1.1"/>
<rect x="1003.8" y="1636.5" width="60.6" height="29.5" fill="#d12f36" stroke="#6f7476" stroke-width="1.2"/>
<line x1="1003.8" y1="1649.3" x2="1064.4" y2="1649.3" stroke="#6f7476" stroke-width="1.2"/>
<line x1="1109.95" y1="1580.8" x2="1109.95" y2="1533.8" stroke="#6f7476" stroke-width="1.1"/>
<line x1="1095.45" y1="1533.8" x2="1124.45" y2="1533.8" stroke="#6f7476" stroke-width="1.1"/>
<line x1="1109.95" y1="1621.4" x2="1109.95" y2="1625" stroke="#6f7476" stroke-width="1.1"/>
<line x1="1095.45" y1="1625" x2="1124.45" y2="1625" stroke="#6f7476" stroke-width="1.1"/>
<rect x="1079.5" y="1580.8" width="60.9" height="40.6" fill="#457fb0" stroke="#6f7476" stroke-width="1.2"/>
<line x1="1079.5" y1="1607.9" x2="1140.4" y2="1607.9" stroke="#6f7476" stroke-width="1.2"/>
<ellipse cx="958.5" cy="1505.9" rx="8.3" ry="7.1" fill="#8e5a1f"/>
<ellipse cx="940.1" cy="1524.3" rx="8.3" ry="7.1" fill="#7f5fae"/>
<ellipse cx="958.5" cy="1526.3" rx="8.3" ry="7.1" fill="#cf88ab"/>
<ellipse cx="958.5" cy="1549.3" rx="8.3" ry="7.1" fill="#c9a25b"/>
<ellipse cx="1034.1" cy="1618.6" rx="8.3" ry="7.1" fill="#cf88ab"/>
<ellipse cx="1034.1" cy="1641.7" rx="8.3" ry="7.1" fill="#7f5fae"/>
<ellipse cx="1034.1" cy="1657.2" rx="8.3" ry="7.1" fill="#8e5a1f"/>
<ellipse cx="1034.1" cy="1691.9" rx="8.3" ry="7.1" fill="#c9a25b"/>
<ellipse cx="1109.7" cy="1533.8" rx="8.3" ry="7.1" fill="#cf88ab"/>
<ellipse cx="1109.7" cy="1596.3" rx="8.3" ry="7.1" fill="#7f5fae"/>
<ellipse cx="1091.8" cy="1619.8" rx="8.3" ry="7.1" fill="#c9a25b"/>
<ellipse cx="1109.7" cy="1625" rx="8.3" ry="7.1" fill="#8e5a1f"/>
<rect x="920.6" y="1495.6" width="228.2" height="206.2" fill="none" stroke="#1c1c1c" stroke-width="2.5"/>
<line x1="912.2" y1="1532.6" x2="919.6" y2="1532.6" stroke="#1c1c1c" stroke-width="2.4"/>
<text class="dv" x="892.04" y="1539.7" font-size="19.5" textLength="13.46" lengthAdjust="spacingAndGlyphs">1</text>
<line x1="912.2" y1="1591.1" x2="919.6" y2="1591.1" stroke="#1c1c1c" stroke-width="2.4"/>
<text class="dv" x="892.04" y="1598.2" font-size="19.5" textLength="13.46" lengthAdjust="spacingAndGlyphs">0</text>
<line x1="912.2" y1="1649.3" x2="919.6" y2="1649.3" stroke="#1c1c1c" stroke-width="2.4"/>
<text class="dv" x="874.31" y="1656.4" font-size="19.5" textLength="31.19" lengthAdjust="spacingAndGlyphs">−1</text>
<line x1="958.5" y1="1702.8" x2="958.5" y2="1708.8" stroke="#1c1c1c" stroke-width="2.4"/>
<line x1="1034.1" y1="1702.8" x2="1034.1" y2="1708.8" stroke="#1c1c1c" stroke-width="2.4"/>
<line x1="1109.7" y1="1702.8" x2="1109.7" y2="1708.8" stroke="#1c1c1c" stroke-width="2.4"/>
<rect x="1230" y="1463.7" width="227.7" height="31.9" fill="#d9d9d9" stroke="#262626" stroke-width="2.4"/>
<text class="dv" x="1269.8" y="1486.8" font-size="23" textLength="167.2" lengthAdjust="spacingAndGlyphs">Protoporphyrin</text>
<line x1="1268.75" y1="1567.7" x2="1268.75" y2="1560.5" stroke="#6f7476" stroke-width="1.1"/>
<line x1="1254.25" y1="1560.5" x2="1283.25" y2="1560.5" stroke="#6f7476" stroke-width="1.1"/>
<line x1="1268.75" y1="1617" x2="1268.75" y2="1654.4" stroke="#6f7476" stroke-width="1.1"/>
<line x1="1254.25" y1="1654.4" x2="1283.25" y2="1654.4" stroke="#6f7476" stroke-width="1.1"/>
<rect x="1238.3" y="1567.7" width="60.9" height="49.3" fill="#74b7d3" stroke="#6f7476" stroke-width="1.2"/>
<line x1="1238.3" y1="1587.6" x2="1299.2" y2="1587.6" stroke="#6f7476" stroke-width="1.2"/>
<line x1="1344.25" y1="1523.5" x2="1344.25" y2="1505.9" stroke="#6f7476" stroke-width="1.1"/>
<line x1="1329.75" y1="1505.9" x2="1358.75" y2="1505.9" stroke="#6f7476" stroke-width="1.1"/>
<line x1="1344.25" y1="1549.3" x2="1344.25" y2="1560.5" stroke="#6f7476" stroke-width="1.1"/>
<line x1="1329.75" y1="1560.5" x2="1358.75" y2="1560.5" stroke="#6f7476" stroke-width="1.1"/>
<rect x="1314" y="1523.5" width="60.5" height="25.8" fill="#d12f36" stroke="#6f7476" stroke-width="1.2"/>
<line x1="1314" y1="1537.4" x2="1374.5" y2="1537.4" stroke="#6f7476" stroke-width="1.2"/>
<line x1="1420.05" y1="1556.1" x2="1420.05" y2="1536.2" stroke="#6f7476" stroke-width="1.1"/>
<line x1="1405.55" y1="1536.2" x2="1434.55" y2="1536.2" stroke="#6f7476" stroke-width="1.1"/>
<rect x="1389.6" y="1556.1" width="60.9" height="39.8" fill="#457fb0" stroke="#6f7476" stroke-width="1.2"/>
<line x1="1389.6" y1="1563.3" x2="1450.5" y2="1563.3" stroke="#6f7476" stroke-width="1.2"/>
<path d="M1419.9 1682.5 l3.6 9.4 l-3.6 9.4 l-3.6 -9.4 Z" fill="#4d4d4d"/>
<ellipse cx="1283.3" cy="1560.5" rx="8.3" ry="7.1" fill="#cf88ab"/>
<ellipse cx="1268.6" cy="1570.4" rx="8.3" ry="7.1" fill="#7f5fae"/>
<ellipse cx="1268.6" cy="1605.1" rx="8.3" ry="7.1" fill="#c9a25b"/>
<ellipse cx="1268.6" cy="1654.4" rx="8.3" ry="7.1" fill="#8e5a1f"/>
<ellipse cx="1344.2" cy="1505.9" rx="8.3" ry="7.1" fill="#c9a25b"/>
<ellipse cx="1344.2" cy="1529" rx="8.3" ry="7.1" fill="#cf88ab"/>
<ellipse cx="1336.7" cy="1545.4" rx="8.3" ry="7.1" fill="#7f5fae"/>
<ellipse cx="1344.2" cy="1560.5" rx="8.3" ry="7.1" fill="#8e5a1f"/>
<ellipse cx="1419.9" cy="1536.2" rx="8.3" ry="7.1" fill="#c9a25b"/>
<ellipse cx="1401.2" cy="1562.5" rx="8.3" ry="7.1" fill="#7f5fae"/>
<ellipse cx="1419.9" cy="1564.1" rx="8.3" ry="7.1" fill="#cf88ab"/>
<ellipse cx="1419.9" cy="1691.9" rx="8.3" ry="7.1" fill="#8e5a1f"/>
<rect x="1230.8" y="1495.6" width="226.9" height="206.2" fill="none" stroke="#1c1c1c" stroke-width="2.5"/>
<line x1="1222.4" y1="1523.5" x2="1229.8" y2="1523.5" stroke="#1c1c1c" stroke-width="2.4"/>
<text class="dv" x="1203.54" y="1530.6" font-size="19.5" textLength="13.46" lengthAdjust="spacingAndGlyphs">1</text>
<line x1="1222.4" y1="1574" x2="1229.8" y2="1574" stroke="#1c1c1c" stroke-width="2.4"/>
<text class="dv" x="1203.54" y="1581.1" font-size="19.5" textLength="13.46" lengthAdjust="spacingAndGlyphs">0</text>
<line x1="1222.4" y1="1624.6" x2="1229.8" y2="1624.6" stroke="#1c1c1c" stroke-width="2.4"/>
<text class="dv" x="1185.81" y="1631.7" font-size="19.5" textLength="31.19" lengthAdjust="spacingAndGlyphs">−1</text>
<line x1="1222.4" y1="1675.1" x2="1229.8" y2="1675.1" stroke="#1c1c1c" stroke-width="2.4"/>
<text class="dv" x="1203.54" y="1682.2" font-size="19.5" textLength="13.46" lengthAdjust="spacingAndGlyphs">2</text>
<text class="dv" x="1163.7" y="1682.2" font-size="19.5" textLength="14.6" lengthAdjust="spacingAndGlyphs">−</text>
<line x1="1268.6" y1="1702.8" x2="1268.6" y2="1708.8" stroke="#1c1c1c" stroke-width="2.4"/>
<line x1="1344.2" y1="1702.8" x2="1344.2" y2="1708.8" stroke="#1c1c1c" stroke-width="2.4"/>
<line x1="1419.9" y1="1702.8" x2="1419.9" y2="1708.8" stroke="#1c1c1c" stroke-width="2.4"/>
<rect x="1629" y="1484.7" width="260.6" height="369.2" fill="#ffffff" stroke="#d5d7d8" stroke-width="3.5" rx="6" ry="6"/>
<text class="lsb" x="1638.8" y="1535.4" font-size="31" textLength="165.3" lengthAdjust="spacingAndGlyphs">Timepoints:</text>
<rect x="1638.8" y="1554.3" width="52" height="17.3" fill="#74b7d3" stroke="#6f7476" stroke-width="0.8"/>
<rect x="1638.8" y="1590" width="52" height="17.1" fill="#d12f36" stroke="#6f7476" stroke-width="0.8"/>
<rect x="1638.8" y="1625.5" width="52" height="17.6" fill="#457fb0" stroke="#6f7476" stroke-width="0.8"/>
<text class="dv" x="1712.5" y="1571" font-size="25.19" textLength="140.5" lengthAdjust="spacingAndGlyphs">L-92;L-44;L</text>
<text class="dv" x="1712.5" y="1606.5" font-size="23.97" textLength="52" lengthAdjust="spacingAndGlyphs">R+1</text>
<text class="dv" x="1712.5" y="1642.4" font-size="24.99" textLength="132.7" lengthAdjust="spacingAndGlyphs">R+45;R+8</text>
<text class="lsb" x="1639.5" y="1693.7" font-size="31" textLength="156.9" lengthAdjust="spacingAndGlyphs">Astronauts:</text>
<circle cx="1664.6" cy="1719.6" r="11.6" fill="#7f5fae"/>
<text class="dv" x="1711.6" y="1725.8" font-size="24.59" textLength="64.1" lengthAdjust="spacingAndGlyphs">C001</text>
<circle cx="1664.6" cy="1755.6" r="11.6" fill="#8e5a1f"/>
<text class="dv" x="1711.6" y="1761.8" font-size="24.59" textLength="64.1" lengthAdjust="spacingAndGlyphs">C002</text>
<circle cx="1664.6" cy="1791.5" r="11.6" fill="#cf88ab"/>
<text class="dv" x="1711.6" y="1797.7" font-size="24.59" textLength="64.1" lengthAdjust="spacingAndGlyphs">C003</text>
<circle cx="1664.6" cy="1827.5" r="11.6" fill="#c9a25b"/>
<text class="dv" x="1711.6" y="1833.7" font-size="24.59" textLength="64.1" lengthAdjust="spacingAndGlyphs">C004</text>
<rect x="1936.5" y="1626.6" width="7" height="1.8" fill="#231f20"/>
</g>
<g id="panel-d">
<text class="lsb" x="1.5" y="1777" font-size="43">d.</text>
<text class="ls" x="171.1" y="1847.6" font-size="27.93" textLength="245.3" lengthAdjust="spacingAndGlyphs">Galactosylceramide</text>
<rect x="441.8" y="1778.3" width="351.3" height="41.7" fill="none" stroke="#c1172c" stroke-width="3.4"/>
<text class="ls" x="447" y="1809.5" font-size="28.09" textLength="337.2" lengthAdjust="spacingAndGlyphs">Glucosylceramide (GlcCer)</text>
<text class="ls" x="663.6" y="1860.4" font-size="28.04" textLength="165.2" lengthAdjust="spacingAndGlyphs">UDP-glucose</text>
<rect x="655.8" y="1912.5" width="77.6" height="42" fill="none" stroke="#c1172c" stroke-width="3.4"/>
<text class="ls" x="663.6" y="1944" font-size="26.95" textLength="56.9" lengthAdjust="spacingAndGlyphs">UDP</text>
<text class="ls" x="529.4" y="1997.8" font-size="28" textLength="121.4" lengthAdjust="spacingAndGlyphs">Ceramide</text>
<rect x="788.4" y="1964.6" width="165.2" height="42.4" fill="none" stroke="#939598" stroke-width="3.6"/>
<text class="ls" x="793" y="1997.8" font-size="28.05" textLength="154.4" lengthAdjust="spacingAndGlyphs">Sphingosine</text>
<rect x="718.6" y="2090.6" width="332.8" height="42" fill="none" stroke="#0d63b3" stroke-width="3.4"/>
<text class="ls" x="725.6" y="2120.3" font-size="28.11" textLength="320.4" lengthAdjust="spacingAndGlyphs">Sphingosine-1-phosphate</text>
<text class="ls" x="19" y="1999.8" font-size="27.97" textLength="183.5" lengthAdjust="spacingAndGlyphs">Sphingomyelin</text>
<rect x="61.2" y="2064.9" width="184.8" height="42.1" fill="none" stroke="#939598" stroke-width="3.6"/>
<text class="ls" x="68.5" y="2093.1" font-size="27.83" textLength="171.7" lengthAdjust="spacingAndGlyphs">Diacylglycerol</text>
<text class="ls" x="321.1" y="2092.7" font-size="27.94" textLength="248.5" lengthAdjust="spacingAndGlyphs">Phosphatidylcholine</text>
<text class="ls" x="122.6" y="2297.1" font-size="27.75" textLength="155.8" lengthAdjust="spacingAndGlyphs">CDP-choline</text>
<rect x="556.5" y="2244.6" width="445" height="42.8" fill="none" stroke="#0d63b3" stroke-width="3.4"/>
<text class="ls" x="563.5" y="2275.5" font-size="28.1" textLength="432.1" lengthAdjust="spacingAndGlyphs">LysoPhosphatidylcholine (LysoPC)</text>
<text class="ls" x="604.5" y="2397.8" font-size="27.89" textLength="291.5" lengthAdjust="spacingAndGlyphs">Glycerophosphocholine</text>
<text class="ls" x="352.2" y="2443.6" font-size="27.62" textLength="142" lengthAdjust="spacingAndGlyphs">FDR=0.085</text>
<rect x="316.6" y="2456" width="208" height="54" fill="none" stroke="#c1172c" stroke-width="3.4"/>
<text class="ls" x="320.9" y="2489" font-size="27.98" textLength="199.1" lengthAdjust="spacingAndGlyphs">Phosphocholine</text>
<line x1="11.9" y1="1968" x2="27.7" y2="1968" stroke="#c1172c" stroke-width="3.3"/>
<line x1="60.6" y1="1968" x2="106.6" y2="1968" stroke="#c1172c" stroke-width="3.3"/>
<line x1="152.2" y1="1968" x2="175.8" y2="1968" stroke="#c1172c" stroke-width="3.3"/>
<line x1="192.1" y1="1968" x2="208.1" y2="1968" stroke="#c1172c" stroke-width="3.3"/>
<line x1="11.9" y1="2012.3" x2="27.7" y2="2012.3" stroke="#c1172c" stroke-width="3.3"/>
<line x1="44.1" y1="2012.3" x2="67.7" y2="2012.3" stroke="#c1172c" stroke-width="3.3"/>
<line x1="113.1" y1="2012.3" x2="159.5" y2="2012.3" stroke="#c1172c" stroke-width="3.3"/>
<line x1="192.1" y1="2012.3" x2="208.1" y2="2012.3" stroke="#c1172c" stroke-width="3.3"/>
<line x1="13.5" y1="1966.3" x2="13.5" y2="1982.7" stroke="#c1172c" stroke-width="3.3"/>
<line x1="206.4" y1="1966.3" x2="206.4" y2="1982.7" stroke="#c1172c" stroke-width="3.3"/>
<line x1="13.5" y1="1998" x2="13.5" y2="2013.9" stroke="#c1172c" stroke-width="3.3"/>
<line x1="206.4" y1="1998" x2="206.4" y2="2013.9" stroke="#c1172c" stroke-width="3.3"/>
<line x1="313.2" y1="2059.3" x2="329" y2="2059.3" stroke="#0d63b3" stroke-width="3.3"/>
<line x1="313.2" y1="2102.4" x2="329" y2="2102.4" stroke="#0d63b3" stroke-width="3.3"/>
<line x1="355" y1="2059.3" x2="391.7" y2="2059.3" stroke="#0d63b3" stroke-width="3.3"/>
<line x1="355" y1="2102.4" x2="391.7" y2="2102.4" stroke="#0d63b3" stroke-width="3.3"/>
<line x1="427.9" y1="2059.3" x2="464.8" y2="2059.3" stroke="#0d63b3" stroke-width="3.3"/>
<line x1="427.9" y1="2102.4" x2="464.8" y2="2102.4" stroke="#0d63b3" stroke-width="3.3"/>
<line x1="501.1" y1="2059.3" x2="538" y2="2059.3" stroke="#0d63b3" stroke-width="3.3"/>
<line x1="501.1" y1="2102.4" x2="538" y2="2102.4" stroke="#0d63b3" stroke-width="3.3"/>
<line x1="564.4" y1="2059.3" x2="580.5" y2="2059.3" stroke="#0d63b3" stroke-width="3.3"/>
<line x1="564.4" y1="2102.4" x2="580.5" y2="2102.4" stroke="#0d63b3" stroke-width="3.3"/>
<line x1="314.9" y1="2057.6" x2="314.9" y2="2075.1" stroke="#0d63b3" stroke-width="3.3"/>
<line x1="578.8" y1="2057.6" x2="578.8" y2="2075.1" stroke="#0d63b3" stroke-width="3.3"/>
<line x1="314.9" y1="2087.1" x2="314.9" y2="2104.1" stroke="#0d63b3" stroke-width="3.3"/>
<line x1="578.8" y1="2087.1" x2="578.8" y2="2104.1" stroke="#0d63b3" stroke-width="3.3"/>
<path d="M219.2 1982.7 L509.2 1982.7 L495.1 1963.6" fill="none" stroke="#231f20" stroke-width="3.7" stroke-linejoin="miter" stroke-miterlimit="10"/>
<path d="M509.2 1995.9 L219.2 1995.9 L240.2 2017" fill="none" stroke="#231f20" stroke-width="3.7" stroke-linejoin="miter" stroke-miterlimit="10"/>
<path d="M416.4 1862.3 L535.1 1920.3 L529.5 1891.5" fill="none" stroke="#231f20" stroke-width="3.7" stroke-linejoin="miter" stroke-miterlimit="10"/>
<path d="M533.8 1938.4 L416.4 1881 L419 1905.6" fill="none" stroke="#231f20" stroke-width="3.7" stroke-linejoin="miter" stroke-miterlimit="10"/>
<path d="M585.9 1970.1 L585.9 1832.4 L567.2 1836.3" fill="none" stroke="#231f20" stroke-width="3.7" stroke-linejoin="miter" stroke-miterlimit="10"/>
<path d="M599.1 1832.4 L599.1 1970.1 L621 1963" fill="none" stroke="#231f20" stroke-width="3.7" stroke-linejoin="miter" stroke-miterlimit="10"/>
<path d="M681.5 1980.1 L778.2 1980.1 L775.4 1961.8" fill="none" stroke="#231f20" stroke-width="3.7" stroke-linejoin="miter" stroke-miterlimit="10"/>
<path d="M778.2 1994 L681.5 1994 L686.7 2015.9" fill="none" stroke="#231f20" stroke-width="3.7" stroke-linejoin="miter" stroke-miterlimit="10"/>
<path d="M860.6 2069.6 L860.6 2020.7 L841.9 2022.7" fill="none" stroke="#231f20" stroke-width="3.7" stroke-linejoin="miter" stroke-miterlimit="10"/>
<path d="M873.8 2020.7 L873.8 2069.6 L895.7 2067.3" fill="none" stroke="#231f20" stroke-width="3.7" stroke-linejoin="miter" stroke-miterlimit="10"/>
<path d="M652.8 1848.3 C618 1860 603 1880 607 1897 C611 1914 628 1928 645 1932.5" fill="none" stroke="#231f20" stroke-width="2.7"/>
<path d="M652.8 1933.9 L638.2 1940.3 L641.8 1932.3 L638.5 1924.2 Z" fill="#231f20"/>
<path d="M480.3 2056.4 C450 2020 395 2008.5 354 2008.9 C305 2009.5 255 2026 233 2050" fill="none" stroke="#231f20" stroke-width="2.7"/>
<path d="M227.9 2056.4 L233.3 2041.4 L236.3 2049.6 L244.7 2052 Z" fill="#231f20"/>
<line x1="222.2" y1="2255.2" x2="314.12" y2="2132.92" stroke="#231f20" stroke-width="3.3"/>
<path d="M320.6 2124.3 L318.06 2141.66 L314.22 2132.79 L304.63 2131.56 Z" fill="#231f20"/>
<line x1="517.3" y1="2124.6" x2="649.95" y2="2229.71" stroke="#231f20" stroke-width="3.3"/>
<path d="M658.4 2236.4 L641.11 2233.42 L650.07 2229.8 L651.55 2220.25 Z" fill="#231f20"/>
<line x1="743.8" y1="2297.3" x2="743.8" y2="2351.52" stroke="#231f20" stroke-width="3.3"/>
<path d="M743.8 2362.3 L735.4 2346.9 L743.8 2351.67 L752.2 2346.9 Z" fill="#231f20"/>
<line x1="638.2" y1="2418.6" x2="542.04" y2="2464.27" stroke="#231f20" stroke-width="3.3"/>
<path d="M532.3 2468.9 L542.61 2454.71 L541.9 2464.34 L549.81 2469.88 Z" fill="#231f20"/>
<line x1="311.2" y1="2452.8" x2="228.48" y2="2319.36" stroke="#231f20" stroke-width="3.3"/>
<path d="M222.8 2310.2 L238.05 2318.86 L228.4 2319.23 L223.77 2327.71 Z" fill="#231f20"/>
</g>
<g id="panel-e">
<text class="lsb" x="1042.5" y="1776" font-size="43">e.</text>
<line x1="1176.5" y1="2089.36" x2="1531" y2="2089.36" stroke="#000000" stroke-width="2.4" stroke-dasharray="2.2 2.3"/>
<path d="M1243.4 1924.96 C1243.84 1924.96 1244.27 1933.08 1244.71 1936.21 C1245.15 1939.33 1244.52 1941.2 1246.02 1943.7 C1247.52 1946.2 1251.18 1948.7 1253.7 1951.19 C1256.23 1953.69 1259.33 1956.19 1261.2 1958.69 C1263.07 1961.19 1264.23 1963.68 1264.95 1966.18 C1265.66 1968.68 1265.79 1971.33 1265.51 1973.68 C1265.23 1976.02 1263.82 1978.05 1263.26 1980.23 C1262.7 1982.42 1261.7 1984.76 1262.14 1986.79 C1262.57 1988.82 1264.17 1990.23 1265.88 1992.41 C1267.6 1994.6 1270.57 1997.41 1272.44 1999.91 C1274.31 2002.4 1276.19 2005.37 1277.12 2007.4 C1278.06 2009.43 1278.37 2010.21 1278.06 2012.08 C1277.75 2013.96 1276.66 2016.3 1275.25 2018.64 C1273.84 2020.98 1271.07 2023.79 1269.63 2026.14 C1268.19 2028.48 1267.19 2030.51 1266.63 2032.69 C1266.07 2034.88 1266.23 2036.91 1266.26 2039.25 C1266.29 2041.59 1267.13 2044.4 1266.82 2046.74 C1266.51 2049.09 1265.79 2051.12 1264.38 2053.3 C1262.98 2055.49 1260.64 2057.52 1258.39 2059.86 C1256.14 2062.2 1252.89 2065.17 1250.89 2067.35 C1248.9 2069.54 1247.4 2071.1 1246.4 2072.97 C1245.4 2074.85 1245.4 2075.16 1244.9 2078.59 C1244.4 2082.03 1243.9 2093.58 1243.4 2093.58 C1242.9 2093.58 1242.4 2082.03 1241.9 2078.59 C1241.4 2075.16 1241.4 2074.85 1240.4 2072.97 C1239.4 2071.1 1237.9 2069.54 1235.91 2067.35 C1233.91 2065.17 1230.66 2062.2 1228.41 2059.86 C1226.16 2057.52 1223.82 2055.49 1222.42 2053.3 C1221.01 2051.12 1220.29 2049.09 1219.98 2046.74 C1219.67 2044.4 1220.51 2041.59 1220.54 2039.25 C1220.57 2036.91 1220.73 2034.88 1220.17 2032.69 C1219.61 2030.51 1218.61 2028.48 1217.17 2026.14 C1215.73 2023.79 1212.96 2020.98 1211.55 2018.64 C1210.14 2016.3 1209.05 2013.96 1208.74 2012.08 C1208.43 2010.21 1208.74 2009.43 1209.68 2007.4 C1210.61 2005.37 1212.49 2002.4 1214.36 1999.91 C1216.23 1997.41 1219.2 1994.6 1220.92 1992.41 C1222.63 1990.23 1224.23 1988.82 1224.66 1986.79 C1225.1 1984.76 1224.1 1982.42 1223.54 1980.23 C1222.98 1978.05 1221.57 1976.02 1221.29 1973.68 C1221.01 1971.33 1221.14 1968.68 1221.85 1966.18 C1222.57 1963.68 1223.73 1961.19 1225.6 1958.69 C1227.47 1956.19 1230.57 1953.69 1233.1 1951.19 C1235.62 1948.7 1239.28 1946.2 1240.78 1943.7 C1242.28 1941.2 1241.65 1939.33 1242.09 1936.21 C1242.53 1933.08 1242.96 1924.96 1243.4 1924.96 Z" fill="none" stroke="#000000" stroke-width="3.7" stroke-linejoin="round"/>
<path d="M1350.7 1889.37 C1351.14 1889.37 1351.57 1897.49 1352.01 1900.61 C1352.45 1903.73 1351.67 1905.6 1353.32 1908.1 C1354.98 1910.6 1358.63 1913.1 1361.94 1915.6 C1365.25 1918.1 1369.9 1920.59 1373.18 1923.09 C1376.46 1925.59 1379.71 1928.4 1381.61 1930.59 C1383.52 1932.77 1383.99 1934.33 1384.61 1936.21 C1385.24 1938.08 1385.7 1939.95 1385.36 1941.83 C1385.02 1943.7 1384.58 1945.26 1382.55 1947.45 C1380.52 1949.63 1376.15 1952.44 1373.18 1954.94 C1370.22 1957.44 1366.56 1960.31 1364.75 1962.44 C1362.94 1964.56 1362.32 1965.81 1362.32 1967.68 C1362.32 1969.56 1362.63 1971.43 1364.75 1973.68 C1366.87 1975.93 1371.93 1978.67 1375.06 1981.17 C1378.18 1983.67 1381.74 1986.48 1383.49 1988.67 C1385.24 1990.85 1385.39 1992.41 1385.55 1994.29 C1385.7 1996.16 1385.55 1997.72 1384.42 1999.91 C1383.3 2002.09 1381.61 2004.9 1378.8 2007.4 C1375.99 2009.9 1371.15 2012.4 1367.56 2014.89 C1363.97 2017.39 1359.66 2020.2 1357.26 2022.39 C1354.85 2024.57 1354.01 2025.82 1353.14 2028.01 C1352.26 2030.2 1352.42 2032.38 1352.01 2035.5 C1351.61 2038.63 1351.14 2046.74 1350.7 2046.74 C1350.26 2046.74 1349.79 2038.63 1349.39 2035.5 C1348.98 2032.38 1349.14 2030.2 1348.26 2028.01 C1347.39 2025.82 1346.55 2024.57 1344.14 2022.39 C1341.74 2020.2 1337.43 2017.39 1333.84 2014.89 C1330.25 2012.4 1325.41 2009.9 1322.6 2007.4 C1319.79 2004.9 1318.1 2002.09 1316.98 1999.91 C1315.85 1997.72 1315.7 1996.16 1315.85 1994.29 C1316.01 1992.41 1316.16 1990.85 1317.91 1988.67 C1319.66 1986.48 1323.22 1983.67 1326.34 1981.17 C1329.47 1978.67 1334.53 1975.93 1336.65 1973.68 C1338.77 1971.43 1339.08 1969.56 1339.08 1967.68 C1339.08 1965.81 1338.46 1964.56 1336.65 1962.44 C1334.84 1960.31 1331.18 1957.44 1328.22 1954.94 C1325.25 1952.44 1320.88 1949.63 1318.85 1947.45 C1316.82 1945.26 1316.38 1943.7 1316.04 1941.83 C1315.7 1939.95 1316.16 1938.08 1316.79 1936.21 C1317.41 1934.33 1317.88 1932.77 1319.79 1930.59 C1321.69 1928.4 1324.94 1925.59 1328.22 1923.09 C1331.5 1920.59 1336.15 1918.1 1339.46 1915.6 C1342.77 1913.1 1346.42 1910.6 1348.08 1908.1 C1349.73 1905.6 1348.95 1903.73 1349.39 1900.61 C1349.83 1897.49 1350.26 1889.37 1350.7 1889.37 Z" fill="none" stroke="#000000" stroke-width="3.7" stroke-linejoin="round"/>
<path d="M1458.5 1924.96 C1458.94 1924.96 1459.37 1933.08 1459.81 1936.21 C1460.25 1939.33 1459.47 1941.2 1461.12 1943.7 C1462.78 1946.2 1466.74 1948.7 1469.74 1951.19 C1472.74 1953.69 1475.99 1956.19 1479.11 1958.69 C1482.23 1961.19 1486.2 1964 1488.48 1966.18 C1490.76 1968.37 1491.94 1970.4 1492.79 1971.8 C1493.63 1973.21 1493.78 1973.36 1493.54 1974.61 C1493.29 1975.86 1492.75 1977.27 1491.29 1979.3 C1489.82 1981.33 1486.6 1984.29 1484.73 1986.79 C1482.86 1989.29 1481.45 1991.79 1480.05 1994.29 C1478.64 1996.78 1477.7 1998.97 1476.3 2001.78 C1474.89 2004.59 1473.02 2008.02 1471.61 2011.15 C1470.21 2014.27 1468.12 2017.7 1467.87 2020.52 C1467.62 2023.33 1469.02 2025.51 1470.12 2028.01 C1471.21 2030.51 1473.49 2033.32 1474.43 2035.5 C1475.36 2037.69 1475.74 2039.25 1475.74 2041.12 C1475.74 2043 1475.58 2044.56 1474.43 2046.74 C1473.27 2048.93 1470.58 2051.74 1468.8 2054.24 C1467.02 2056.74 1465.06 2059.55 1463.75 2061.73 C1462.43 2063.92 1461.59 2065.17 1460.94 2067.35 C1460.28 2069.54 1460.22 2071.26 1459.81 2074.85 C1459.41 2078.44 1458.94 2088.9 1458.5 2088.9 C1458.06 2088.9 1457.59 2078.44 1457.19 2074.85 C1456.78 2071.26 1456.72 2069.54 1456.06 2067.35 C1455.41 2065.17 1454.57 2063.92 1453.25 2061.73 C1451.94 2059.55 1449.98 2056.74 1448.2 2054.24 C1446.42 2051.74 1443.73 2048.93 1442.57 2046.74 C1441.42 2044.56 1441.26 2043 1441.26 2041.12 C1441.26 2039.25 1441.64 2037.69 1442.57 2035.5 C1443.51 2033.32 1445.79 2030.51 1446.88 2028.01 C1447.98 2025.51 1449.38 2023.33 1449.13 2020.52 C1448.88 2017.7 1446.79 2014.27 1445.39 2011.15 C1443.98 2008.02 1442.11 2004.59 1440.7 2001.78 C1439.3 1998.97 1438.36 1996.78 1436.95 1994.29 C1435.55 1991.79 1434.14 1989.29 1432.27 1986.79 C1430.4 1984.29 1427.18 1981.33 1425.71 1979.3 C1424.25 1977.27 1423.71 1975.86 1423.46 1974.61 C1423.22 1973.36 1423.37 1973.21 1424.21 1971.8 C1425.06 1970.4 1426.24 1968.37 1428.52 1966.18 C1430.8 1964 1434.77 1961.19 1437.89 1958.69 C1441.01 1956.19 1444.26 1953.69 1447.26 1951.19 C1450.26 1948.7 1454.22 1946.2 1455.88 1943.7 C1457.53 1941.2 1456.75 1939.33 1457.19 1936.21 C1457.63 1933.08 1458.06 1924.96 1458.5 1924.96 Z" fill="none" stroke="#000000" stroke-width="3.7" stroke-linejoin="round"/>
<line x1="1225.6" y1="1979.3" x2="1261.19" y2="1979.3" stroke="#000000" stroke-width="1.1" stroke-dasharray="1.4 1.6"/>
<line x1="1212.48" y1="2011.71" x2="1275.25" y2="2011.71" stroke="#000000" stroke-width="1.2" stroke-dasharray="9 2.5"/>
<line x1="1222.79" y1="2040.56" x2="1264.94" y2="2040.56" stroke="#000000" stroke-width="1.1" stroke-dasharray="1.4 1.6"/>
<line x1="1320.21" y1="1938.08" x2="1381.1" y2="1938.08" stroke="#000000" stroke-width="1.1" stroke-dasharray="1.4 1.6"/>
<line x1="1340.82" y1="1967.68" x2="1360.49" y2="1967.68" stroke="#000000" stroke-width="1.2" stroke-dasharray="9 2.5"/>
<line x1="1321.15" y1="1998.03" x2="1381.1" y2="1998.03" stroke="#000000" stroke-width="1.1" stroke-dasharray="1.4 1.6"/>
<line x1="1427" y1="1972.37" x2="1489.77" y2="1972.37" stroke="#000000" stroke-width="1.1" stroke-dasharray="1.4 1.6"/>
<line x1="1435.43" y1="1988.29" x2="1481.33" y2="1988.29" stroke="#000000" stroke-width="1.2" stroke-dasharray="9 2.5"/>
<line x1="1447.61" y1="2031.76" x2="1469.16" y2="2031.76" stroke="#000000" stroke-width="1.1" stroke-dasharray="1.4 1.6"/>
<rect x="1235.9" y="1964.6" width="15" height="13.6" fill="#8e5a1f"/>
<rect x="1235.9" y="1996.9" width="15" height="13.6" fill="#cf88ab"/>
<rect x="1235.9" y="2012.8" width="15" height="13.6" fill="#c9a25b"/>
<rect x="1235.9" y="2041.8" width="15" height="13.6" fill="#7f5fae"/>
<rect x="1343.2" y="1927.9" width="15" height="13.6" fill="#8e5a1f"/>
<rect x="1343.2" y="1941.6" width="15" height="13.6" fill="#cf88ab"/>
<rect x="1343.2" y="1980.9" width="15" height="13.6" fill="#c9a25b"/>
<rect x="1343.2" y="1994.6" width="15" height="13.6" fill="#7f5fae"/>
<rect x="1436.9" y="1967.4" width="15" height="13.6" fill="#cf88ab"/>
<rect x="1464.5" y="1965.6" width="15" height="13.6" fill="#8e5a1f"/>
<rect x="1450.6" y="1996.5" width="15" height="13.6" fill="#c9a25b"/>
<rect x="1450.6" y="2035.1" width="15" height="13.6" fill="#7f5fae"/>
<line x1="1171.4" y1="1817.2" x2="1171.4" y2="2158.3" stroke="#000000" stroke-width="2.5"/>
<line x1="1170.2" y1="2157.1" x2="1530.6" y2="2157.1" stroke="#000000" stroke-width="2.5"/>
<line x1="1158.8" y1="1818.4" x2="1171.4" y2="1818.4" stroke="#000000" stroke-width="2.5"/>
<text class="lsb" x="1132.15" y="1824.9" font-size="18.5" textLength="23.05" lengthAdjust="spacingAndGlyphs" fill="#000000">40</text>
<line x1="1158.8" y1="1886.14" x2="1171.4" y2="1886.14" stroke="#000000" stroke-width="2.5"/>
<text class="lsb" x="1132.15" y="1892.64" font-size="18.5" textLength="23.05" lengthAdjust="spacingAndGlyphs" fill="#000000">30</text>
<line x1="1158.8" y1="1953.88" x2="1171.4" y2="1953.88" stroke="#000000" stroke-width="2.5"/>
<text class="lsb" x="1132.15" y="1960.38" font-size="18.5" textLength="23.05" lengthAdjust="spacingAndGlyphs" fill="#000000">20</text>
<line x1="1158.8" y1="2021.62" x2="1171.4" y2="2021.62" stroke="#000000" stroke-width="2.5"/>
<text class="lsb" x="1132.15" y="2028.12" font-size="18.5" textLength="23.05" lengthAdjust="spacingAndGlyphs" fill="#000000">10</text>
<line x1="1158.8" y1="2089.36" x2="1171.4" y2="2089.36" stroke="#000000" stroke-width="2.5"/>
<text class="lsb" x="1143.68" y="2095.86" font-size="18.5" textLength="11.52" lengthAdjust="spacingAndGlyphs" fill="#000000">0</text>
<line x1="1158.8" y1="2157.1" x2="1171.4" y2="2157.1" stroke="#000000" stroke-width="2.5"/>
<text class="lsb" x="1125.25" y="2163.6" font-size="18.5" textLength="29.95" lengthAdjust="spacingAndGlyphs" fill="#000000">-10</text>
<line x1="1243.9" y1="2157.1" x2="1243.9" y2="2167.4" stroke="#000000" stroke-width="2.5"/>
<line x1="1351" y1="2157.1" x2="1351" y2="2167.4" stroke="#000000" stroke-width="2.5"/>
<line x1="1458.8" y1="2157.1" x2="1458.8" y2="2167.4" stroke="#000000" stroke-width="2.5"/>
<text class="ls" x="1163.5" y="2195" font-size="22.5" textLength="134.1" lengthAdjust="spacingAndGlyphs">L-92;L-44;L-3</text>
<text class="ls" x="1323.7" y="2195" font-size="22.5" textLength="40" lengthAdjust="spacingAndGlyphs">R+1</text>
<text class="ls" x="1399.8" y="2195" font-size="22.5" textLength="116.8" lengthAdjust="spacingAndGlyphs">R+45;R+82</text>
<text class="lsb" font-size="25" transform="translate(1110.8 2038.7) rotate(-90)" textLength="135" lengthAdjust="spacingAndGlyphs"><tspan class="lsbi">µ</tspan>M TBARS</text>
<rect x="1629" y="1935.8" width="260.6" height="192.2" fill="#ffffff" stroke="#d5d7d8" stroke-width="3.5" rx="6" ry="6"/>
<text class="lsb" x="1641" y="1977" font-size="31" textLength="156.5" lengthAdjust="spacingAndGlyphs">Astronauts:</text>
<rect x="1656.1" y="1999.9" width="19.3" height="19" fill="#7f5fae"/>
<text class="dv" x="1710.3" y="2015.8" font-size="24.66" textLength="64.3" lengthAdjust="spacingAndGlyphs">C001</text>
<rect x="1656.1" y="2032" width="19.3" height="19" fill="#8e5a1f"/>
<text class="dv" x="1710.3" y="2049.8" font-size="24.66" textLength="64.3" lengthAdjust="spacingAndGlyphs">C002</text>
<rect x="1656.1" y="2063.8" width="19.3" height="19" fill="#cf88ab"/>
<text class="dv" x="1710.3" y="2082.6" font-size="24.66" textLength="64.3" lengthAdjust="spacingAndGlyphs">C003</text>
<rect x="1656.1" y="2093.7" width="19.3" height="19" fill="#c9a25b"/>
<text class="dv" x="1710.3" y="2110.8" font-size="24.66" textLength="64.3" lengthAdjust="spacingAndGlyphs">C004</text>
</g>
</svg>
</body></html>
